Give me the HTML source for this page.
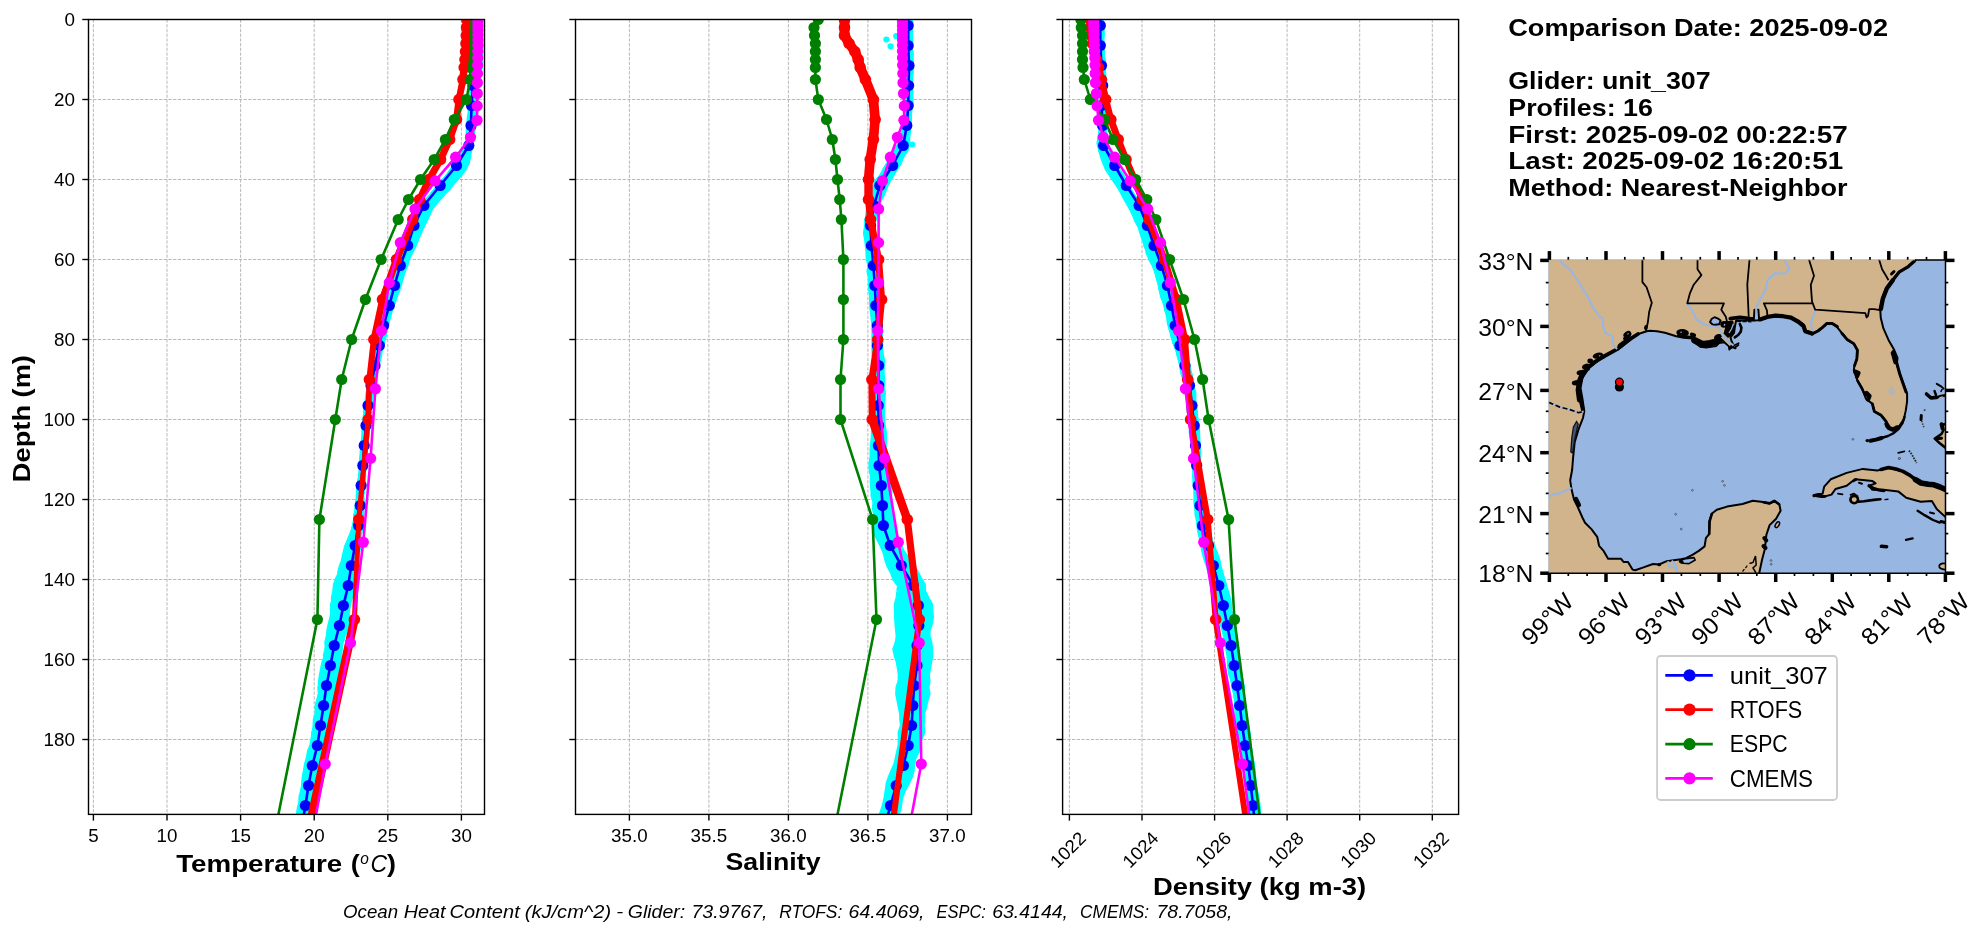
<!DOCTYPE html>
<html lang="en"><head><meta charset="utf-8"><title>Glider / model profile comparison</title>
<style>html,body{margin:0;padding:0;background:#fff;overflow:hidden}svg{display:block}text{font-family:"Liberation Sans",sans-serif}svg{will-change:transform}</style></head>
<body>
<svg width="1987" height="934" viewBox="0 0 1987 934" font-family="Liberation Sans, sans-serif">
<rect width="1987" height="934" fill="#fff"/>
<defs>
<clipPath id="clip0"><rect x="88.5" y="19.5" width="396.0" height="794.9"/></clipPath>
<clipPath id="clip1"><rect x="575.5" y="19.5" width="396.0" height="794.9"/></clipPath>
<clipPath id="clip2"><rect x="1062.6" y="19.5" width="396.0" height="794.9"/></clipPath>
<clipPath id="clipmap"><rect x="1548.6" y="259.7" width="396.9" height="313.5"/></clipPath>
</defs>
<g stroke="#b0b0b0" stroke-width="0.9" stroke-dasharray="3.3 1.4" fill="none">
<line x1="93.4" y1="19.5" x2="93.4" y2="814.4"/>
<line x1="167.0" y1="19.5" x2="167.0" y2="814.4"/>
<line x1="240.6" y1="19.5" x2="240.6" y2="814.4"/>
<line x1="314.2" y1="19.5" x2="314.2" y2="814.4"/>
<line x1="387.8" y1="19.5" x2="387.8" y2="814.4"/>
<line x1="461.4" y1="19.5" x2="461.4" y2="814.4"/>
<line x1="88.5" y1="19.5" x2="484.5" y2="19.5"/>
<line x1="88.5" y1="99.5" x2="484.5" y2="99.5"/>
<line x1="88.5" y1="179.5" x2="484.5" y2="179.5"/>
<line x1="88.5" y1="259.5" x2="484.5" y2="259.5"/>
<line x1="88.5" y1="339.5" x2="484.5" y2="339.5"/>
<line x1="88.5" y1="419.5" x2="484.5" y2="419.5"/>
<line x1="88.5" y1="499.5" x2="484.5" y2="499.5"/>
<line x1="88.5" y1="579.5" x2="484.5" y2="579.5"/>
<line x1="88.5" y1="659.5" x2="484.5" y2="659.5"/>
<line x1="88.5" y1="739.5" x2="484.5" y2="739.5"/>
</g>
<g clip-path="url(#clip0)">
<g fill="none" stroke="#00ffff" stroke-width="6" stroke-linecap="round" stroke-linejoin="round">
<polyline points="476.1,21.9 476.6,28.3 476.4,34.7 476.2,41.1 475.6,47.5 476.3,53.9 475.8,60.3 474.7,66.7 474.2,73.1 472.1,79.5 472.6,85.9 472.2,92.3 470.8,98.7 470.4,105.1 471.0,111.5 469.7,117.9 469.3,124.3 468.7,130.7 468.4,137.1 468.3,143.5 466.3,149.9 461.3,156.3 458.7,162.7 453.2,169.1 448.7,175.5 443.8,181.9 437.7,188.3 433.3,194.7 426.9,201.1 421.8,207.5 419.2,213.9 416.9,220.3 414.0,226.7 411.4,233.1 410.4,239.5 408.2,245.9 404.5,252.3 402.5,258.7 400.7,265.1 399.5,271.5 396.2,277.9 395.0,284.3 393.6,290.7 390.9,297.1 389.2,303.5 387.6,309.9 385.4,316.3 383.2,322.7 382.1,329.1 380.6,335.5 379.0,341.9 378.7,348.3 376.5,354.7 375.4,361.1 374.5,367.5 373.3,373.9 372.2,380.3 370.5,386.7 368.9,393.1 369.0,399.5 368.1,405.9 367.0,412.3 366.4,418.7 365.3,425.1 364.7,431.5 364.3,437.9 362.9,444.3 363.3,450.7 363.1,457.1 361.3,463.5 361.9,469.9 361.3,476.3 359.6,482.7 358.9,489.1 359.2,495.5 357.9,501.9 357.4,508.3 356.8,514.7 355.8,521.1 354.6,527.5 352.3,533.9 349.7,540.3 347.0,546.7 345.4,553.1 344.0,559.5 342.9,565.9 341.4,572.3 338.0,578.7 335.8,585.1 335.2,591.5 333.8,597.9 334.1,604.3 333.5,610.7 332.5,617.1 330.8,623.5 329.4,629.9 328.7,636.3 327.2,642.7 327.9,649.1 327.3,655.5 324.4,661.9 323.1,668.3 321.9,674.7 320.9,681.1 320.6,687.5 321.0,693.9 319.0,700.3 317.4,706.7 317.7,713.1 315.8,719.5 315.5,725.9 314.9,732.3 313.7,738.7 312.5,745.1 309.9,751.5 308.8,757.9 306.9,764.3 305.9,770.7 305.1,777.1 304.1,783.5 303.5,789.9 301.5,796.3 301.2,802.7 299.6,809.1 298.7,815.5"/>
<polyline points="475.6,21.9 477.1,28.3 476.2,34.7 476.1,41.1 476.0,47.5 475.7,53.9 476.5,60.3 476.3,66.7 474.6,73.1 473.0,79.5 471.6,85.9 471.1,92.3 470.8,98.7 470.9,105.1 470.8,111.5 471.2,117.9 471.1,124.3 469.5,130.7 469.2,137.1 468.0,143.5 465.8,149.9 461.6,156.3 459.9,162.7 454.0,169.1 449.5,175.5 443.4,181.9 438.7,188.3 432.5,194.7 428.9,201.1 422.9,207.5 421.0,213.9 417.5,220.3 413.9,226.7 411.2,233.1 409.8,239.5 408.0,245.9 405.3,252.3 402.7,258.7 401.3,265.1 398.8,271.5 396.5,277.9 395.4,284.3 393.6,290.7 390.7,297.1 389.3,303.5 387.3,309.9 384.7,316.3 383.3,322.7 382.9,329.1 381.1,335.5 379.1,341.9 378.0,348.3 376.7,354.7 375.8,361.1 374.8,367.5 372.2,373.9 370.9,380.3 370.3,386.7 368.5,393.1 367.7,399.5 366.7,405.9 366.1,412.3 366.4,418.7 364.8,425.1 364.9,431.5 365.0,437.9 362.9,444.3 363.6,450.7 362.9,457.1 361.7,463.5 362.5,469.9 361.4,476.3 360.1,482.7 360.4,489.1 358.6,495.5 359.5,501.9 358.8,508.3 356.2,514.7 356.2,521.1 354.6,527.5 353.3,533.9 350.7,540.3 349.9,546.7 347.8,553.1 344.7,559.5 341.8,565.9 340.2,572.3 339.9,578.7 338.6,585.1 336.3,591.5 335.5,597.9 333.0,604.3 333.0,610.7 332.9,617.1 332.2,623.5 331.0,629.9 330.9,636.3 329.0,642.7 327.3,649.1 325.8,655.5 326.4,661.9 326.5,668.3 324.9,674.7 323.2,681.1 320.5,687.5 320.7,693.9 319.7,700.3 320.6,706.7 318.0,713.1 317.1,719.5 316.8,725.9 314.1,732.3 313.6,738.7 313.1,745.1 313.0,751.5 310.9,757.9 309.3,764.3 306.2,770.7 304.7,777.1 304.3,783.5 304.5,789.9 303.4,796.3 302.8,802.7 300.8,809.1 298.3,815.5"/>
<polyline points="476.2,21.9 476.2,28.3 476.7,34.7 476.3,41.1 477.0,47.5 475.7,53.9 477.2,60.3 475.4,66.7 475.1,73.1 474.1,79.5 471.6,85.9 472.2,92.3 472.7,98.7 470.4,105.1 470.9,111.5 470.5,117.9 470.2,124.3 469.3,130.7 468.6,137.1 468.0,143.5 465.5,149.9 462.1,156.3 459.7,162.7 455.6,169.1 449.6,175.5 444.3,181.9 439.4,188.3 434.7,194.7 427.8,201.1 424.0,207.5 420.0,213.9 417.7,220.3 414.6,226.7 413.0,233.1 410.1,239.5 408.6,245.9 405.8,252.3 403.4,258.7 400.5,265.1 400.0,271.5 396.5,277.9 395.3,284.3 394.2,290.7 391.9,297.1 389.2,303.5 388.4,309.9 385.4,316.3 384.0,322.7 382.4,329.1 381.4,335.5 379.4,341.9 378.3,348.3 376.8,354.7 376.4,361.1 374.7,367.5 372.7,373.9 372.2,380.3 370.8,386.7 369.2,393.1 368.6,399.5 366.8,405.9 366.3,412.3 365.4,418.7 364.8,425.1 365.3,431.5 365.0,437.9 364.4,444.3 362.7,450.7 363.5,457.1 362.0,463.5 362.2,469.9 361.5,476.3 360.6,482.7 360.3,489.1 360.1,495.5 359.2,501.9 358.4,508.3 358.0,514.7 356.8,521.1 354.7,527.5 353.8,533.9 350.9,540.3 348.6,546.7 348.9,553.1 347.5,559.5 344.7,565.9 342.9,572.3 340.5,578.7 337.6,585.1 338.0,591.5 337.4,597.9 337.2,604.3 335.2,610.7 333.4,617.1 333.1,623.5 331.9,629.9 331.9,636.3 329.6,642.7 329.7,649.1 328.8,655.5 326.0,661.9 324.7,668.3 324.7,674.7 324.5,681.1 323.7,687.5 322.4,693.9 320.7,700.3 320.0,706.7 319.7,713.1 318.3,719.5 317.6,725.9 317.6,732.3 314.7,738.7 313.9,745.1 312.7,751.5 311.3,757.9 310.1,764.3 308.9,770.7 307.0,777.1 306.2,783.5 303.1,789.9 303.0,796.3 302.5,802.7 302.3,809.1 300.5,815.5"/>
<polyline points="477.0,21.9 477.3,28.3 476.9,34.7 477.4,41.1 476.7,47.5 476.2,53.9 477.0,60.3 476.2,66.7 474.3,73.1 473.6,79.5 472.0,85.9 472.6,92.3 472.8,98.7 472.1,105.1 472.2,111.5 470.4,117.9 471.3,124.3 470.5,130.7 468.9,137.1 468.6,143.5 465.8,149.9 462.9,156.3 459.9,162.7 455.2,169.1 450.2,175.5 446.0,181.9 440.9,188.3 434.3,194.7 429.3,201.1 424.7,207.5 420.3,213.9 418.8,220.3 414.9,226.7 413.4,233.1 410.8,239.5 407.7,245.9 405.3,252.3 404.1,258.7 401.2,265.1 399.8,271.5 397.2,277.9 396.0,284.3 394.4,290.7 392.0,297.1 389.4,303.5 388.7,309.9 385.8,316.3 383.8,322.7 382.4,329.1 382.0,335.5 379.7,341.9 378.2,348.3 377.3,354.7 376.1,361.1 374.9,367.5 373.5,373.9 372.1,380.3 370.5,386.7 369.6,393.1 369.6,399.5 367.7,405.9 367.5,412.3 366.0,418.7 364.8,425.1 364.9,431.5 364.6,437.9 363.8,444.3 362.9,450.7 362.3,457.1 361.6,463.5 362.3,469.9 361.5,476.3 361.4,482.7 360.9,489.1 360.1,495.5 359.6,501.9 359.2,508.3 358.3,514.7 357.3,521.1 356.2,527.5 353.4,533.9 352.7,540.3 350.7,546.7 349.1,553.1 347.9,559.5 346.2,565.9 344.0,572.3 341.7,578.7 340.2,585.1 337.8,591.5 338.1,597.9 338.3,604.3 336.3,610.7 334.9,617.1 333.7,623.5 332.6,629.9 331.8,636.3 330.7,642.7 330.1,649.1 328.9,655.5 327.9,661.9 325.8,668.3 325.1,674.7 324.2,681.1 324.5,687.5 323.7,693.9 321.8,700.3 321.7,706.7 319.2,713.1 319.6,719.5 318.0,725.9 317.8,732.3 316.7,738.7 315.2,745.1 312.7,751.5 311.9,757.9 310.3,764.3 309.4,770.7 308.1,777.1 306.2,783.5 304.9,789.9 304.2,796.3 303.4,802.7 303.4,809.1 302.2,815.5"/>
<polyline points="477.0,21.9 477.0,28.3 478.3,34.7 477.1,41.1 477.2,47.5 477.5,53.9 476.1,60.3 476.0,66.7 475.5,73.1 473.8,79.5 472.3,85.9 472.9,92.3 472.2,98.7 471.7,105.1 472.0,111.5 471.2,117.9 471.0,124.3 470.0,130.7 469.7,137.1 468.6,143.5 466.7,149.9 464.0,156.3 461.2,162.7 455.6,169.1 451.4,175.5 446.6,181.9 440.2,188.3 436.2,194.7 430.3,201.1 425.6,207.5 420.9,213.9 417.7,220.3 416.0,226.7 414.0,233.1 411.0,239.5 409.7,245.9 405.9,252.3 404.7,258.7 402.2,265.1 400.3,271.5 398.8,277.9 395.9,284.3 394.3,290.7 391.0,297.1 390.2,303.5 387.3,309.9 385.4,316.3 384.9,322.7 382.1,329.1 381.7,335.5 380.8,341.9 378.7,348.3 377.4,354.7 376.5,361.1 375.1,367.5 373.3,373.9 371.1,380.3 371.6,386.7 370.1,393.1 368.8,399.5 368.2,405.9 366.8,412.3 366.0,418.7 364.9,425.1 365.0,431.5 364.8,437.9 363.4,444.3 363.1,450.7 362.9,457.1 361.7,463.5 362.5,469.9 360.8,476.3 361.6,482.7 360.6,489.1 359.6,495.5 358.6,501.9 358.9,508.3 356.9,514.7 356.5,521.1 356.8,527.5 355.1,533.9 353.2,540.3 351.1,546.7 349.2,553.1 347.9,559.5 346.9,565.9 344.4,572.3 344.3,578.7 342.3,585.1 339.5,591.5 338.0,597.9 337.0,604.3 337.4,610.7 336.4,617.1 336.4,623.5 334.4,629.9 332.9,636.3 332.1,642.7 330.7,649.1 331.1,655.5 330.1,661.9 328.2,668.3 325.6,674.7 325.8,681.1 324.6,687.5 324.1,693.9 324.3,700.3 321.7,706.7 320.0,713.1 319.8,719.5 319.0,725.9 318.1,732.3 317.6,738.7 317.0,745.1 315.1,751.5 312.6,757.9 310.9,764.3 309.5,770.7 308.1,777.1 308.4,783.5 305.8,789.9 304.5,796.3 303.8,802.7 302.5,809.1 302.8,815.5"/>
<polyline points="477.7,21.9 477.0,28.3 478.0,34.7 477.1,41.1 477.8,47.5 477.9,53.9 477.3,60.3 476.2,66.7 476.4,73.1 473.6,79.5 474.0,85.9 472.5,92.3 472.6,98.7 472.1,105.1 471.8,111.5 471.7,117.9 471.6,124.3 470.9,130.7 469.0,137.1 468.7,143.5 466.3,149.9 464.8,156.3 461.1,162.7 457.9,169.1 451.8,175.5 447.8,181.9 442.1,188.3 435.8,194.7 429.6,201.1 425.5,207.5 423.2,213.9 419.8,220.3 417.1,226.7 415.2,233.1 411.3,239.5 409.0,245.9 407.5,252.3 403.9,258.7 401.5,265.1 400.7,271.5 398.3,277.9 397.0,284.3 394.3,290.7 391.7,297.1 390.5,303.5 388.2,309.9 386.7,316.3 384.0,322.7 382.1,329.1 382.3,335.5 380.9,341.9 378.4,348.3 376.9,354.7 376.7,361.1 375.0,367.5 373.2,373.9 372.7,380.3 371.5,386.7 370.6,393.1 369.7,399.5 368.5,405.9 366.3,412.3 366.8,418.7 365.2,425.1 366.2,431.5 365.5,437.9 364.4,444.3 363.5,450.7 363.5,457.1 362.3,463.5 362.6,469.9 362.6,476.3 360.3,482.7 360.3,489.1 360.5,495.5 358.9,501.9 358.8,508.3 358.9,514.7 357.6,521.1 355.9,527.5 354.4,533.9 352.7,540.3 351.5,546.7 351.3,553.1 348.7,559.5 347.2,565.9 346.2,572.3 343.5,578.7 342.1,585.1 341.7,591.5 340.0,597.9 339.4,604.3 338.2,610.7 336.8,617.1 335.3,623.5 334.6,629.9 335.2,636.3 334.3,642.7 332.9,649.1 331.2,655.5 330.1,661.9 329.2,668.3 327.2,674.7 327.5,681.1 325.6,687.5 325.0,693.9 323.8,700.3 322.7,706.7 321.0,713.1 320.8,719.5 319.8,725.9 319.2,732.3 318.5,738.7 316.0,745.1 314.4,751.5 313.5,757.9 311.6,764.3 311.8,770.7 309.4,777.1 307.6,783.5 306.2,789.9 305.5,796.3 305.0,802.7 304.3,809.1 303.3,815.5"/>
<polyline points="477.3,21.9 478.6,28.3 478.4,34.7 478.1,41.1 477.6,47.5 478.5,53.9 477.0,60.3 476.5,66.7 476.8,73.1 474.8,79.5 473.7,85.9 473.3,92.3 473.3,98.7 472.9,105.1 472.8,111.5 472.0,117.9 472.1,124.3 471.0,130.7 470.5,137.1 469.6,143.5 466.6,149.9 464.6,156.3 462.2,162.7 458.1,169.1 452.6,175.5 448.1,181.9 443.5,188.3 436.5,194.7 430.5,201.1 425.5,207.5 422.2,213.9 420.3,220.3 417.7,226.7 416.0,233.1 412.5,239.5 409.2,245.9 406.5,252.3 405.0,258.7 402.0,265.1 400.1,271.5 398.7,277.9 397.2,284.3 394.1,290.7 391.9,297.1 389.5,303.5 389.4,309.9 387.3,316.3 384.8,322.7 382.3,329.1 382.5,335.5 380.6,341.9 379.5,348.3 378.0,354.7 376.4,361.1 374.7,367.5 373.9,373.9 371.4,380.3 370.6,386.7 370.2,393.1 369.0,399.5 368.1,405.9 367.5,412.3 366.0,418.7 365.5,425.1 364.6,431.5 365.3,437.9 364.7,444.3 363.0,450.7 362.7,457.1 362.5,463.5 362.9,469.9 362.3,476.3 360.7,482.7 360.7,489.1 360.4,495.5 360.2,501.9 358.6,508.3 358.0,514.7 358.4,521.1 357.3,527.5 355.0,533.9 353.2,540.3 352.0,546.7 350.0,553.1 350.0,559.5 349.1,565.9 346.5,572.3 345.7,578.7 343.7,585.1 341.0,591.5 341.9,597.9 341.5,604.3 340.5,610.7 338.5,617.1 337.4,623.5 336.8,629.9 335.2,636.3 335.2,642.7 334.2,649.1 332.7,655.5 331.6,661.9 329.3,668.3 327.6,674.7 327.7,681.1 326.5,687.5 326.0,693.9 324.3,700.3 323.6,706.7 322.8,713.1 322.4,719.5 321.5,725.9 320.7,732.3 319.7,738.7 317.2,745.1 315.8,751.5 314.7,757.9 313.0,764.3 311.6,770.7 311.1,777.1 309.9,783.5 307.5,789.9 305.9,796.3 305.3,802.7 305.4,809.1 303.8,815.5"/>
<polyline points="479.2,21.9 477.4,28.3 477.3,34.7 478.5,41.1 478.3,47.5 478.7,53.9 478.7,60.3 477.0,66.7 476.8,73.1 474.6,79.5 474.2,85.9 472.8,92.3 473.8,98.7 472.4,105.1 472.9,111.5 472.2,117.9 472.1,124.3 470.8,130.7 469.3,137.1 468.9,143.5 467.1,149.9 466.0,156.3 461.7,162.7 458.9,169.1 452.9,175.5 448.5,181.9 443.9,188.3 437.7,194.7 430.7,201.1 426.0,207.5 423.1,213.9 421.0,220.3 418.2,226.7 415.5,233.1 412.0,239.5 410.0,245.9 407.5,252.3 404.6,258.7 403.1,265.1 400.5,271.5 398.9,277.9 396.3,284.3 394.5,290.7 391.9,297.1 390.7,303.5 388.9,309.9 387.7,316.3 384.6,322.7 382.6,329.1 381.7,335.5 381.0,341.9 378.8,348.3 378.7,354.7 376.0,361.1 375.2,367.5 372.9,373.9 372.4,380.3 371.6,386.7 370.2,393.1 368.8,399.5 368.4,405.9 368.4,412.3 366.4,418.7 366.6,425.1 365.7,431.5 366.0,437.9 364.1,444.3 364.6,450.7 362.6,457.1 363.8,463.5 361.7,469.9 361.7,476.3 361.0,482.7 360.5,489.1 361.1,495.5 359.4,501.9 359.6,508.3 359.0,514.7 357.5,521.1 357.9,527.5 356.7,533.9 354.2,540.3 352.2,546.7 351.3,553.1 350.8,559.5 350.3,565.9 348.4,572.3 345.6,578.7 343.6,585.1 343.5,591.5 342.7,597.9 342.0,604.3 342.0,610.7 339.7,617.1 339.0,623.5 337.6,629.9 336.7,636.3 335.0,642.7 334.7,649.1 334.2,655.5 331.5,661.9 329.6,668.3 328.5,674.7 328.9,681.1 328.0,687.5 327.6,693.9 326.7,700.3 324.6,706.7 323.1,713.1 323.2,719.5 322.3,725.9 320.5,732.3 319.6,738.7 318.7,745.1 316.0,751.5 315.7,757.9 312.8,764.3 313.5,770.7 312.3,777.1 309.8,783.5 308.2,789.9 307.3,796.3 306.0,802.7 306.8,809.1 305.4,815.5"/>
<polyline points="478.0,21.9 478.4,28.3 478.5,34.7 478.9,41.1 479.0,47.5 478.8,53.9 477.4,60.3 477.6,66.7 476.2,73.1 476.0,79.5 474.1,85.9 473.8,92.3 473.2,98.7 472.6,105.1 473.4,111.5 473.2,117.9 473.1,124.3 471.2,130.7 470.4,137.1 468.6,143.5 467.7,149.9 465.2,156.3 463.1,162.7 460.7,169.1 455.9,175.5 449.9,181.9 444.1,188.3 437.9,194.7 432.4,201.1 427.4,207.5 425.4,213.9 421.1,220.3 418.8,226.7 415.6,233.1 412.6,239.5 410.8,245.9 407.4,252.3 406.6,258.7 403.9,265.1 400.6,271.5 399.8,277.9 396.9,284.3 395.6,290.7 392.3,297.1 391.5,303.5 389.4,309.9 386.8,316.3 384.8,322.7 383.5,329.1 381.5,335.5 381.8,341.9 379.5,348.3 378.1,354.7 376.5,361.1 374.4,367.5 374.1,373.9 373.3,380.3 372.2,386.7 370.2,393.1 369.2,399.5 369.1,405.9 368.2,412.3 367.4,418.7 366.8,425.1 366.5,431.5 364.9,437.9 364.3,444.3 363.7,450.7 363.1,457.1 363.4,463.5 361.9,469.9 362.4,476.3 361.1,482.7 360.8,489.1 359.9,495.5 360.9,501.9 359.4,508.3 358.5,514.7 359.0,521.1 356.5,527.5 355.7,533.9 355.9,540.3 353.6,546.7 353.1,553.1 351.9,559.5 349.7,565.9 348.0,572.3 347.3,578.7 345.5,585.1 345.3,591.5 344.0,597.9 343.8,604.3 342.1,610.7 339.9,617.1 340.0,623.5 339.7,629.9 338.3,636.3 337.1,642.7 335.4,649.1 332.7,655.5 331.9,661.9 331.5,668.3 330.8,674.7 329.4,681.1 328.2,687.5 327.1,693.9 326.0,700.3 324.9,706.7 325.1,713.1 324.5,719.5 322.6,725.9 322.3,732.3 320.3,738.7 319.8,745.1 317.8,751.5 317.1,757.9 315.3,764.3 314.1,770.7 311.2,777.1 309.9,783.5 310.0,789.9 308.3,796.3 308.0,802.7 306.5,809.1 304.6,815.5"/>
<polyline points="477.9,21.9 479.0,28.3 479.0,34.7 479.5,41.1 479.5,47.5 478.8,53.9 478.3,60.3 478.9,66.7 476.6,73.1 476.2,79.5 474.4,85.9 474.8,92.3 472.8,98.7 473.5,105.1 472.9,111.5 474.0,117.9 472.0,124.3 471.9,130.7 469.5,137.1 469.0,143.5 467.8,149.9 466.6,156.3 465.1,162.7 460.3,169.1 454.2,175.5 449.3,181.9 443.8,188.3 439.6,194.7 433.0,201.1 427.9,207.5 425.1,213.9 421.8,220.3 418.8,226.7 416.3,233.1 414.1,239.5 410.4,245.9 408.9,252.3 405.4,258.7 403.0,265.1 400.7,271.5 400.6,277.9 397.7,284.3 394.7,290.7 394.1,297.1 391.4,303.5 389.6,309.9 386.6,316.3 385.0,322.7 384.3,329.1 382.5,335.5 381.3,341.9 379.8,348.3 378.4,354.7 377.4,361.1 376.0,367.5 374.2,373.9 371.9,380.3 371.3,386.7 370.3,393.1 369.3,399.5 369.3,405.9 367.9,412.3 367.8,418.7 367.1,425.1 366.3,431.5 364.5,437.9 365.0,444.3 364.1,450.7 364.3,457.1 362.6,463.5 361.8,469.9 362.5,476.3 362.0,482.7 361.6,489.1 360.3,495.5 360.8,501.9 360.6,508.3 359.9,514.7 358.8,521.1 357.9,527.5 358.0,533.9 356.8,540.3 355.0,546.7 352.8,553.1 350.9,559.5 350.6,565.9 350.6,572.3 348.7,578.7 347.4,585.1 345.3,591.5 344.8,597.9 343.3,604.3 343.6,610.7 342.6,617.1 342.7,623.5 339.4,629.9 338.6,636.3 336.5,642.7 336.4,649.1 336.4,655.5 334.0,661.9 332.6,668.3 330.8,674.7 329.4,681.1 329.5,687.5 328.4,693.9 328.3,700.3 326.4,706.7 325.6,713.1 323.7,719.5 323.4,725.9 322.1,732.3 321.1,738.7 320.9,745.1 318.5,751.5 315.9,757.9 314.7,764.3 313.8,770.7 313.3,777.1 312.4,783.5 310.0,789.9 309.3,796.3 307.7,802.7 307.5,809.1 306.4,815.5"/>
<polyline points="479.4,21.9 479.7,28.3 479.3,34.7 479.1,41.1 479.0,47.5 479.8,53.9 479.6,60.3 478.4,66.7 478.1,73.1 476.6,79.5 474.7,85.9 474.4,92.3 473.4,98.7 474.4,105.1 472.8,111.5 472.9,117.9 473.4,124.3 472.5,130.7 470.3,137.1 469.9,143.5 468.1,149.9 467.0,156.3 464.5,162.7 461.1,169.1 456.3,175.5 452.0,181.9 445.5,188.3 438.7,194.7 432.8,201.1 427.2,207.5 424.4,213.9 421.8,220.3 419.5,226.7 417.3,233.1 413.5,239.5 411.1,245.9 409.2,252.3 406.4,258.7 403.8,265.1 402.5,271.5 400.8,277.9 398.6,284.3 395.4,290.7 393.8,297.1 391.7,303.5 389.1,309.9 387.0,316.3 385.9,322.7 383.0,329.1 381.6,335.5 382.0,341.9 379.8,348.3 378.1,354.7 376.8,361.1 374.8,367.5 373.3,373.9 372.5,380.3 371.9,386.7 371.2,393.1 368.8,399.5 368.3,405.9 368.4,412.3 367.2,418.7 367.3,425.1 365.9,431.5 365.9,437.9 365.6,444.3 364.4,450.7 363.2,457.1 362.6,463.5 362.3,469.9 362.7,476.3 362.8,482.7 360.9,489.1 360.8,495.5 359.8,501.9 359.8,508.3 359.4,514.7 358.6,521.1 359.1,527.5 358.0,533.9 355.7,540.3 355.6,546.7 354.8,553.1 353.9,559.5 352.5,565.9 350.6,572.3 349.8,578.7 347.5,585.1 347.7,591.5 347.2,597.9 345.5,604.3 345.6,610.7 342.7,617.1 341.5,623.5 340.3,629.9 340.3,636.3 339.2,642.7 338.1,649.1 336.9,655.5 334.8,661.9 332.9,668.3 331.6,674.7 332.1,681.1 330.7,687.5 329.9,693.9 328.1,700.3 328.0,706.7 325.4,713.1 324.4,719.5 324.5,725.9 323.5,732.3 322.2,738.7 320.3,745.1 319.7,751.5 317.4,757.9 316.7,764.3 315.6,770.7 313.3,777.1 313.0,783.5 310.5,789.9 310.3,796.3 308.9,802.7 308.2,809.1 306.9,815.5"/>
<polyline points="478.9,21.9 479.6,28.3 480.1,34.7 478.5,41.1 479.8,47.5 478.8,53.9 479.8,60.3 478.5,66.7 477.1,73.1 475.9,79.5 475.9,85.9 475.3,92.3 473.6,98.7 474.0,105.1 474.2,111.5 473.7,117.9 473.1,124.3 472.1,130.7 470.2,137.1 469.2,143.5 467.8,149.9 466.5,156.3 465.3,162.7 461.5,169.1 455.8,175.5 451.8,181.9 446.5,188.3 440.5,194.7 434.6,201.1 429.6,207.5 425.0,213.9 423.7,220.3 420.0,226.7 418.0,233.1 414.6,239.5 412.6,245.9 409.9,252.3 405.9,258.7 403.4,265.1 402.4,271.5 400.3,277.9 398.7,284.3 396.3,290.7 394.2,297.1 391.8,303.5 389.9,309.9 387.0,316.3 385.9,322.7 384.6,329.1 382.9,335.5 381.7,341.9 380.0,348.3 379.3,354.7 377.3,361.1 376.4,367.5 374.8,373.9 372.0,380.3 372.3,386.7 370.0,393.1 370.0,399.5 369.5,405.9 367.7,412.3 367.6,418.7 366.8,425.1 366.7,431.5 366.2,437.9 364.6,444.3 364.0,450.7 364.6,457.1 362.9,463.5 363.7,469.9 361.7,476.3 362.1,482.7 362.2,489.1 360.6,495.5 360.8,501.9 360.4,508.3 359.6,514.7 359.9,521.1 358.7,527.5 357.5,533.9 356.4,540.3 356.0,546.7 355.1,553.1 353.3,559.5 352.3,565.9 352.1,572.3 351.2,578.7 350.2,585.1 347.5,591.5 346.9,597.9 347.1,604.3 345.5,610.7 345.9,617.1 344.3,623.5 342.3,629.9 340.0,636.3 339.7,642.7 339.0,649.1 338.3,655.5 336.0,661.9 335.2,668.3 333.5,674.7 332.0,681.1 332.0,687.5 330.7,693.9 330.7,700.3 329.1,706.7 327.2,713.1 326.0,719.5 325.1,725.9 324.9,732.3 323.8,738.7 322.2,745.1 319.8,751.5 318.3,757.9 316.8,764.3 315.7,770.7 314.0,777.1 312.8,783.5 312.9,789.9 311.5,796.3 309.3,802.7 309.5,809.1 308.7,815.5"/>
<polyline points="479.7,21.9 479.1,28.3 479.4,34.7 479.7,41.1 479.9,47.5 480.1,53.9 479.6,60.3 480.0,66.7 477.8,73.1 476.8,79.5 476.1,85.9 474.6,92.3 475.6,98.7 473.7,105.1 474.5,111.5 473.9,117.9 473.8,124.3 472.0,130.7 470.8,137.1 470.1,143.5 468.1,149.9 468.4,156.3 466.7,162.7 462.8,169.1 457.2,175.5 451.8,181.9 448.0,188.3 440.3,194.7 435.2,201.1 429.5,207.5 426.0,213.9 424.3,220.3 421.3,226.7 417.4,233.1 416.0,239.5 412.9,245.9 409.7,252.3 406.5,258.7 404.2,265.1 402.4,271.5 400.2,277.9 398.5,284.3 395.5,290.7 394.1,297.1 392.3,303.5 389.5,309.9 387.5,316.3 386.8,322.7 383.7,329.1 382.7,335.5 381.3,341.9 379.2,348.3 379.0,354.7 377.4,361.1 376.2,367.5 373.8,373.9 373.5,380.3 372.0,386.7 371.2,393.1 369.8,399.5 369.2,405.9 368.2,412.3 367.2,418.7 367.7,425.1 365.9,431.5 365.4,437.9 364.6,444.3 363.9,450.7 363.8,457.1 364.5,463.5 362.7,469.9 363.4,476.3 362.5,482.7 361.6,489.1 361.2,495.5 361.2,501.9 360.4,508.3 361.2,514.7 360.4,521.1 358.9,527.5 358.1,533.9 358.1,540.3 355.4,546.7 354.6,553.1 354.5,559.5 354.8,565.9 353.0,572.3 351.7,578.7 350.9,585.1 349.3,591.5 348.9,597.9 347.7,604.3 346.9,610.7 346.8,617.1 344.1,623.5 343.1,629.9 341.9,636.3 340.2,642.7 339.9,649.1 338.3,655.5 337.4,661.9 334.7,668.3 333.7,674.7 333.3,681.1 332.9,687.5 332.1,693.9 331.0,700.3 329.4,706.7 326.9,713.1 327.3,719.5 327.1,725.9 326.0,732.3 325.3,738.7 324.0,745.1 320.4,751.5 318.7,757.9 318.4,764.3 315.9,770.7 315.6,777.1 314.0,783.5 312.8,789.9 311.2,796.3 310.4,802.7 310.5,809.1 309.6,815.5"/>
<polyline points="480.5,21.9 480.1,28.3 479.4,34.7 480.3,41.1 480.4,47.5 478.9,53.9 479.0,60.3 479.8,66.7 478.3,73.1 476.7,79.5 475.8,85.9 475.6,92.3 475.6,98.7 473.5,105.1 474.3,111.5 473.7,117.9 473.2,124.3 471.8,130.7 471.4,137.1 469.9,143.5 469.5,149.9 467.3,156.3 466.7,162.7 463.6,169.1 458.5,175.5 452.7,181.9 447.1,188.3 441.6,194.7 435.9,201.1 430.6,207.5 427.8,213.9 424.8,220.3 421.3,226.7 418.9,233.1 415.7,239.5 413.5,245.9 410.2,252.3 407.1,258.7 405.5,265.1 402.5,271.5 400.5,277.9 399.0,284.3 397.1,290.7 394.4,297.1 392.4,303.5 389.8,309.9 388.5,316.3 385.6,322.7 384.1,329.1 384.0,335.5 381.4,341.9 379.7,348.3 378.5,354.7 376.3,361.1 375.2,367.5 374.1,373.9 373.9,380.3 371.8,386.7 370.8,393.1 369.0,399.5 368.9,405.9 368.5,412.3 367.9,418.7 366.4,425.1 367.1,431.5 366.1,437.9 365.8,444.3 364.4,450.7 365.0,457.1 363.3,463.5 362.8,469.9 362.8,476.3 361.3,482.7 362.4,489.1 361.2,495.5 361.9,501.9 361.4,508.3 361.4,514.7 359.7,521.1 360.6,527.5 359.2,533.9 357.7,540.3 358.6,546.7 356.7,553.1 355.8,559.5 354.0,565.9 353.8,572.3 353.2,578.7 353.7,585.1 352.1,591.5 349.8,597.9 348.2,604.3 346.7,610.7 346.4,617.1 347.3,623.5 344.9,629.9 342.7,636.3 340.7,642.7 339.3,649.1 339.3,655.5 338.5,661.9 337.7,668.3 336.8,674.7 334.4,681.1 332.9,687.5 331.7,693.9 331.2,700.3 331.4,706.7 329.8,713.1 328.9,719.5 327.6,725.9 325.8,732.3 324.8,738.7 324.2,745.1 322.1,751.5 320.6,757.9 319.6,764.3 317.6,770.7 315.9,777.1 314.5,783.5 314.5,789.9 312.7,796.3 312.3,802.7 311.3,809.1 310.0,815.5"/>
</g>
<polyline points="477.0,25.5 477.0,45.5 476.5,65.5 473.0,85.5 471.5,105.5 471.0,125.5 468.8,145.5 456.5,165.5 440.2,185.5 423.9,205.5 414.0,225.5 407.7,245.5 400.3,265.5 394.5,285.5 389.3,305.5 383.6,325.5 379.4,345.5 375.0,365.5 371.0,385.5 368.0,405.5 366.0,425.5 364.2,445.5 362.8,465.5 361.1,485.5 360.2,505.5 358.5,525.5 355.1,545.5 351.3,565.5 348.2,585.5 343.4,605.5 339.4,625.5 334.2,645.5 330.4,665.5 326.5,685.5 323.6,705.5 320.5,725.5 317.4,745.5 312.3,765.5 308.5,785.5 305.4,805.5 302.0,825.5" fill="none" stroke="#0000ff" stroke-width="2.6" stroke-linejoin="round"/>
<g fill="#0000ff"><circle cx="477.0" cy="25.5" r="5.6"/><circle cx="477.0" cy="45.5" r="5.6"/><circle cx="476.5" cy="65.5" r="5.6"/><circle cx="473.0" cy="85.5" r="5.6"/><circle cx="471.5" cy="105.5" r="5.6"/><circle cx="471.0" cy="125.5" r="5.6"/><circle cx="468.8" cy="145.5" r="5.6"/><circle cx="456.5" cy="165.5" r="5.6"/><circle cx="440.2" cy="185.5" r="5.6"/><circle cx="423.9" cy="205.5" r="5.6"/><circle cx="414.0" cy="225.5" r="5.6"/><circle cx="407.7" cy="245.5" r="5.6"/><circle cx="400.3" cy="265.5" r="5.6"/><circle cx="394.5" cy="285.5" r="5.6"/><circle cx="389.3" cy="305.5" r="5.6"/><circle cx="383.6" cy="325.5" r="5.6"/><circle cx="379.4" cy="345.5" r="5.6"/><circle cx="375.0" cy="365.5" r="5.6"/><circle cx="371.0" cy="385.5" r="5.6"/><circle cx="368.0" cy="405.5" r="5.6"/><circle cx="366.0" cy="425.5" r="5.6"/><circle cx="364.2" cy="445.5" r="5.6"/><circle cx="362.8" cy="465.5" r="5.6"/><circle cx="361.1" cy="485.5" r="5.6"/><circle cx="360.2" cy="505.5" r="5.6"/><circle cx="358.5" cy="525.5" r="5.6"/><circle cx="355.1" cy="545.5" r="5.6"/><circle cx="351.3" cy="565.5" r="5.6"/><circle cx="348.2" cy="585.5" r="5.6"/><circle cx="343.4" cy="605.5" r="5.6"/><circle cx="339.4" cy="625.5" r="5.6"/><circle cx="334.2" cy="645.5" r="5.6"/><circle cx="330.4" cy="665.5" r="5.6"/><circle cx="326.5" cy="685.5" r="5.6"/><circle cx="323.6" cy="705.5" r="5.6"/><circle cx="320.5" cy="725.5" r="5.6"/><circle cx="317.4" cy="745.5" r="5.6"/><circle cx="312.3" cy="765.5" r="5.6"/><circle cx="308.5" cy="785.5" r="5.6"/><circle cx="305.4" cy="805.5" r="5.6"/></g>
<g stroke="#ff0000" stroke-linecap="round" fill="none">
<line x1="466.8" y1="19.5" x2="466.6" y2="27.5" stroke-width="6.5"/>
<line x1="466.6" y1="27.5" x2="466.3" y2="35.5" stroke-width="6.5"/>
<line x1="466.3" y1="35.5" x2="466.0" y2="43.5" stroke-width="6.6"/>
<line x1="466.0" y1="43.5" x2="465.6" y2="51.5" stroke-width="6.6"/>
<line x1="465.6" y1="51.5" x2="465.0" y2="59.5" stroke-width="6.7"/>
<line x1="465.0" y1="59.5" x2="464.2" y2="67.5" stroke-width="6.7"/>
<line x1="464.2" y1="67.5" x2="463.0" y2="79.5" stroke-width="6.7"/>
<line x1="463.0" y1="79.5" x2="459.0" y2="99.5" stroke-width="6.8"/>
<line x1="459.0" y1="99.5" x2="456.5" y2="119.5" stroke-width="6.9"/>
<line x1="456.5" y1="119.5" x2="449.6" y2="139.5" stroke-width="7.0"/>
<line x1="449.6" y1="139.5" x2="440.5" y2="159.5" stroke-width="7.0"/>
<line x1="440.5" y1="159.5" x2="429.0" y2="179.5" stroke-width="7.1"/>
<line x1="429.0" y1="179.5" x2="419.7" y2="199.5" stroke-width="7.2"/>
<line x1="419.7" y1="199.5" x2="412.8" y2="219.5" stroke-width="7.3"/>
<line x1="412.8" y1="219.5" x2="396.5" y2="259.5" stroke-width="7.4"/>
<line x1="396.5" y1="259.5" x2="382.5" y2="299.5" stroke-width="7.2"/>
<line x1="382.5" y1="299.5" x2="373.9" y2="339.5" stroke-width="6.8"/>
<line x1="373.9" y1="339.5" x2="369.4" y2="379.5" stroke-width="6.2"/>
<line x1="369.4" y1="379.5" x2="368.2" y2="419.5" stroke-width="5.8"/>
<line x1="368.2" y1="419.5" x2="358.8" y2="519.5" stroke-width="5.2"/>
<line x1="358.8" y1="519.5" x2="354.4" y2="619.5" stroke-width="5.1"/>
<line x1="354.4" y1="619.5" x2="311.0" y2="819.5" stroke-width="8.6"/>
</g>
<g fill="#ff0000"><circle cx="466.8" cy="19.5" r="5.8"/><circle cx="466.6" cy="27.5" r="5.8"/><circle cx="466.3" cy="35.5" r="5.8"/><circle cx="466.0" cy="43.5" r="5.8"/><circle cx="465.6" cy="51.5" r="5.8"/><circle cx="465.0" cy="59.5" r="5.8"/><circle cx="464.2" cy="67.5" r="5.8"/><circle cx="463.0" cy="79.5" r="5.8"/><circle cx="459.0" cy="99.5" r="5.8"/><circle cx="456.5" cy="119.5" r="5.8"/><circle cx="449.6" cy="139.5" r="5.8"/><circle cx="440.5" cy="159.5" r="5.8"/><circle cx="429.0" cy="179.5" r="5.8"/><circle cx="419.7" cy="199.5" r="5.8"/><circle cx="412.8" cy="219.5" r="5.8"/><circle cx="396.5" cy="259.5" r="5.8"/><circle cx="382.5" cy="299.5" r="5.8"/><circle cx="373.9" cy="339.5" r="5.8"/><circle cx="369.4" cy="379.5" r="5.8"/><circle cx="368.2" cy="419.5" r="5.8"/><circle cx="358.8" cy="519.5" r="5.8"/><circle cx="354.4" cy="619.5" r="5.8"/><circle cx="311.0" cy="819.5" r="5.8"/></g>
<polyline points="470.2,19.5 470.2,27.5 470.2,35.5 470.3,43.5 470.4,51.5 470.4,59.5 470.4,67.5 470.2,79.5 466.4,99.5 454.3,119.5 445.4,139.5 434.2,159.5 420.5,179.5 408.5,199.5 398.2,219.5 381.1,259.5 365.4,299.5 351.6,339.5 341.7,379.5 335.3,419.5 319.4,519.5 317.4,619.5 277.4,819.5" fill="none" stroke="#008000" stroke-width="2.6" stroke-linejoin="round"/>
<g fill="#008000"><circle cx="470.2" cy="19.5" r="5.6"/><circle cx="470.2" cy="27.5" r="5.6"/><circle cx="470.2" cy="35.5" r="5.6"/><circle cx="470.3" cy="43.5" r="5.6"/><circle cx="470.4" cy="51.5" r="5.6"/><circle cx="470.4" cy="59.5" r="5.6"/><circle cx="470.4" cy="67.5" r="5.6"/><circle cx="470.2" cy="79.5" r="5.6"/><circle cx="466.4" cy="99.5" r="5.6"/><circle cx="454.3" cy="119.5" r="5.6"/><circle cx="445.4" cy="139.5" r="5.6"/><circle cx="434.2" cy="159.5" r="5.6"/><circle cx="420.5" cy="179.5" r="5.6"/><circle cx="408.5" cy="199.5" r="5.6"/><circle cx="398.2" cy="219.5" r="5.6"/><circle cx="381.1" cy="259.5" r="5.6"/><circle cx="365.4" cy="299.5" r="5.6"/><circle cx="351.6" cy="339.5" r="5.6"/><circle cx="341.7" cy="379.5" r="5.6"/><circle cx="335.3" cy="419.5" r="5.6"/><circle cx="319.4" cy="519.5" r="5.6"/><circle cx="317.4" cy="619.5" r="5.6"/><circle cx="277.4" cy="819.5" r="5.6"/></g>
<polyline points="466.6,15 466.4,30 465.6,50 464.3,67 463.2,76" fill="none" stroke="#ff0000" stroke-width="7.4"/>
<polyline points="477.9,21.5 477.9,25.7 477.9,30.1 477.9,34.8 477.9,39.8 477.9,45.3 477.8,51.2 477.7,57.8 477.6,65.1 477.5,73.4 477.4,82.7 477.3,93.5 477.2,105.9 477.0,120.3 470.5,137.3 455.6,157.2 435.2,180.9 415.0,209.0 400.3,242.6 389.3,282.7 381.4,330.9 375.4,388.8 370.6,458.4 363.3,542.2 350.5,642.9 325.3,764.0 298.8,909.4" fill="none" stroke="#ff00ff" stroke-width="2.6" stroke-linejoin="round"/>
<g fill="#ff00ff"><circle cx="477.9" cy="21.5" r="5.6"/><circle cx="477.9" cy="25.7" r="5.6"/><circle cx="477.9" cy="30.1" r="5.6"/><circle cx="477.9" cy="34.8" r="5.6"/><circle cx="477.9" cy="39.8" r="5.6"/><circle cx="477.9" cy="45.3" r="5.6"/><circle cx="477.8" cy="51.2" r="5.6"/><circle cx="477.7" cy="57.8" r="5.6"/><circle cx="477.6" cy="65.1" r="5.6"/><circle cx="477.5" cy="73.4" r="5.6"/><circle cx="477.4" cy="82.7" r="5.6"/><circle cx="477.3" cy="93.5" r="5.6"/><circle cx="477.2" cy="105.9" r="5.6"/><circle cx="477.0" cy="120.3" r="5.6"/><circle cx="470.5" cy="137.3" r="5.6"/><circle cx="455.6" cy="157.2" r="5.6"/><circle cx="435.2" cy="180.9" r="5.6"/><circle cx="415.0" cy="209.0" r="5.6"/><circle cx="400.3" cy="242.6" r="5.6"/><circle cx="389.3" cy="282.7" r="5.6"/><circle cx="381.4" cy="330.9" r="5.6"/><circle cx="375.4" cy="388.8" r="5.6"/><circle cx="370.6" cy="458.4" r="5.6"/><circle cx="363.3" cy="542.2" r="5.6"/><circle cx="350.5" cy="642.9" r="5.6"/><circle cx="325.3" cy="764.0" r="5.6"/></g>
</g>
<rect x="88.5" y="19.5" width="396.0" height="794.9" fill="none" stroke="#000" stroke-width="1.4"/>
<g stroke="#000" stroke-width="1.4">
<line x1="93.4" y1="814.4" x2="93.4" y2="820.6"/>
<line x1="167.0" y1="814.4" x2="167.0" y2="820.6"/>
<line x1="240.6" y1="814.4" x2="240.6" y2="820.6"/>
<line x1="314.2" y1="814.4" x2="314.2" y2="820.6"/>
<line x1="387.8" y1="814.4" x2="387.8" y2="820.6"/>
<line x1="461.4" y1="814.4" x2="461.4" y2="820.6"/>
<line x1="82.3" y1="19.5" x2="88.5" y2="19.5"/>
<line x1="82.3" y1="99.5" x2="88.5" y2="99.5"/>
<line x1="82.3" y1="179.5" x2="88.5" y2="179.5"/>
<line x1="82.3" y1="259.5" x2="88.5" y2="259.5"/>
<line x1="82.3" y1="339.5" x2="88.5" y2="339.5"/>
<line x1="82.3" y1="419.5" x2="88.5" y2="419.5"/>
<line x1="82.3" y1="499.5" x2="88.5" y2="499.5"/>
<line x1="82.3" y1="579.5" x2="88.5" y2="579.5"/>
<line x1="82.3" y1="659.5" x2="88.5" y2="659.5"/>
<line x1="82.3" y1="739.5" x2="88.5" y2="739.5"/>
</g>
<g stroke="#b0b0b0" stroke-width="0.9" stroke-dasharray="3.3 1.4" fill="none">
<line x1="629.4" y1="19.5" x2="629.4" y2="814.4"/>
<line x1="708.9" y1="19.5" x2="708.9" y2="814.4"/>
<line x1="788.4" y1="19.5" x2="788.4" y2="814.4"/>
<line x1="867.9" y1="19.5" x2="867.9" y2="814.4"/>
<line x1="947.4" y1="19.5" x2="947.4" y2="814.4"/>
<line x1="575.5" y1="19.5" x2="971.5" y2="19.5"/>
<line x1="575.5" y1="99.5" x2="971.5" y2="99.5"/>
<line x1="575.5" y1="179.5" x2="971.5" y2="179.5"/>
<line x1="575.5" y1="259.5" x2="971.5" y2="259.5"/>
<line x1="575.5" y1="339.5" x2="971.5" y2="339.5"/>
<line x1="575.5" y1="419.5" x2="971.5" y2="419.5"/>
<line x1="575.5" y1="499.5" x2="971.5" y2="499.5"/>
<line x1="575.5" y1="579.5" x2="971.5" y2="579.5"/>
<line x1="575.5" y1="659.5" x2="971.5" y2="659.5"/>
<line x1="575.5" y1="739.5" x2="971.5" y2="739.5"/>
</g>
<g clip-path="url(#clip1)">
<g fill="none" stroke="#00ffff" stroke-width="6" stroke-linecap="round" stroke-linejoin="round">
<polyline points="907.6,21.9 909.0,28.3 908.9,34.7 908.2,41.1 908.6,47.5 908.1,53.9 908.3,60.3 908.5,66.7 909.1,73.1 908.2,79.5 909.5,85.9 907.8,92.3 907.8,98.7 907.4,105.1 908.2,111.5 907.1,117.9 906.4,124.3 904.5,130.7 903.2,137.1 900.7,143.5 896.9,149.9 893.5,156.3 889.8,162.7 885.6,169.1 882.5,175.5 877.7,181.9 874.3,188.3 872.8,194.7 870.4,201.1 869.2,207.5 868.5,213.9 867.4,220.3 866.9,226.7 865.9,233.1 867.1,239.5 867.8,245.9 868.4,252.3 868.6,258.7 870.4,265.1 869.4,271.5 870.9,277.9 870.8,284.3 871.2,290.7 872.0,297.1 872.1,303.5 872.5,309.9 873.8,316.3 874.3,322.7 874.1,329.1 874.9,335.5 874.6,341.9 874.7,348.3 875.5,354.7 874.7,361.1 876.1,367.5 876.0,373.9 876.2,380.3 875.0,386.7 874.7,393.1 874.2,399.5 874.6,405.9 876.0,412.3 876.4,418.7 876.0,425.1 873.8,431.5 873.7,437.9 872.8,444.3 872.5,450.7 872.5,457.1 871.4,463.5 871.6,469.9 872.9,476.3 872.9,482.7 873.5,489.1 873.5,495.5 875.4,501.9 874.8,508.3 876.2,514.7 875.6,521.1 874.7,527.5 876.4,533.9 879.9,540.3 883.1,546.7 885.7,553.1 887.2,559.5 889.4,565.9 892.9,572.3 895.1,578.7 899.9,585.1 899.3,591.5 898.5,597.9 896.8,604.3 896.8,610.7 897.0,617.1 897.4,623.5 898.0,629.9 898.6,636.3 897.8,642.7 895.3,649.1 896.7,655.5 898.7,661.9 899.8,668.3 900.7,674.7 900.6,681.1 898.5,687.5 898.1,693.9 899.4,700.3 900.6,706.7 902.0,713.1 902.2,719.5 903.0,725.9 900.6,732.3 900.7,738.7 900.6,745.1 899.2,751.5 897.7,757.9 896.4,764.3 893.5,770.7 890.8,777.1 888.6,783.5 887.7,789.9 886.8,796.3 885.4,802.7 883.7,809.1 881.5,815.5"/>
<polyline points="908.0,21.9 908.6,28.3 908.4,34.7 907.7,41.1 908.5,47.5 908.3,53.9 909.2,60.3 909.4,66.7 908.5,73.1 908.8,79.5 908.7,85.9 908.2,92.3 907.6,98.7 907.4,105.1 908.7,111.5 907.9,117.9 906.6,124.3 905.4,130.7 902.8,137.1 901.6,143.5 898.7,149.9 894.9,156.3 891.0,162.7 888.0,169.1 883.3,175.5 877.0,181.9 874.4,188.3 872.8,194.7 871.0,201.1 870.3,207.5 868.5,213.9 868.3,220.3 867.5,226.7 866.4,233.1 868.1,239.5 867.9,245.9 869.4,252.3 870.1,258.7 871.1,265.1 871.2,271.5 870.9,277.9 872.4,284.3 871.9,290.7 873.4,297.1 873.0,303.5 873.0,309.9 873.3,316.3 874.0,322.7 875.5,329.1 874.4,335.5 874.5,341.9 874.4,348.3 874.5,354.7 876.0,361.1 876.2,367.5 876.6,373.9 877.1,380.3 876.1,386.7 874.9,393.1 874.9,399.5 875.6,405.9 876.4,412.3 877.1,418.7 875.9,425.1 874.4,431.5 874.0,437.9 874.0,444.3 872.9,450.7 874.1,457.1 873.9,463.5 873.1,469.9 873.0,476.3 872.7,482.7 873.5,489.1 874.5,495.5 876.4,501.9 876.8,508.3 877.0,514.7 875.9,521.1 877.2,527.5 878.8,533.9 881.0,540.3 883.5,546.7 886.6,553.1 888.9,559.5 891.9,565.9 894.0,572.3 897.9,578.7 901.9,585.1 901.4,591.5 900.5,597.9 898.4,604.3 899.0,610.7 900.3,617.1 901.7,623.5 902.2,629.9 899.8,636.3 897.6,642.7 897.7,649.1 900.0,655.5 901.3,661.9 902.3,668.3 902.0,674.7 900.8,681.1 900.2,687.5 901.2,693.9 902.3,700.3 903.5,706.7 904.3,713.1 903.2,719.5 903.6,725.9 901.6,732.3 902.0,738.7 901.0,745.1 901.8,751.5 899.1,757.9 897.9,764.3 895.3,770.7 892.9,777.1 891.2,783.5 889.5,789.9 888.9,796.3 887.2,802.7 884.3,809.1 882.8,815.5"/>
<polyline points="907.6,21.9 908.8,28.3 907.8,34.7 908.8,41.1 908.3,47.5 909.3,53.9 908.1,60.3 910.0,66.7 908.3,73.1 908.2,79.5 908.0,85.9 908.0,92.3 909.4,98.7 909.0,105.1 908.8,111.5 907.1,117.9 907.2,124.3 905.8,130.7 903.8,137.1 901.2,143.5 899.6,149.9 895.8,156.3 892.2,162.7 887.2,169.1 882.6,175.5 878.7,181.9 875.4,188.3 873.9,194.7 873.1,201.1 870.5,207.5 870.0,213.9 867.3,220.3 867.3,226.7 868.2,233.1 867.6,239.5 869.3,245.9 869.1,252.3 870.2,258.7 870.7,265.1 870.4,271.5 872.6,277.9 872.1,284.3 872.3,290.7 873.1,297.1 872.5,303.5 873.0,309.9 874.8,316.3 874.4,322.7 875.6,329.1 876.1,335.5 875.1,341.9 875.8,348.3 876.2,354.7 875.7,361.1 876.0,367.5 877.4,373.9 877.3,380.3 877.0,386.7 876.5,393.1 876.2,399.5 877.2,405.9 877.2,412.3 877.3,418.7 876.9,425.1 874.4,431.5 875.1,437.9 874.6,444.3 873.7,450.7 874.0,457.1 874.1,463.5 873.4,469.9 873.9,476.3 874.5,482.7 876.2,489.1 877.6,495.5 878.1,501.9 877.0,508.3 877.1,514.7 876.2,521.1 877.6,527.5 881.1,533.9 883.9,540.3 884.4,546.7 886.9,553.1 889.8,559.5 892.7,565.9 896.4,572.3 900.3,578.7 903.1,585.1 903.0,591.5 900.8,597.9 901.8,604.3 901.2,610.7 903.1,617.1 904.6,623.5 902.2,629.9 900.7,636.3 899.3,642.7 900.5,649.1 903.7,655.5 904.2,661.9 905.5,668.3 904.4,674.7 901.9,681.1 902.7,687.5 902.9,693.9 905.1,700.3 905.5,706.7 904.8,713.1 905.0,719.5 904.3,725.9 903.4,732.3 904.3,738.7 903.5,745.1 902.1,751.5 901.2,757.9 899.1,764.3 895.4,770.7 895.1,777.1 893.2,783.5 890.5,789.9 888.6,796.3 886.8,802.7 885.4,809.1 883.8,815.5"/>
<polyline points="908.5,21.9 909.3,28.3 908.0,34.7 907.8,41.1 908.4,47.5 909.2,53.9 909.9,60.3 910.1,66.7 908.3,73.1 908.4,79.5 908.2,85.9 909.0,92.3 908.6,98.7 909.4,105.1 908.4,111.5 907.8,117.9 907.1,124.3 904.9,130.7 904.8,137.1 903.4,143.5 900.2,149.9 896.2,156.3 891.1,162.7 886.8,169.1 883.4,175.5 880.2,181.9 876.3,188.3 875.3,194.7 873.0,201.1 870.9,207.5 869.6,213.9 868.2,220.3 868.8,226.7 868.0,233.1 868.7,239.5 869.3,245.9 869.8,252.3 869.9,258.7 872.0,265.1 871.6,271.5 872.2,277.9 872.5,284.3 873.2,290.7 872.5,297.1 874.2,303.5 874.6,309.9 875.7,316.3 875.2,322.7 875.6,329.1 876.3,335.5 874.8,341.9 876.6,348.3 876.6,354.7 876.5,361.1 876.5,367.5 876.2,373.9 877.4,380.3 876.6,386.7 878.1,393.1 877.2,399.5 876.4,405.9 877.2,412.3 876.9,418.7 877.3,425.1 875.9,431.5 876.6,437.9 874.8,444.3 874.3,450.7 874.0,457.1 873.7,463.5 874.5,469.9 876.3,476.3 877.5,482.7 877.0,489.1 876.9,495.5 877.6,501.9 877.4,508.3 879.8,514.7 878.8,521.1 880.0,527.5 882.1,533.9 882.5,540.3 885.0,546.7 888.8,553.1 893.9,559.5 896.9,565.9 898.0,572.3 901.0,578.7 902.3,585.1 903.0,591.5 904.8,597.9 906.9,604.3 906.1,610.7 904.4,617.1 903.9,623.5 902.6,629.9 903.7,636.3 904.4,642.7 906.5,649.1 905.5,655.5 905.4,661.9 904.3,668.3 904.8,674.7 906.2,681.1 906.4,687.5 906.8,693.9 906.3,700.3 904.2,706.7 904.6,713.1 905.2,719.5 907.1,725.9 906.2,732.3 905.9,738.7 903.5,745.1 902.3,751.5 900.6,757.9 900.8,764.3 899.4,770.7 897.4,777.1 893.6,783.5 891.8,789.9 889.9,796.3 887.7,802.7 887.8,809.1 886.4,815.5"/>
<polyline points="909.2,21.9 909.1,28.3 908.9,34.7 909.0,41.1 908.3,47.5 909.6,53.9 909.7,60.3 908.9,66.7 910.2,73.1 909.6,79.5 908.2,85.9 908.0,92.3 908.2,98.7 909.0,105.1 908.7,111.5 908.6,117.9 907.7,124.3 905.1,130.7 903.7,137.1 902.4,143.5 900.1,149.9 896.4,156.3 892.3,162.7 888.9,169.1 884.3,175.5 880.9,181.9 878.2,188.3 876.0,194.7 873.2,201.1 871.0,207.5 870.1,213.9 869.1,220.3 868.9,226.7 869.7,233.1 869.6,239.5 869.0,245.9 870.1,252.3 870.6,258.7 871.0,265.1 871.6,271.5 872.8,277.9 874.0,284.3 873.7,290.7 872.9,297.1 874.9,303.5 875.3,309.9 875.7,316.3 875.1,322.7 875.7,329.1 875.6,335.5 875.9,341.9 875.7,348.3 877.3,354.7 877.7,361.1 877.8,367.5 877.3,373.9 877.3,380.3 876.7,386.7 878.2,393.1 878.4,399.5 878.2,405.9 877.9,412.3 876.8,418.7 876.7,425.1 876.2,431.5 877.4,437.9 877.2,444.3 876.8,450.7 875.5,457.1 875.4,463.5 876.2,469.9 876.3,476.3 877.4,482.7 879.3,489.1 879.3,495.5 878.7,501.9 878.9,508.3 879.5,514.7 881.3,521.1 881.3,527.5 882.5,533.9 885.2,540.3 885.8,546.7 890.6,553.1 894.4,559.5 897.1,565.9 900.8,572.3 902.9,578.7 905.6,585.1 905.9,591.5 906.4,597.9 907.9,604.3 908.6,610.7 908.1,617.1 907.0,623.5 906.5,629.9 905.3,636.3 906.1,642.7 908.5,649.1 908.6,655.5 908.6,661.9 907.5,668.3 906.8,674.7 908.0,681.1 907.9,687.5 909.4,693.9 907.8,700.3 907.3,706.7 906.9,713.1 907.3,719.5 907.5,725.9 908.2,732.3 907.2,738.7 905.6,745.1 903.6,751.5 902.0,757.9 900.6,764.3 900.1,770.7 898.7,777.1 896.2,783.5 892.1,789.9 890.0,796.3 888.6,802.7 887.9,809.1 886.9,815.5"/>
<polyline points="908.7,21.9 909.6,28.3 909.6,34.7 909.4,41.1 908.5,47.5 909.6,53.9 908.5,60.3 910.3,66.7 909.7,73.1 910.1,79.5 909.1,85.9 909.5,92.3 908.5,98.7 909.5,105.1 907.7,111.5 907.0,117.9 907.0,124.3 906.6,130.7 904.9,137.1 903.8,143.5 900.5,149.9 897.1,156.3 894.2,162.7 889.0,169.1 884.9,175.5 880.7,181.9 876.8,188.3 875.5,194.7 874.0,201.1 871.6,207.5 871.2,213.9 869.4,220.3 868.0,226.7 868.6,233.1 868.9,239.5 870.3,245.9 871.7,252.3 870.8,258.7 872.1,265.1 872.3,271.5 873.0,277.9 872.8,284.3 874.8,290.7 874.1,297.1 875.0,303.5 874.9,309.9 875.6,316.3 876.7,322.7 876.7,329.1 876.5,335.5 877.7,341.9 876.3,348.3 877.9,354.7 877.7,361.1 877.3,367.5 879.0,373.9 879.0,380.3 878.3,386.7 878.5,393.1 876.9,399.5 877.1,405.9 877.9,412.3 879.2,418.7 878.2,425.1 878.7,431.5 877.2,437.9 876.8,444.3 876.9,450.7 876.2,457.1 878.0,463.5 877.8,469.9 877.1,476.3 877.4,482.7 879.1,489.1 879.6,495.5 881.4,501.9 882.0,508.3 881.5,514.7 880.9,521.1 881.8,527.5 884.5,533.9 886.2,540.3 889.6,546.7 892.3,553.1 894.6,559.5 896.8,565.9 900.5,572.3 904.9,578.7 909.3,585.1 910.5,591.5 911.0,597.9 908.9,604.3 908.8,610.7 908.3,617.1 909.9,623.5 911.1,629.9 911.5,636.3 909.1,642.7 907.4,649.1 908.1,655.5 909.9,661.9 911.7,668.3 911.2,674.7 910.6,681.1 908.8,687.5 908.5,693.9 908.4,700.3 909.2,706.7 910.5,713.1 911.0,719.5 910.1,725.9 908.7,732.3 907.1,738.7 907.5,745.1 905.4,751.5 904.3,757.9 902.6,764.3 900.5,770.7 897.3,777.1 894.9,783.5 893.2,789.9 893.4,796.3 890.5,802.7 889.3,809.1 887.5,815.5"/>
<polyline points="909.1,21.9 909.6,28.3 908.7,34.7 909.6,41.1 908.1,47.5 909.4,53.9 910.1,60.3 909.7,66.7 910.1,73.1 910.2,79.5 909.8,85.9 909.1,92.3 909.4,98.7 909.6,105.1 908.7,111.5 907.2,117.9 906.8,124.3 906.5,130.7 904.5,137.1 903.5,143.5 902.2,149.9 897.5,156.3 894.5,162.7 890.3,169.1 886.4,175.5 882.0,181.9 878.5,188.3 875.8,194.7 873.7,201.1 872.2,207.5 871.4,213.9 869.6,220.3 869.6,226.7 869.7,233.1 870.7,239.5 869.8,245.9 871.4,252.3 871.9,258.7 873.4,265.1 872.8,271.5 873.1,277.9 873.8,284.3 873.6,290.7 874.7,297.1 875.9,303.5 875.8,309.9 875.8,316.3 875.9,322.7 877.0,329.1 876.6,335.5 876.1,341.9 877.2,348.3 878.5,354.7 878.5,361.1 878.0,367.5 879.0,373.9 879.2,380.3 877.7,386.7 878.3,393.1 878.9,399.5 878.1,405.9 877.7,412.3 878.9,418.7 879.2,425.1 878.5,431.5 879.3,437.9 878.2,444.3 877.7,450.7 877.1,457.1 877.6,463.5 878.8,469.9 879.5,476.3 880.4,482.7 881.1,489.1 881.0,495.5 880.9,501.9 880.8,508.3 881.9,514.7 883.1,521.1 883.2,527.5 885.2,533.9 886.7,540.3 888.8,546.7 892.9,553.1 897.8,559.5 901.7,565.9 903.3,572.3 906.6,578.7 908.5,585.1 909.1,591.5 912.8,597.9 913.0,604.3 913.4,610.7 911.3,617.1 910.7,623.5 910.5,629.9 911.1,636.3 912.5,642.7 914.0,649.1 913.0,655.5 911.9,661.9 912.1,668.3 911.7,674.7 913.0,681.1 913.0,687.5 913.1,693.9 910.7,700.3 909.8,706.7 910.6,713.1 911.4,719.5 911.5,725.9 910.5,732.3 910.3,738.7 907.5,745.1 906.0,751.5 905.5,757.9 904.8,764.3 903.2,770.7 899.6,777.1 897.8,783.5 893.9,789.9 893.7,796.3 891.9,802.7 890.9,809.1 889.6,815.5"/>
<polyline points="909.4,21.9 909.8,28.3 908.3,34.7 908.3,41.1 909.5,47.5 908.6,53.9 910.1,60.3 909.6,66.7 910.2,73.1 908.9,79.5 909.5,85.9 909.6,92.3 909.5,98.7 908.4,105.1 908.1,111.5 908.8,117.9 908.3,124.3 906.7,130.7 904.5,137.1 904.4,143.5 901.9,149.9 898.6,156.3 895.9,162.7 891.3,169.1 887.1,175.5 881.6,181.9 878.4,188.3 878.0,194.7 876.2,201.1 872.8,207.5 872.2,213.9 870.8,220.3 869.7,226.7 869.8,233.1 870.3,239.5 871.9,245.9 871.0,252.3 871.4,258.7 873.1,265.1 872.2,271.5 873.6,277.9 874.6,284.3 875.3,290.7 874.7,297.1 875.5,303.5 876.0,309.9 876.9,316.3 877.1,322.7 878.4,329.1 877.5,335.5 878.2,341.9 877.3,348.3 878.3,354.7 878.2,361.1 879.4,367.5 879.7,373.9 878.4,380.3 879.4,386.7 877.9,393.1 879.2,399.5 878.3,405.9 878.9,412.3 879.2,418.7 878.8,425.1 878.8,431.5 878.1,437.9 879.0,444.3 878.7,450.7 879.7,457.1 878.7,463.5 878.9,469.9 879.5,476.3 880.1,482.7 882.2,489.1 882.9,495.5 883.3,501.9 883.4,508.3 882.3,514.7 882.7,521.1 885.1,527.5 887.8,533.9 889.9,540.3 892.9,546.7 895.5,553.1 897.7,559.5 900.1,565.9 905.0,572.3 909.5,578.7 913.0,585.1 912.7,591.5 912.6,597.9 913.8,604.3 913.3,610.7 914.9,617.1 916.6,623.5 914.8,629.9 913.4,636.3 911.8,642.7 913.3,649.1 914.0,655.5 916.4,661.9 917.3,668.3 915.6,674.7 913.3,681.1 912.0,687.5 913.8,693.9 914.4,700.3 914.6,706.7 913.3,713.1 912.2,719.5 912.4,725.9 911.6,732.3 911.6,738.7 910.3,745.1 909.7,751.5 907.7,757.9 905.5,764.3 902.7,770.7 899.6,777.1 898.0,783.5 896.9,789.9 895.8,796.3 892.5,802.7 889.6,809.1 888.6,815.5"/>
<polyline points="909.0,21.9 909.5,28.3 909.1,34.7 909.1,41.1 909.2,47.5 910.3,53.9 910.5,60.3 910.0,66.7 909.1,73.1 910.0,79.5 908.8,85.9 908.5,92.3 908.6,98.7 909.1,105.1 909.4,111.5 908.2,117.9 908.3,124.3 906.8,130.7 906.2,137.1 905.1,143.5 902.9,149.9 898.7,156.3 894.7,162.7 891.6,169.1 887.6,175.5 883.9,181.9 880.6,188.3 878.6,194.7 875.7,201.1 873.7,207.5 872.4,213.9 870.8,220.3 869.6,226.7 871.6,233.1 871.8,239.5 870.8,245.9 871.5,252.3 871.7,258.7 874.1,265.1 873.2,271.5 874.4,277.9 873.9,284.3 875.6,290.7 875.6,297.1 876.2,303.5 876.6,309.9 877.5,316.3 878.4,322.7 876.9,329.1 877.2,335.5 877.0,341.9 878.1,348.3 878.1,354.7 879.6,361.1 879.6,367.5 879.6,373.9 879.8,380.3 878.6,386.7 878.8,393.1 879.7,399.5 879.6,405.9 879.9,412.3 879.1,418.7 880.3,425.1 879.7,431.5 879.9,437.9 880.2,444.3 880.3,450.7 879.6,457.1 879.7,463.5 879.3,469.9 880.7,476.3 881.8,482.7 883.4,489.1 883.5,495.5 882.5,501.9 883.7,508.3 884.0,514.7 885.8,521.1 887.6,527.5 889.2,533.9 889.5,540.3 891.2,546.7 895.4,553.1 900.2,559.5 903.8,565.9 907.5,572.3 910.3,578.7 913.4,585.1 913.4,591.5 915.5,597.9 917.7,604.3 918.8,610.7 917.4,617.1 916.7,623.5 915.5,629.9 916.0,636.3 916.7,642.7 918.7,649.1 917.9,655.5 917.4,661.9 916.1,668.3 914.9,674.7 916.7,681.1 917.2,687.5 917.7,693.9 915.1,700.3 915.0,706.7 914.1,713.1 914.4,719.5 913.7,725.9 913.7,732.3 913.6,738.7 911.7,745.1 908.4,751.5 906.5,757.9 907.2,764.3 905.3,770.7 902.7,777.1 900.2,783.5 896.9,789.9 894.8,796.3 894.3,802.7 891.5,809.1 891.8,815.5"/>
<polyline points="908.9,21.9 909.7,28.3 909.4,34.7 909.6,41.1 909.5,47.5 909.4,53.9 910.6,60.3 910.4,66.7 909.7,73.1 909.9,79.5 909.3,85.9 908.8,92.3 908.9,98.7 909.8,105.1 908.3,111.5 908.0,117.9 907.3,124.3 908.2,130.7 905.7,137.1 904.4,143.5 902.9,149.9 898.7,156.3 896.9,162.7 893.0,169.1 887.3,175.5 884.1,181.9 879.7,188.3 877.6,194.7 876.9,201.1 875.4,207.5 872.8,213.9 871.0,220.3 870.4,226.7 871.4,233.1 872.3,239.5 872.3,245.9 872.4,252.3 873.0,258.7 874.1,265.1 873.5,271.5 874.3,277.9 874.7,284.3 876.6,290.7 876.5,297.1 875.7,303.5 877.0,309.9 877.9,316.3 877.6,322.7 878.1,329.1 878.1,335.5 879.0,341.9 878.3,348.3 879.4,354.7 879.2,361.1 880.4,367.5 881.0,373.9 880.2,380.3 879.4,386.7 880.4,393.1 880.5,399.5 879.7,405.9 881.1,412.3 881.5,418.7 881.4,425.1 880.8,431.5 879.7,437.9 879.6,444.3 880.1,450.7 880.7,457.1 880.8,463.5 880.6,469.9 880.7,476.3 882.1,482.7 883.0,489.1 885.4,495.5 885.5,501.9 886.5,508.3 885.7,514.7 885.0,521.1 887.1,527.5 890.0,533.9 893.4,540.3 895.3,546.7 897.4,553.1 899.9,559.5 903.7,565.9 907.9,572.3 912.5,578.7 917.4,585.1 917.2,591.5 917.5,597.9 917.6,604.3 918.8,610.7 919.6,617.1 921.2,623.5 920.5,629.9 919.1,636.3 917.5,642.7 918.0,649.1 919.2,655.5 919.9,661.9 921.8,668.3 920.8,674.7 919.0,681.1 916.3,687.5 916.8,693.9 916.8,700.3 917.9,706.7 917.7,713.1 916.8,719.5 915.0,725.9 914.0,732.3 913.1,738.7 912.5,745.1 911.8,751.5 909.4,757.9 908.0,764.3 904.4,770.7 902.5,777.1 900.2,783.5 899.3,789.9 898.4,796.3 894.6,802.7 892.8,809.1 891.3,815.5"/>
<polyline points="909.6,21.9 908.6,28.3 909.9,34.7 910.0,41.1 910.0,47.5 910.1,53.9 910.3,60.3 910.6,66.7 910.0,73.1 909.1,79.5 909.2,85.9 909.5,92.3 909.4,98.7 910.2,105.1 908.7,111.5 908.4,117.9 908.8,124.3 907.0,130.7 906.2,137.1 905.0,143.5 903.4,149.9 899.7,156.3 897.1,162.7 892.8,169.1 887.9,175.5 883.9,181.9 881.4,188.3 879.0,194.7 878.0,201.1 875.8,207.5 873.0,213.9 872.0,220.3 870.5,226.7 871.0,233.1 872.6,239.5 873.1,245.9 872.3,252.3 872.9,258.7 874.1,265.1 873.9,271.5 874.7,277.9 875.8,284.3 875.9,290.7 875.7,297.1 876.3,303.5 876.6,309.9 877.6,316.3 879.1,322.7 879.0,329.1 878.6,335.5 878.5,341.9 879.6,348.3 880.2,354.7 880.8,361.1 881.1,367.5 880.5,373.9 880.4,380.3 879.6,386.7 881.1,393.1 879.9,399.5 879.9,405.9 881.2,412.3 880.2,418.7 881.2,425.1 880.2,431.5 881.2,437.9 881.4,444.3 881.1,450.7 881.9,457.1 881.9,463.5 880.9,469.9 882.1,476.3 884.0,482.7 885.7,489.1 886.0,495.5 886.1,501.9 886.4,508.3 885.8,514.7 886.8,521.1 888.8,527.5 892.4,533.9 893.5,540.3 894.7,546.7 897.9,553.1 902.0,559.5 907.1,565.9 911.2,572.3 915.1,578.7 917.5,585.1 918.0,591.5 919.6,597.9 921.7,604.3 922.4,610.7 924.0,617.1 923.9,623.5 922.3,629.9 919.7,636.3 919.2,642.7 920.8,649.1 922.8,655.5 923.1,661.9 921.9,668.3 921.7,674.7 919.4,681.1 919.3,687.5 919.6,693.9 921.0,700.3 919.7,706.7 918.7,713.1 916.4,719.5 916.8,725.9 915.9,732.3 915.3,738.7 915.2,745.1 912.2,751.5 911.3,757.9 907.7,764.3 906.9,770.7 904.6,777.1 902.3,783.5 901.3,789.9 897.5,796.3 896.3,802.7 893.3,809.1 892.0,815.5"/>
<polyline points="908.8,21.9 910.2,28.3 910.0,34.7 909.3,41.1 910.1,47.5 909.3,53.9 909.9,60.3 910.1,66.7 909.9,73.1 910.0,79.5 909.8,85.9 910.1,92.3 910.0,98.7 909.3,105.1 909.0,111.5 908.8,117.9 907.8,124.3 906.8,130.7 906.0,137.1 906.7,143.5 903.5,149.9 900.2,156.3 897.8,162.7 893.6,169.1 889.1,175.5 884.6,181.9 882.9,188.3 879.6,194.7 877.0,201.1 875.7,207.5 873.1,213.9 873.0,220.3 872.3,226.7 872.1,233.1 873.0,239.5 872.1,245.9 873.4,252.3 873.3,258.7 873.8,265.1 875.5,271.5 876.5,277.9 876.2,284.3 876.8,290.7 876.2,297.1 876.5,303.5 877.8,309.9 878.6,316.3 878.1,322.7 878.7,329.1 879.3,335.5 879.0,341.9 878.7,348.3 879.8,354.7 881.5,361.1 880.4,367.5 880.0,373.9 879.9,380.3 880.8,386.7 881.7,393.1 882.0,399.5 881.4,405.9 880.7,412.3 880.5,418.7 881.9,425.1 881.9,431.5 882.0,437.9 883.1,444.3 882.7,450.7 882.9,457.1 882.1,463.5 881.9,469.9 884.9,476.3 885.7,482.7 886.0,489.1 887.7,495.5 886.3,501.9 886.6,508.3 888.3,514.7 889.1,521.1 891.3,527.5 893.5,533.9 894.3,540.3 896.2,546.7 899.1,553.1 904.4,559.5 909.0,565.9 912.7,572.3 917.0,578.7 920.1,585.1 920.1,591.5 921.4,597.9 924.4,604.3 925.9,610.7 925.9,617.1 925.3,623.5 924.1,629.9 921.9,636.3 921.9,642.7 925.1,649.1 925.0,655.5 925.0,661.9 923.9,668.3 923.5,674.7 922.1,681.1 922.7,687.5 923.0,693.9 922.7,700.3 919.8,706.7 918.4,713.1 918.5,719.5 918.7,725.9 918.5,732.3 917.2,738.7 915.9,745.1 914.5,751.5 911.9,757.9 909.4,764.3 908.4,770.7 905.6,777.1 904.7,783.5 901.3,789.9 898.4,796.3 896.9,802.7 895.2,809.1 894.1,815.5"/>
<polyline points="910.3,21.9 909.9,28.3 908.7,34.7 910.4,41.1 909.2,47.5 909.2,53.9 910.5,60.3 910.6,66.7 909.5,73.1 909.5,79.5 909.7,85.9 910.5,92.3 909.2,98.7 909.1,105.1 908.3,111.5 908.4,117.9 907.7,124.3 907.9,130.7 907.4,137.1 906.5,143.5 904.4,149.9 901.3,156.3 897.9,162.7 894.6,169.1 889.6,175.5 887.3,181.9 883.0,188.3 880.0,194.7 877.5,201.1 875.1,207.5 874.8,213.9 872.1,220.3 871.8,226.7 872.7,233.1 872.2,239.5 873.4,245.9 872.6,252.3 875.0,258.7 875.4,265.1 876.3,271.5 876.0,277.9 875.4,284.3 877.0,290.7 876.6,297.1 877.5,303.5 878.6,309.9 878.1,316.3 878.7,322.7 879.0,329.1 878.7,335.5 880.2,341.9 880.3,348.3 880.4,354.7 881.5,361.1 881.7,367.5 880.7,373.9 881.7,380.3 882.0,386.7 882.3,393.1 882.4,399.5 880.7,405.9 881.3,412.3 881.4,418.7 881.9,425.1 883.4,431.5 883.1,437.9 883.7,444.3 882.7,450.7 882.7,457.1 882.8,463.5 884.8,469.9 886.6,476.3 887.6,482.7 886.6,489.1 887.1,495.5 886.8,501.9 888.1,508.3 889.2,514.7 890.3,521.1 891.1,527.5 892.8,533.9 895.8,540.3 896.7,546.7 902.4,553.1 907.0,559.5 911.0,565.9 913.3,572.3 917.6,578.7 921.0,585.1 922.8,591.5 925.9,597.9 927.6,604.3 928.8,610.7 927.1,617.1 925.2,623.5 925.5,629.9 925.2,636.3 927.6,642.7 928.0,649.1 927.3,655.5 926.9,661.9 926.1,668.3 924.7,674.7 925.8,681.1 926.1,687.5 923.9,693.9 922.5,700.3 922.0,706.7 920.3,713.1 921.3,719.5 921.0,725.9 920.9,732.3 919.3,738.7 916.9,745.1 914.9,751.5 913.4,757.9 911.9,764.3 909.9,770.7 908.3,777.1 905.5,783.5 902.6,789.9 900.0,796.3 898.0,802.7 897.5,809.1 894.9,815.5"/>
<polyline points="910.2,21.9 909.3,28.3 910.2,34.7 910.1,41.1 909.4,47.5 910.9,53.9 909.8,60.3 910.4,66.7 910.7,73.1 909.4,79.5 910.0,85.9 910.0,92.3 910.6,98.7 910.5,105.1 908.8,111.5 908.4,117.9 908.4,124.3 907.7,130.7 906.9,137.1 907.6,143.5 905.7,149.9 901.1,156.3 899.1,162.7 894.8,169.1 891.1,175.5 886.9,181.9 884.5,188.3 881.9,194.7 878.5,201.1 876.3,207.5 875.3,213.9 873.5,220.3 871.9,226.7 872.3,233.1 873.9,239.5 873.7,245.9 873.8,252.3 874.6,258.7 875.3,265.1 875.3,271.5 876.8,277.9 876.0,284.3 876.4,290.7 877.1,297.1 877.5,303.5 878.7,309.9 879.8,316.3 879.6,322.7 879.9,329.1 879.9,335.5 880.2,341.9 879.9,348.3 880.8,354.7 882.3,361.1 881.6,367.5 881.7,373.9 882.3,380.3 882.0,386.7 882.9,393.1 882.3,399.5 881.9,405.9 882.1,412.3 882.0,418.7 882.6,425.1 883.8,431.5 884.2,437.9 883.8,444.3 883.8,450.7 883.3,457.1 883.4,463.5 885.8,469.9 886.8,476.3 888.6,482.7 889.8,489.1 889.1,495.5 889.6,501.9 889.4,508.3 890.0,514.7 892.2,521.1 893.0,527.5 894.5,533.9 897.3,540.3 899.6,546.7 902.4,553.1 907.8,559.5 912.4,565.9 915.8,572.3 919.1,578.7 923.0,585.1 923.1,591.5 926.2,597.9 929.9,604.3 930.5,610.7 931.0,617.1 930.0,623.5 927.7,629.9 927.6,636.3 929.5,642.7 930.1,649.1 930.4,655.5 929.2,661.9 928.2,668.3 926.9,674.7 927.6,681.1 926.5,687.5 927.6,693.9 925.6,700.3 924.2,706.7 922.1,713.1 922.2,719.5 921.8,725.9 922.3,732.3 919.6,738.7 917.9,745.1 916.7,751.5 913.3,757.9 912.1,764.3 911.7,770.7 909.7,777.1 906.7,783.5 903.1,789.9 900.6,796.3 899.5,802.7 898.6,809.1 895.9,815.5"/>
</g>
<g fill="#00ffff"><circle cx="886.4" cy="39.5" r="3.1"/><circle cx="890.6" cy="46.3" r="3.1"/><circle cx="896.2" cy="36.0" r="3.1"/><circle cx="912.3" cy="144.5" r="3.1"/></g>
<polyline points="908.2,25.5 908.2,45.5 909.0,65.5 908.6,85.5 908.2,105.5 906.8,125.5 903.2,145.5 892.6,165.5 879.9,185.5 873.9,205.5 870.5,225.5 871.4,245.5 873.4,265.5 874.8,285.5 875.8,305.5 877.4,325.5 877.4,345.5 878.6,365.5 878.6,385.5 878.2,405.5 878.6,425.5 878.4,445.5 879.1,465.5 881.3,485.5 882.5,505.5 883.4,525.5 890.2,545.5 901.3,565.5 913.3,585.5 918.3,605.5 918.8,625.5 917.0,645.5 917.0,665.5 914.2,685.5 912.8,705.5 911.6,725.5 908.2,745.5 903.4,765.5 896.2,785.5 890.5,805.5 885.0,825.5" fill="none" stroke="#0000ff" stroke-width="2.6" stroke-linejoin="round"/>
<g fill="#0000ff"><circle cx="908.2" cy="25.5" r="5.6"/><circle cx="908.2" cy="45.5" r="5.6"/><circle cx="909.0" cy="65.5" r="5.6"/><circle cx="908.6" cy="85.5" r="5.6"/><circle cx="908.2" cy="105.5" r="5.6"/><circle cx="906.8" cy="125.5" r="5.6"/><circle cx="903.2" cy="145.5" r="5.6"/><circle cx="892.6" cy="165.5" r="5.6"/><circle cx="879.9" cy="185.5" r="5.6"/><circle cx="873.9" cy="205.5" r="5.6"/><circle cx="870.5" cy="225.5" r="5.6"/><circle cx="871.4" cy="245.5" r="5.6"/><circle cx="873.4" cy="265.5" r="5.6"/><circle cx="874.8" cy="285.5" r="5.6"/><circle cx="875.8" cy="305.5" r="5.6"/><circle cx="877.4" cy="325.5" r="5.6"/><circle cx="877.4" cy="345.5" r="5.6"/><circle cx="878.6" cy="365.5" r="5.6"/><circle cx="878.6" cy="385.5" r="5.6"/><circle cx="878.2" cy="405.5" r="5.6"/><circle cx="878.6" cy="425.5" r="5.6"/><circle cx="878.4" cy="445.5" r="5.6"/><circle cx="879.1" cy="465.5" r="5.6"/><circle cx="881.3" cy="485.5" r="5.6"/><circle cx="882.5" cy="505.5" r="5.6"/><circle cx="883.4" cy="525.5" r="5.6"/><circle cx="890.2" cy="545.5" r="5.6"/><circle cx="901.3" cy="565.5" r="5.6"/><circle cx="913.3" cy="585.5" r="5.6"/><circle cx="918.3" cy="605.5" r="5.6"/><circle cx="918.8" cy="625.5" r="5.6"/><circle cx="917.0" cy="645.5" r="5.6"/><circle cx="917.0" cy="665.5" r="5.6"/><circle cx="914.2" cy="685.5" r="5.6"/><circle cx="912.8" cy="705.5" r="5.6"/><circle cx="911.6" cy="725.5" r="5.6"/><circle cx="908.2" cy="745.5" r="5.6"/><circle cx="903.4" cy="765.5" r="5.6"/><circle cx="896.2" cy="785.5" r="5.6"/><circle cx="890.5" cy="805.5" r="5.6"/></g>
<g stroke="#ff0000" stroke-linecap="round" fill="none">
<line x1="844.5" y1="19.5" x2="844.5" y2="27.5" stroke-width="10.0"/>
<line x1="844.5" y1="27.5" x2="844.5" y2="35.5" stroke-width="10.0"/>
<line x1="844.5" y1="35.5" x2="849.1" y2="43.5" stroke-width="9.9"/>
<line x1="849.1" y1="43.5" x2="854.8" y2="51.5" stroke-width="9.9"/>
<line x1="854.8" y1="51.5" x2="858.2" y2="59.5" stroke-width="9.9"/>
<line x1="858.2" y1="59.5" x2="860.2" y2="67.5" stroke-width="9.9"/>
<line x1="860.2" y1="67.5" x2="865.4" y2="79.5" stroke-width="9.8"/>
<line x1="865.4" y1="79.5" x2="873.4" y2="99.5" stroke-width="9.8"/>
<line x1="873.4" y1="99.5" x2="875.1" y2="119.5" stroke-width="9.7"/>
<line x1="875.1" y1="119.5" x2="873.4" y2="139.5" stroke-width="9.6"/>
<line x1="873.4" y1="139.5" x2="870.2" y2="159.5" stroke-width="9.6"/>
<line x1="870.2" y1="159.5" x2="868.5" y2="179.5" stroke-width="9.5"/>
<line x1="868.5" y1="179.5" x2="868.5" y2="199.5" stroke-width="8.4"/>
<line x1="868.5" y1="199.5" x2="870.5" y2="219.5" stroke-width="7.1"/>
<line x1="870.5" y1="219.5" x2="878.6" y2="259.5" stroke-width="7.0"/>
<line x1="878.6" y1="259.5" x2="881.6" y2="299.5" stroke-width="7.0"/>
<line x1="881.6" y1="299.5" x2="877.7" y2="339.5" stroke-width="7.0"/>
<line x1="877.7" y1="339.5" x2="871.9" y2="379.5" stroke-width="7.0"/>
<line x1="871.9" y1="379.5" x2="872.2" y2="419.5" stroke-width="7.0"/>
<line x1="872.2" y1="419.5" x2="907.3" y2="519.5" stroke-width="8.5"/>
<line x1="907.3" y1="519.5" x2="919.3" y2="619.5" stroke-width="7.1"/>
<line x1="919.3" y1="619.5" x2="893.3" y2="819.5" stroke-width="6.1"/>
</g>
<g fill="#ff0000"><circle cx="844.5" cy="19.5" r="5.8"/><circle cx="844.5" cy="27.5" r="5.8"/><circle cx="844.5" cy="35.5" r="5.8"/><circle cx="849.1" cy="43.5" r="5.8"/><circle cx="854.8" cy="51.5" r="5.8"/><circle cx="858.2" cy="59.5" r="5.8"/><circle cx="860.2" cy="67.5" r="5.8"/><circle cx="865.4" cy="79.5" r="5.8"/><circle cx="873.4" cy="99.5" r="5.8"/><circle cx="875.1" cy="119.5" r="5.8"/><circle cx="873.4" cy="139.5" r="5.8"/><circle cx="870.2" cy="159.5" r="5.8"/><circle cx="868.5" cy="179.5" r="5.8"/><circle cx="868.5" cy="199.5" r="5.8"/><circle cx="870.5" cy="219.5" r="5.8"/><circle cx="878.6" cy="259.5" r="5.8"/><circle cx="881.6" cy="299.5" r="5.8"/><circle cx="877.7" cy="339.5" r="5.8"/><circle cx="871.9" cy="379.5" r="5.8"/><circle cx="872.2" cy="419.5" r="5.8"/><circle cx="907.3" cy="519.5" r="5.8"/><circle cx="919.3" cy="619.5" r="5.8"/><circle cx="893.3" cy="819.5" r="5.8"/></g>
<polyline points="818.3,19.5 814.0,27.5 814.5,35.5 815.4,43.5 815.4,51.5 815.4,59.5 815.4,67.5 815.4,79.5 818.3,99.5 826.5,119.5 832.3,139.5 835.4,159.5 837.5,179.5 839.7,199.5 841.4,219.5 843.4,259.5 843.4,299.5 843.4,339.5 840.5,379.5 840.5,419.5 872.6,519.5 876.5,619.5 836.5,819.5" fill="none" stroke="#008000" stroke-width="2.6" stroke-linejoin="round"/>
<g fill="#008000"><circle cx="818.3" cy="19.5" r="5.6"/><circle cx="814.0" cy="27.5" r="5.6"/><circle cx="814.5" cy="35.5" r="5.6"/><circle cx="815.4" cy="43.5" r="5.6"/><circle cx="815.4" cy="51.5" r="5.6"/><circle cx="815.4" cy="59.5" r="5.6"/><circle cx="815.4" cy="67.5" r="5.6"/><circle cx="815.4" cy="79.5" r="5.6"/><circle cx="818.3" cy="99.5" r="5.6"/><circle cx="826.5" cy="119.5" r="5.6"/><circle cx="832.3" cy="139.5" r="5.6"/><circle cx="835.4" cy="159.5" r="5.6"/><circle cx="837.5" cy="179.5" r="5.6"/><circle cx="839.7" cy="199.5" r="5.6"/><circle cx="841.4" cy="219.5" r="5.6"/><circle cx="843.4" cy="259.5" r="5.6"/><circle cx="843.4" cy="299.5" r="5.6"/><circle cx="843.4" cy="339.5" r="5.6"/><circle cx="840.5" cy="379.5" r="5.6"/><circle cx="840.5" cy="419.5" r="5.6"/><circle cx="872.6" cy="519.5" r="5.6"/><circle cx="876.5" cy="619.5" r="5.6"/><circle cx="836.5" cy="819.5" r="5.6"/></g>
<polyline points="902.5,21.5 902.5,25.7 902.5,30.1 902.5,34.8 902.5,39.8 902.5,45.3 902.5,51.2 902.5,57.8 902.6,65.1 902.8,73.4 903.0,82.7 903.5,93.5 904.3,105.9 903.9,120.3 897.4,137.3 890.4,157.2 882.5,180.9 878.6,209.0 878.6,242.6 878.6,282.7 877.7,330.9 878.6,388.8 884.6,458.4 898.3,542.2 919.3,642.9 921.3,764.0 893.9,909.4" fill="none" stroke="#ff00ff" stroke-width="2.6" stroke-linejoin="round"/>
<g fill="#ff00ff"><circle cx="902.5" cy="21.5" r="5.6"/><circle cx="902.5" cy="25.7" r="5.6"/><circle cx="902.5" cy="30.1" r="5.6"/><circle cx="902.5" cy="34.8" r="5.6"/><circle cx="902.5" cy="39.8" r="5.6"/><circle cx="902.5" cy="45.3" r="5.6"/><circle cx="902.5" cy="51.2" r="5.6"/><circle cx="902.5" cy="57.8" r="5.6"/><circle cx="902.6" cy="65.1" r="5.6"/><circle cx="902.8" cy="73.4" r="5.6"/><circle cx="903.0" cy="82.7" r="5.6"/><circle cx="903.5" cy="93.5" r="5.6"/><circle cx="904.3" cy="105.9" r="5.6"/><circle cx="903.9" cy="120.3" r="5.6"/><circle cx="897.4" cy="137.3" r="5.6"/><circle cx="890.4" cy="157.2" r="5.6"/><circle cx="882.5" cy="180.9" r="5.6"/><circle cx="878.6" cy="209.0" r="5.6"/><circle cx="878.6" cy="242.6" r="5.6"/><circle cx="878.6" cy="282.7" r="5.6"/><circle cx="877.7" cy="330.9" r="5.6"/><circle cx="878.6" cy="388.8" r="5.6"/><circle cx="884.6" cy="458.4" r="5.6"/><circle cx="898.3" cy="542.2" r="5.6"/><circle cx="919.3" cy="642.9" r="5.6"/><circle cx="921.3" cy="764.0" r="5.6"/></g>
</g>
<rect x="575.5" y="19.5" width="396.0" height="794.9" fill="none" stroke="#000" stroke-width="1.4"/>
<g stroke="#000" stroke-width="1.4">
<line x1="629.4" y1="814.4" x2="629.4" y2="820.6"/>
<line x1="708.9" y1="814.4" x2="708.9" y2="820.6"/>
<line x1="788.4" y1="814.4" x2="788.4" y2="820.6"/>
<line x1="867.9" y1="814.4" x2="867.9" y2="820.6"/>
<line x1="947.4" y1="814.4" x2="947.4" y2="820.6"/>
<line x1="569.3" y1="19.5" x2="575.5" y2="19.5"/>
<line x1="569.3" y1="99.5" x2="575.5" y2="99.5"/>
<line x1="569.3" y1="179.5" x2="575.5" y2="179.5"/>
<line x1="569.3" y1="259.5" x2="575.5" y2="259.5"/>
<line x1="569.3" y1="339.5" x2="575.5" y2="339.5"/>
<line x1="569.3" y1="419.5" x2="575.5" y2="419.5"/>
<line x1="569.3" y1="499.5" x2="575.5" y2="499.5"/>
<line x1="569.3" y1="579.5" x2="575.5" y2="579.5"/>
<line x1="569.3" y1="659.5" x2="575.5" y2="659.5"/>
<line x1="569.3" y1="739.5" x2="575.5" y2="739.5"/>
</g>
<g stroke="#b0b0b0" stroke-width="0.9" stroke-dasharray="3.3 1.4" fill="none">
<line x1="1069.4" y1="19.5" x2="1069.4" y2="814.4"/>
<line x1="1142.0" y1="19.5" x2="1142.0" y2="814.4"/>
<line x1="1214.6" y1="19.5" x2="1214.6" y2="814.4"/>
<line x1="1287.1" y1="19.5" x2="1287.1" y2="814.4"/>
<line x1="1359.7" y1="19.5" x2="1359.7" y2="814.4"/>
<line x1="1432.3" y1="19.5" x2="1432.3" y2="814.4"/>
<line x1="1062.6" y1="19.5" x2="1458.6" y2="19.5"/>
<line x1="1062.6" y1="99.5" x2="1458.6" y2="99.5"/>
<line x1="1062.6" y1="179.5" x2="1458.6" y2="179.5"/>
<line x1="1062.6" y1="259.5" x2="1458.6" y2="259.5"/>
<line x1="1062.6" y1="339.5" x2="1458.6" y2="339.5"/>
<line x1="1062.6" y1="419.5" x2="1458.6" y2="419.5"/>
<line x1="1062.6" y1="499.5" x2="1458.6" y2="499.5"/>
<line x1="1062.6" y1="579.5" x2="1458.6" y2="579.5"/>
<line x1="1062.6" y1="659.5" x2="1458.6" y2="659.5"/>
<line x1="1062.6" y1="739.5" x2="1458.6" y2="739.5"/>
</g>
<g clip-path="url(#clip2)">
<g fill="none" stroke="#00ffff" stroke-width="6" stroke-linecap="round" stroke-linejoin="round">
<polyline points="1100.5,21.9 1099.7,28.3 1100.7,34.7 1100.5,41.1 1100.2,47.5 1101.0,53.9 1101.3,60.3 1100.8,66.7 1102.0,73.1 1102.5,79.5 1102.7,85.9 1102.9,92.3 1102.3,98.7 1101.3,105.1 1101.4,111.5 1101.5,117.9 1102.3,124.3 1101.4,130.7 1100.7,137.1 1099.7,143.5 1101.1,149.9 1102.8,156.3 1105.2,162.7 1107.8,169.1 1112.4,175.5 1116.5,181.9 1120.8,188.3 1124.1,194.7 1127.6,201.1 1131.3,207.5 1134.5,213.9 1137.1,220.3 1140.5,226.7 1142.4,233.1 1144.5,239.5 1147.4,245.9 1148.4,252.3 1151.1,258.7 1154.6,265.1 1157.0,271.5 1158.8,277.9 1160.8,284.3 1161.9,290.7 1163.7,297.1 1165.9,303.5 1167.6,309.9 1168.9,316.3 1170.0,322.7 1172.3,329.1 1173.1,335.5 1175.3,341.9 1177.8,348.3 1179.6,354.7 1181.0,361.1 1183.0,367.5 1184.1,373.9 1186.0,380.3 1187.0,386.7 1187.9,393.1 1189.7,399.5 1189.7,405.9 1190.1,412.3 1191.6,418.7 1192.4,425.1 1191.7,431.5 1192.2,437.9 1194.1,444.3 1194.5,450.7 1193.9,457.1 1193.9,463.5 1195.1,469.9 1196.1,476.3 1195.3,482.7 1196.1,489.1 1196.8,495.5 1196.3,501.9 1197.2,508.3 1197.5,514.7 1199.0,521.1 1199.5,527.5 1200.7,533.9 1202.5,540.3 1203.4,546.7 1204.7,553.1 1206.4,559.5 1208.8,565.9 1210.5,572.3 1212.7,578.7 1213.6,585.1 1214.8,591.5 1216.6,597.9 1218.8,604.3 1221.2,610.7 1221.3,617.1 1222.7,623.5 1224.4,629.9 1225.8,636.3 1226.9,642.7 1229.0,649.1 1229.7,655.5 1229.7,661.9 1230.2,668.3 1231.3,674.7 1233.6,681.1 1234.2,687.5 1236.1,693.9 1237.1,700.3 1237.5,706.7 1237.3,713.1 1237.3,719.5 1238.9,725.9 1240.0,732.3 1241.7,738.7 1242.5,745.1 1243.5,751.5 1244.0,757.9 1245.7,764.3 1246.3,770.7 1247.0,777.1 1248.4,783.5 1247.8,789.9 1249.2,796.3 1249.8,802.7 1251.1,809.1 1250.6,815.5"/>
<polyline points="1101.2,21.9 1099.7,28.3 1100.3,34.7 1100.5,41.1 1100.4,47.5 1101.6,53.9 1102.1,60.3 1101.4,66.7 1101.4,73.1 1103.1,79.5 1102.6,85.9 1101.9,92.3 1101.3,98.7 1100.7,105.1 1102.1,111.5 1101.8,117.9 1102.0,124.3 1102.0,130.7 1100.8,137.1 1101.0,143.5 1100.8,149.9 1104.2,156.3 1106.1,162.7 1109.8,169.1 1112.1,175.5 1117.0,181.9 1121.2,188.3 1125.3,194.7 1128.8,201.1 1131.8,207.5 1135.5,213.9 1138.4,220.3 1141.1,226.7 1144.0,233.1 1145.3,239.5 1146.4,245.9 1149.9,252.3 1151.5,258.7 1155.5,265.1 1157.6,271.5 1158.8,277.9 1160.5,284.3 1161.7,290.7 1163.3,297.1 1166.5,303.5 1167.0,309.9 1169.8,316.3 1169.7,322.7 1171.5,329.1 1173.5,335.5 1175.2,341.9 1178.4,348.3 1179.2,354.7 1181.5,361.1 1182.4,367.5 1183.5,373.9 1186.0,380.3 1186.9,386.7 1188.3,393.1 1189.6,399.5 1189.2,405.9 1189.7,412.3 1191.5,418.7 1192.9,425.1 1191.8,431.5 1193.2,437.9 1194.7,444.3 1194.7,450.7 1195.2,457.1 1194.7,463.5 1196.0,469.9 1194.9,476.3 1196.1,482.7 1197.1,489.1 1196.6,495.5 1197.0,501.9 1197.6,508.3 1198.4,514.7 1200.1,521.1 1201.3,527.5 1201.4,533.9 1202.9,540.3 1205.2,546.7 1206.6,553.1 1208.4,559.5 1210.1,565.9 1212.2,572.3 1213.5,578.7 1214.6,585.1 1215.7,591.5 1217.3,597.9 1220.6,604.3 1222.0,610.7 1223.1,617.1 1222.9,623.5 1224.9,629.9 1226.8,636.3 1227.1,642.7 1228.2,649.1 1229.4,655.5 1230.2,661.9 1231.8,668.3 1233.1,674.7 1234.3,681.1 1235.4,687.5 1236.9,693.9 1237.5,700.3 1237.1,706.7 1238.6,713.1 1239.2,719.5 1239.5,725.9 1241.2,732.3 1241.3,738.7 1242.4,745.1 1243.8,751.5 1243.4,757.9 1245.6,764.3 1246.5,770.7 1247.2,777.1 1247.4,783.5 1248.7,789.9 1248.9,796.3 1249.3,802.7 1250.8,809.1 1252.3,815.5"/>
<polyline points="1101.0,21.9 1099.7,28.3 1100.4,34.7 1100.2,41.1 1101.1,47.5 1101.6,53.9 1101.8,60.3 1101.4,66.7 1101.8,73.1 1103.0,79.5 1102.8,85.9 1102.6,92.3 1102.4,98.7 1101.1,105.1 1101.8,111.5 1103.1,117.9 1101.7,124.3 1102.0,130.7 1100.3,137.1 1099.5,143.5 1102.0,149.9 1104.0,156.3 1106.7,162.7 1110.2,169.1 1112.5,175.5 1117.3,181.9 1121.3,188.3 1126.5,194.7 1130.3,201.1 1133.7,207.5 1135.8,213.9 1137.9,220.3 1141.4,226.7 1143.8,233.1 1145.7,239.5 1147.6,245.9 1150.4,252.3 1153.3,258.7 1154.9,265.1 1157.5,271.5 1159.3,277.9 1161.6,284.3 1162.9,290.7 1163.6,297.1 1166.2,303.5 1167.5,309.9 1170.0,316.3 1170.5,322.7 1172.9,329.1 1174.9,335.5 1175.2,341.9 1177.6,348.3 1180.8,354.7 1181.8,361.1 1183.1,367.5 1184.1,373.9 1186.6,380.3 1187.1,386.7 1189.2,393.1 1189.6,399.5 1189.8,405.9 1191.9,412.3 1192.3,418.7 1192.7,425.1 1193.0,431.5 1194.0,437.9 1194.9,444.3 1194.0,450.7 1194.3,457.1 1195.4,463.5 1195.2,469.9 1196.7,476.3 1197.0,482.7 1197.0,489.1 1196.7,495.5 1197.8,501.9 1198.2,508.3 1199.0,514.7 1200.3,521.1 1200.9,527.5 1203.3,533.9 1204.2,540.3 1204.7,546.7 1207.2,553.1 1207.7,559.5 1211.1,565.9 1213.1,572.3 1213.4,578.7 1214.8,585.1 1217.1,591.5 1218.4,597.9 1220.2,604.3 1222.6,610.7 1223.1,617.1 1223.7,623.5 1225.3,629.9 1227.2,636.3 1228.9,642.7 1228.9,649.1 1231.2,655.5 1231.3,661.9 1233.1,668.3 1232.8,674.7 1233.4,681.1 1235.1,687.5 1236.6,693.9 1236.8,700.3 1238.4,706.7 1238.2,713.1 1239.6,719.5 1239.7,725.9 1241.4,732.3 1242.8,738.7 1242.8,745.1 1243.6,751.5 1245.4,757.9 1245.6,764.3 1246.7,770.7 1248.3,777.1 1249.3,783.5 1250.1,789.9 1249.9,796.3 1251.1,802.7 1252.0,809.1 1253.1,815.5"/>
<polyline points="1100.8,21.9 1100.9,28.3 1100.3,34.7 1099.8,41.1 1101.3,47.5 1100.8,53.9 1101.1,60.3 1101.9,66.7 1102.6,73.1 1103.2,79.5 1102.2,85.9 1103.0,92.3 1102.8,98.7 1102.6,105.1 1102.8,111.5 1102.5,117.9 1102.9,124.3 1101.8,130.7 1101.7,137.1 1101.4,143.5 1102.0,149.9 1104.3,156.3 1107.9,162.7 1111.4,169.1 1114.8,175.5 1117.6,181.9 1121.7,188.3 1125.6,194.7 1131.2,201.1 1133.6,207.5 1135.6,213.9 1137.9,220.3 1142.2,226.7 1143.8,233.1 1147.1,239.5 1148.1,245.9 1151.0,252.3 1153.7,258.7 1156.1,265.1 1157.4,271.5 1160.2,277.9 1163.0,284.3 1164.6,290.7 1164.3,297.1 1166.5,303.5 1168.6,309.9 1169.9,316.3 1171.9,322.7 1172.7,329.1 1174.7,335.5 1175.4,341.9 1178.6,348.3 1180.2,354.7 1181.6,361.1 1184.7,367.5 1184.8,373.9 1185.8,380.3 1188.2,386.7 1187.9,393.1 1190.0,399.5 1190.1,405.9 1190.7,412.3 1192.6,418.7 1192.9,425.1 1193.4,431.5 1194.0,437.9 1194.7,444.3 1194.3,450.7 1195.1,457.1 1195.6,463.5 1196.3,469.9 1196.3,476.3 1196.6,482.7 1197.8,489.1 1198.4,495.5 1197.7,501.9 1198.0,508.3 1198.2,514.7 1200.6,521.1 1200.7,527.5 1203.3,533.9 1205.0,540.3 1206.6,546.7 1208.2,553.1 1209.0,559.5 1210.1,565.9 1212.8,572.3 1214.4,578.7 1216.3,585.1 1218.1,591.5 1219.3,597.9 1220.9,604.3 1223.1,610.7 1225.0,617.1 1224.9,623.5 1226.7,629.9 1227.5,636.3 1227.5,642.7 1230.7,649.1 1231.0,655.5 1232.7,661.9 1232.7,668.3 1233.7,674.7 1233.9,681.1 1236.5,687.5 1236.0,693.9 1237.2,700.3 1239.2,706.7 1239.5,713.1 1239.5,719.5 1241.3,725.9 1242.0,732.3 1242.8,738.7 1244.4,745.1 1245.6,751.5 1246.2,757.9 1246.1,764.3 1247.7,770.7 1247.8,777.1 1249.2,783.5 1251.1,789.9 1251.1,796.3 1250.9,802.7 1251.7,809.1 1252.4,815.5"/>
<polyline points="1100.5,21.9 1100.4,28.3 1100.4,34.7 1101.3,41.1 1101.3,47.5 1100.6,53.9 1101.2,60.3 1102.5,66.7 1102.6,73.1 1102.8,79.5 1103.2,85.9 1102.0,92.3 1102.3,98.7 1102.2,105.1 1101.9,111.5 1102.3,117.9 1102.2,124.3 1102.2,130.7 1101.0,137.1 1101.4,143.5 1101.5,149.9 1105.6,156.3 1108.1,162.7 1111.2,169.1 1114.7,175.5 1118.1,181.9 1121.5,188.3 1127.3,194.7 1130.5,201.1 1134.0,207.5 1137.6,213.9 1140.5,220.3 1141.6,226.7 1143.7,233.1 1146.9,239.5 1149.0,245.9 1151.8,252.3 1154.3,258.7 1157.3,265.1 1158.0,271.5 1160.1,277.9 1163.1,284.3 1164.6,290.7 1166.5,297.1 1167.0,303.5 1168.6,309.9 1169.8,316.3 1171.7,322.7 1173.4,329.1 1174.7,335.5 1176.4,341.9 1178.5,348.3 1181.3,354.7 1182.3,361.1 1184.1,367.5 1185.6,373.9 1187.7,380.3 1188.2,386.7 1188.9,393.1 1189.5,399.5 1190.9,405.9 1191.7,412.3 1192.8,418.7 1194.1,425.1 1193.3,431.5 1194.1,437.9 1195.3,444.3 1195.4,450.7 1196.2,457.1 1196.5,463.5 1195.6,469.9 1196.6,476.3 1196.5,482.7 1197.0,489.1 1197.3,495.5 1199.2,501.9 1199.9,508.3 1200.4,514.7 1200.1,521.1 1202.0,527.5 1203.9,533.9 1205.7,540.3 1208.0,546.7 1209.1,553.1 1208.8,559.5 1211.3,565.9 1213.4,572.3 1215.1,578.7 1218.1,585.1 1219.4,591.5 1219.4,597.9 1221.1,604.3 1221.8,610.7 1224.1,617.1 1225.3,623.5 1226.5,629.9 1228.0,636.3 1229.6,642.7 1229.6,649.1 1232.2,655.5 1232.2,661.9 1234.6,668.3 1234.5,674.7 1236.2,681.1 1236.2,687.5 1237.6,693.9 1238.0,700.3 1238.8,706.7 1240.8,713.1 1239.9,719.5 1240.6,725.9 1241.3,732.3 1243.1,738.7 1244.7,745.1 1245.0,751.5 1246.6,757.9 1247.8,764.3 1246.9,770.7 1249.0,777.1 1248.9,783.5 1249.8,789.9 1251.5,796.3 1251.8,802.7 1252.2,809.1 1253.2,815.5"/>
<polyline points="1100.8,21.9 1100.0,28.3 1101.4,34.7 1100.6,41.1 1100.2,47.5 1101.1,53.9 1101.3,60.3 1101.1,66.7 1102.8,73.1 1102.5,79.5 1103.6,85.9 1103.0,92.3 1102.8,98.7 1102.7,105.1 1101.8,111.5 1102.6,117.9 1102.5,124.3 1102.2,130.7 1102.1,137.1 1101.7,143.5 1103.4,149.9 1106.2,156.3 1108.6,162.7 1111.0,169.1 1114.8,175.5 1118.4,181.9 1123.5,188.3 1127.8,194.7 1131.2,201.1 1134.8,207.5 1137.9,213.9 1139.3,220.3 1142.9,226.7 1145.4,233.1 1147.7,239.5 1149.4,245.9 1152.8,252.3 1154.3,258.7 1156.8,265.1 1158.4,271.5 1160.6,277.9 1163.3,284.3 1164.2,290.7 1166.1,297.1 1167.7,303.5 1168.2,309.9 1170.5,316.3 1171.9,322.7 1174.1,329.1 1175.5,335.5 1177.7,341.9 1178.1,348.3 1181.0,354.7 1183.5,361.1 1184.0,367.5 1185.1,373.9 1187.1,380.3 1188.0,386.7 1188.7,393.1 1191.2,399.5 1191.9,405.9 1192.4,412.3 1193.3,418.7 1193.7,425.1 1193.7,431.5 1194.9,437.9 1195.8,444.3 1196.3,450.7 1196.4,457.1 1196.5,463.5 1197.1,469.9 1197.6,476.3 1197.6,482.7 1197.8,489.1 1198.8,495.5 1199.6,501.9 1198.4,508.3 1199.8,514.7 1200.2,521.1 1201.5,527.5 1204.4,533.9 1205.4,540.3 1206.7,546.7 1208.9,553.1 1210.5,559.5 1212.5,565.9 1213.8,572.3 1215.7,578.7 1217.8,585.1 1218.2,591.5 1219.8,597.9 1222.1,604.3 1224.9,610.7 1226.0,617.1 1227.3,623.5 1227.9,629.9 1227.7,636.3 1230.2,642.7 1231.6,649.1 1233.4,655.5 1232.8,661.9 1233.6,668.3 1234.2,674.7 1235.6,681.1 1236.6,687.5 1237.7,693.9 1239.6,700.3 1240.5,706.7 1241.0,713.1 1240.0,719.5 1241.1,725.9 1242.9,732.3 1244.6,738.7 1245.5,745.1 1246.4,751.5 1245.8,757.9 1247.5,764.3 1247.7,770.7 1249.9,777.1 1251.2,783.5 1250.8,789.9 1251.3,796.3 1251.3,802.7 1253.5,809.1 1253.5,815.5"/>
<polyline points="1100.5,21.9 1100.1,28.3 1101.5,34.7 1101.4,41.1 1100.9,47.5 1101.0,53.9 1101.6,60.3 1102.7,66.7 1101.5,73.1 1102.2,79.5 1103.3,85.9 1102.3,92.3 1102.3,98.7 1101.2,105.1 1102.1,111.5 1103.3,117.9 1102.8,124.3 1102.4,130.7 1102.7,137.1 1101.3,143.5 1103.9,149.9 1106.9,156.3 1108.3,162.7 1111.3,169.1 1116.4,175.5 1121.0,181.9 1123.5,188.3 1127.6,194.7 1132.1,201.1 1135.3,207.5 1138.9,213.9 1141.1,220.3 1143.6,226.7 1145.7,233.1 1147.9,239.5 1150.4,245.9 1152.8,252.3 1155.0,258.7 1157.6,265.1 1160.1,271.5 1161.1,277.9 1163.4,284.3 1164.5,290.7 1165.5,297.1 1168.5,303.5 1169.1,309.9 1170.8,316.3 1172.6,322.7 1174.5,329.1 1175.9,335.5 1178.5,341.9 1178.9,348.3 1182.2,354.7 1183.7,361.1 1185.0,367.5 1186.9,373.9 1186.8,380.3 1188.4,386.7 1191.0,393.1 1191.7,399.5 1190.9,405.9 1192.1,412.3 1193.5,418.7 1193.9,425.1 1193.6,431.5 1194.4,437.9 1195.9,444.3 1194.9,450.7 1195.4,457.1 1196.8,463.5 1196.3,469.9 1197.6,476.3 1197.2,482.7 1197.5,489.1 1198.5,495.5 1199.4,501.9 1199.5,508.3 1200.2,514.7 1201.9,521.1 1203.0,527.5 1203.4,533.9 1206.3,540.3 1208.0,546.7 1210.8,553.1 1212.1,559.5 1213.7,565.9 1214.2,572.3 1216.3,578.7 1217.3,585.1 1219.3,591.5 1221.9,597.9 1224.2,604.3 1225.6,610.7 1226.3,617.1 1226.6,623.5 1227.9,629.9 1229.9,636.3 1230.8,642.7 1231.4,649.1 1233.4,655.5 1234.4,661.9 1235.1,668.3 1235.8,674.7 1237.4,681.1 1237.4,687.5 1238.2,693.9 1239.8,700.3 1239.8,706.7 1240.1,713.1 1241.9,719.5 1243.2,725.9 1244.4,732.3 1243.8,738.7 1244.7,745.1 1245.9,751.5 1247.7,757.9 1249.3,764.3 1248.7,770.7 1249.9,777.1 1250.6,783.5 1252.0,789.9 1252.2,796.3 1252.5,802.7 1254.0,809.1 1254.1,815.5"/>
<polyline points="1100.6,21.9 1100.9,28.3 1101.3,34.7 1100.8,41.1 1100.1,47.5 1100.9,53.9 1100.7,60.3 1101.9,66.7 1103.3,73.1 1103.3,79.5 1104.0,85.9 1102.1,92.3 1102.6,98.7 1102.4,105.1 1102.2,111.5 1103.2,117.9 1101.9,124.3 1103.1,130.7 1102.9,137.1 1101.2,143.5 1103.0,149.9 1107.6,156.3 1110.1,162.7 1114.1,169.1 1116.7,175.5 1119.6,181.9 1123.7,188.3 1128.9,194.7 1132.7,201.1 1137.4,207.5 1139.3,213.9 1141.3,220.3 1144.4,226.7 1146.8,233.1 1148.6,239.5 1151.3,245.9 1153.2,252.3 1154.7,258.7 1157.1,265.1 1159.5,271.5 1161.3,277.9 1165.1,284.3 1165.9,290.7 1166.5,297.1 1167.5,303.5 1170.0,309.9 1171.2,316.3 1173.7,322.7 1175.0,329.1 1175.7,335.5 1178.9,341.9 1180.4,348.3 1181.4,354.7 1184.2,361.1 1185.6,367.5 1186.2,373.9 1187.7,380.3 1189.0,386.7 1190.2,393.1 1191.0,399.5 1192.2,405.9 1192.1,412.3 1193.3,418.7 1193.4,425.1 1194.2,431.5 1195.8,437.9 1194.8,444.3 1195.2,450.7 1196.4,457.1 1196.5,463.5 1196.2,469.9 1198.0,476.3 1198.4,482.7 1199.1,489.1 1199.5,495.5 1199.7,501.9 1200.2,508.3 1200.1,514.7 1200.6,521.1 1203.7,527.5 1205.9,533.9 1207.0,540.3 1209.1,546.7 1209.6,553.1 1212.3,559.5 1214.3,565.9 1216.7,572.3 1217.2,578.7 1220.5,585.1 1220.0,591.5 1222.4,597.9 1224.3,604.3 1224.5,610.7 1227.0,617.1 1228.7,623.5 1229.7,629.9 1230.5,636.3 1231.3,642.7 1232.2,649.1 1233.6,655.5 1235.3,661.9 1236.2,668.3 1236.6,674.7 1237.6,681.1 1237.4,687.5 1238.6,693.9 1239.8,700.3 1240.5,706.7 1242.0,713.1 1241.2,719.5 1243.5,725.9 1243.1,732.3 1245.2,738.7 1246.6,745.1 1246.7,751.5 1247.0,757.9 1249.4,764.3 1250.1,770.7 1250.4,777.1 1251.0,783.5 1252.4,789.9 1253.2,796.3 1252.7,802.7 1254.0,809.1 1255.0,815.5"/>
<polyline points="1100.6,21.9 1100.6,28.3 1100.4,34.7 1100.6,41.1 1100.2,47.5 1101.0,53.9 1102.4,60.3 1102.4,66.7 1102.4,73.1 1102.1,79.5 1102.8,85.9 1103.2,92.3 1102.4,98.7 1102.5,105.1 1102.7,111.5 1102.7,117.9 1103.0,124.3 1102.5,130.7 1102.2,137.1 1103.4,143.5 1104.9,149.9 1107.0,156.3 1109.0,162.7 1113.3,169.1 1117.0,175.5 1122.0,181.9 1126.2,188.3 1129.7,194.7 1132.2,201.1 1136.8,207.5 1138.6,213.9 1142.2,220.3 1145.6,226.7 1146.5,233.1 1150.0,239.5 1151.7,245.9 1153.3,252.3 1156.1,258.7 1158.5,265.1 1161.6,271.5 1163.7,277.9 1164.4,284.3 1166.3,290.7 1166.5,297.1 1168.3,303.5 1171.4,309.9 1171.5,316.3 1173.8,322.7 1175.2,329.1 1175.7,335.5 1179.0,341.9 1180.5,348.3 1182.4,354.7 1184.5,361.1 1185.4,367.5 1187.5,373.9 1188.4,380.3 1190.3,386.7 1190.7,393.1 1191.6,399.5 1192.1,405.9 1192.3,412.3 1194.2,418.7 1194.5,425.1 1195.8,431.5 1195.8,437.9 1196.5,444.3 1196.4,450.7 1196.5,457.1 1197.5,463.5 1196.7,469.9 1198.2,476.3 1197.6,482.7 1198.2,489.1 1200.1,495.5 1198.8,501.9 1200.9,508.3 1202.2,514.7 1202.7,521.1 1204.5,527.5 1204.9,533.9 1207.7,540.3 1209.4,546.7 1211.2,553.1 1212.6,559.5 1214.3,565.9 1217.2,572.3 1217.4,578.7 1219.9,585.1 1220.6,591.5 1223.4,597.9 1224.2,604.3 1227.1,610.7 1227.6,617.1 1227.6,623.5 1230.1,629.9 1230.1,636.3 1232.2,642.7 1233.7,649.1 1233.7,655.5 1235.3,661.9 1235.2,668.3 1237.2,674.7 1238.7,681.1 1239.8,687.5 1239.1,693.9 1240.4,700.3 1241.3,706.7 1240.8,713.1 1241.7,719.5 1244.2,725.9 1245.2,732.3 1245.1,738.7 1246.7,745.1 1247.6,751.5 1247.7,757.9 1249.4,764.3 1250.9,770.7 1250.6,777.1 1252.3,783.5 1253.2,789.9 1253.8,796.3 1254.7,802.7 1255.4,809.1 1256.5,815.5"/>
<polyline points="1100.5,21.9 1101.3,28.3 1100.3,34.7 1100.4,41.1 1101.2,47.5 1101.2,53.9 1102.5,60.3 1101.5,66.7 1102.2,73.1 1103.6,79.5 1102.9,85.9 1103.3,92.3 1102.5,98.7 1102.9,105.1 1101.7,111.5 1102.7,117.9 1102.4,124.3 1103.2,130.7 1103.7,137.1 1103.1,143.5 1105.5,149.9 1108.0,156.3 1110.3,162.7 1113.8,169.1 1117.5,175.5 1121.9,181.9 1125.5,188.3 1129.7,194.7 1134.3,201.1 1137.2,207.5 1139.6,213.9 1143.7,220.3 1145.4,226.7 1147.8,233.1 1149.7,239.5 1151.8,245.9 1153.5,252.3 1156.2,258.7 1159.9,265.1 1161.3,271.5 1163.3,277.9 1165.5,284.3 1166.0,290.7 1167.7,297.1 1170.1,303.5 1170.6,309.9 1172.4,316.3 1172.8,322.7 1175.5,329.1 1176.6,335.5 1178.5,341.9 1181.0,348.3 1183.2,354.7 1184.5,361.1 1185.5,367.5 1186.5,373.9 1188.7,380.3 1189.5,386.7 1191.2,393.1 1191.2,399.5 1192.8,405.9 1193.8,412.3 1193.7,418.7 1195.8,425.1 1195.7,431.5 1195.8,437.9 1196.2,444.3 1196.9,450.7 1197.2,457.1 1198.0,463.5 1198.7,469.9 1197.9,476.3 1199.4,482.7 1199.7,489.1 1199.2,495.5 1200.4,501.9 1200.9,508.3 1201.6,514.7 1202.6,521.1 1204.7,527.5 1205.4,533.9 1207.0,540.3 1210.7,546.7 1211.8,553.1 1213.4,559.5 1215.1,565.9 1216.4,572.3 1218.6,578.7 1219.7,585.1 1223.1,591.5 1224.6,597.9 1226.5,604.3 1227.3,610.7 1228.2,617.1 1229.5,623.5 1229.9,629.9 1232.4,636.3 1232.9,642.7 1234.7,649.1 1233.7,655.5 1235.5,661.9 1236.3,668.3 1238.2,674.7 1238.2,681.1 1240.0,687.5 1239.8,693.9 1241.5,700.3 1241.4,706.7 1242.2,713.1 1244.1,719.5 1244.7,725.9 1245.5,732.3 1246.1,738.7 1246.7,745.1 1248.0,751.5 1249.3,757.9 1250.5,764.3 1250.2,770.7 1251.9,777.1 1253.0,783.5 1253.2,789.9 1253.8,796.3 1254.0,802.7 1255.6,809.1 1256.1,815.5"/>
<polyline points="1100.6,21.9 1100.6,28.3 1100.1,34.7 1100.8,41.1 1101.5,47.5 1101.6,53.9 1102.6,60.3 1103.0,66.7 1102.8,73.1 1102.4,79.5 1102.4,85.9 1103.0,92.3 1101.8,98.7 1102.5,105.1 1103.1,111.5 1102.5,117.9 1102.4,124.3 1102.3,130.7 1103.8,137.1 1103.0,143.5 1105.1,149.9 1108.5,156.3 1111.5,162.7 1114.4,169.1 1118.6,175.5 1121.8,181.9 1126.0,188.3 1130.4,194.7 1134.6,201.1 1137.7,207.5 1140.0,213.9 1143.0,220.3 1145.3,226.7 1148.8,233.1 1151.1,239.5 1152.7,245.9 1155.0,252.3 1156.6,258.7 1159.4,265.1 1161.9,271.5 1163.3,277.9 1164.8,284.3 1167.4,290.7 1168.1,297.1 1170.4,303.5 1171.9,309.9 1172.8,316.3 1173.7,322.7 1175.2,329.1 1177.3,335.5 1179.4,341.9 1180.8,348.3 1182.9,354.7 1184.5,361.1 1186.1,367.5 1187.3,373.9 1189.0,380.3 1189.6,386.7 1192.0,393.1 1192.9,399.5 1193.3,405.9 1194.1,412.3 1194.4,418.7 1195.0,425.1 1196.3,431.5 1197.0,437.9 1197.4,444.3 1197.8,450.7 1196.8,457.1 1197.2,463.5 1198.5,469.9 1198.4,476.3 1199.1,482.7 1199.4,489.1 1200.5,495.5 1199.9,501.9 1200.2,508.3 1202.7,514.7 1203.2,521.1 1205.4,527.5 1206.2,533.9 1207.6,540.3 1209.7,546.7 1212.4,553.1 1214.4,559.5 1216.0,565.9 1219.0,572.3 1220.5,578.7 1220.6,585.1 1223.2,591.5 1225.3,597.9 1226.6,604.3 1227.3,610.7 1228.0,617.1 1229.3,623.5 1229.7,629.9 1232.6,636.3 1233.7,642.7 1235.0,649.1 1236.4,655.5 1236.0,661.9 1236.3,668.3 1238.2,674.7 1238.4,681.1 1239.9,687.5 1241.7,693.9 1242.4,700.3 1241.8,706.7 1242.4,713.1 1243.6,719.5 1244.4,725.9 1245.0,732.3 1246.1,738.7 1247.3,745.1 1248.1,751.5 1249.9,757.9 1249.6,764.3 1250.9,770.7 1251.6,777.1 1252.7,783.5 1252.8,789.9 1254.2,796.3 1254.5,802.7 1256.6,809.1 1256.4,815.5"/>
<polyline points="1100.9,21.9 1101.4,28.3 1100.5,34.7 1100.1,41.1 1101.6,47.5 1101.0,53.9 1102.2,60.3 1102.6,66.7 1102.7,73.1 1103.3,79.5 1103.0,85.9 1103.7,92.3 1102.2,98.7 1103.0,105.1 1102.2,111.5 1103.1,117.9 1103.0,124.3 1102.8,130.7 1102.8,137.1 1103.4,143.5 1106.2,149.9 1108.3,156.3 1112.2,162.7 1116.4,169.1 1119.2,175.5 1123.4,181.9 1126.2,188.3 1131.4,194.7 1135.1,201.1 1138.0,207.5 1142.3,213.9 1144.8,220.3 1146.9,226.7 1148.7,233.1 1150.5,239.5 1153.3,245.9 1155.3,252.3 1157.9,258.7 1160.2,265.1 1161.5,271.5 1164.6,277.9 1165.3,284.3 1166.7,290.7 1168.8,297.1 1170.2,303.5 1172.6,309.9 1172.5,316.3 1174.8,322.7 1176.2,329.1 1177.2,335.5 1179.6,341.9 1182.3,348.3 1183.6,354.7 1184.9,361.1 1186.8,367.5 1188.9,373.9 1190.5,380.3 1190.9,386.7 1191.4,393.1 1192.9,399.5 1193.2,405.9 1194.6,412.3 1195.5,418.7 1196.3,425.1 1195.3,431.5 1196.1,437.9 1197.3,444.3 1197.7,450.7 1196.8,457.1 1197.1,463.5 1199.4,469.9 1198.3,476.3 1199.7,482.7 1200.3,489.1 1200.5,495.5 1200.7,501.9 1201.7,508.3 1202.1,514.7 1202.6,521.1 1203.8,527.5 1206.0,533.9 1209.9,540.3 1210.9,546.7 1214.6,553.1 1215.3,559.5 1217.2,565.9 1218.6,572.3 1219.4,578.7 1221.3,585.1 1223.5,591.5 1226.1,597.9 1226.8,604.3 1227.3,610.7 1228.6,617.1 1230.1,623.5 1232.6,629.9 1233.2,636.3 1234.8,642.7 1234.2,649.1 1236.3,655.5 1236.5,661.9 1237.4,668.3 1239.6,674.7 1239.3,681.1 1239.8,687.5 1241.7,693.9 1242.3,700.3 1242.1,706.7 1243.3,713.1 1245.0,719.5 1245.1,725.9 1246.2,732.3 1246.2,738.7 1248.3,745.1 1248.3,751.5 1250.1,757.9 1251.9,764.3 1252.7,770.7 1252.8,777.1 1252.7,783.5 1253.2,789.9 1255.0,796.3 1256.0,802.7 1257.1,809.1 1257.1,815.5"/>
<polyline points="1101.2,21.9 1101.7,28.3 1101.7,34.7 1100.3,41.1 1101.9,47.5 1101.3,53.9 1101.3,60.3 1101.5,66.7 1102.2,73.1 1103.0,79.5 1103.3,85.9 1103.2,92.3 1103.3,98.7 1102.9,105.1 1101.9,111.5 1102.1,117.9 1103.6,124.3 1103.8,130.7 1104.0,137.1 1103.1,143.5 1105.5,149.9 1109.7,156.3 1112.4,162.7 1116.3,169.1 1120.4,175.5 1124.2,181.9 1126.8,188.3 1131.1,194.7 1136.1,201.1 1139.8,207.5 1141.6,213.9 1145.0,220.3 1147.0,226.7 1148.8,233.1 1151.2,239.5 1152.8,245.9 1156.6,252.3 1157.8,258.7 1160.4,265.1 1162.5,271.5 1163.6,277.9 1166.3,284.3 1167.3,290.7 1169.7,297.1 1171.9,303.5 1171.4,309.9 1174.2,316.3 1175.1,322.7 1177.0,329.1 1177.9,335.5 1179.9,341.9 1182.1,348.3 1184.1,354.7 1184.5,361.1 1186.1,367.5 1189.4,373.9 1190.7,380.3 1192.0,386.7 1191.2,393.1 1192.0,399.5 1193.7,405.9 1195.0,412.3 1194.8,418.7 1196.5,425.1 1196.8,431.5 1196.8,437.9 1197.1,444.3 1197.3,450.7 1198.0,457.1 1198.6,463.5 1198.6,469.9 1199.4,476.3 1200.2,482.7 1199.4,489.1 1200.1,495.5 1202.1,501.9 1202.7,508.3 1202.4,514.7 1203.1,521.1 1205.7,527.5 1206.8,533.9 1209.1,540.3 1211.9,546.7 1214.0,553.1 1217.1,559.5 1218.1,565.9 1218.8,572.3 1221.1,578.7 1224.1,585.1 1224.2,591.5 1225.9,597.9 1227.0,604.3 1228.9,610.7 1230.2,617.1 1231.9,623.5 1233.3,629.9 1233.1,636.3 1234.6,642.7 1235.1,649.1 1235.3,655.5 1238.2,661.9 1238.2,668.3 1239.0,674.7 1240.4,681.1 1240.0,687.5 1241.5,693.9 1242.2,700.3 1244.0,706.7 1244.1,713.1 1244.4,719.5 1245.8,725.9 1247.1,732.3 1247.5,738.7 1248.7,745.1 1249.5,751.5 1250.5,757.9 1251.6,764.3 1252.5,770.7 1253.0,777.1 1253.3,783.5 1255.1,789.9 1255.7,796.3 1257.2,802.7 1257.7,809.1 1257.3,815.5"/>
<polyline points="1101.2,21.9 1100.9,28.3 1101.3,34.7 1100.8,41.1 1100.7,47.5 1100.9,53.9 1101.5,60.3 1101.6,66.7 1102.5,73.1 1103.5,79.5 1102.8,85.9 1103.9,92.3 1102.7,98.7 1102.9,105.1 1103.5,111.5 1103.5,117.9 1103.4,124.3 1102.9,130.7 1103.9,137.1 1104.2,143.5 1106.9,149.9 1110.4,156.3 1112.4,162.7 1116.4,169.1 1121.4,175.5 1125.0,181.9 1127.7,188.3 1131.8,194.7 1136.1,201.1 1140.4,207.5 1142.7,213.9 1145.5,220.3 1148.8,226.7 1150.7,233.1 1152.6,239.5 1153.9,245.9 1156.5,252.3 1159.0,258.7 1161.3,265.1 1163.4,271.5 1164.4,277.9 1167.3,284.3 1168.6,290.7 1169.3,297.1 1170.5,303.5 1173.2,309.9 1173.8,316.3 1174.7,322.7 1176.0,329.1 1178.3,335.5 1179.8,341.9 1182.3,348.3 1185.0,354.7 1186.5,361.1 1187.9,367.5 1189.2,373.9 1190.1,380.3 1191.6,386.7 1193.4,393.1 1193.3,399.5 1194.2,405.9 1193.7,412.3 1195.4,418.7 1195.3,425.1 1197.1,431.5 1197.3,437.9 1197.5,444.3 1197.8,450.7 1197.8,457.1 1198.3,463.5 1198.4,469.9 1199.9,476.3 1200.9,482.7 1200.4,489.1 1201.3,495.5 1201.5,501.9 1202.3,508.3 1203.9,514.7 1204.2,521.1 1205.5,527.5 1208.7,533.9 1209.8,540.3 1212.4,546.7 1214.8,553.1 1217.2,559.5 1218.4,565.9 1220.4,572.3 1222.2,578.7 1223.9,585.1 1226.0,591.5 1227.8,597.9 1229.0,604.3 1229.2,610.7 1230.8,617.1 1231.5,623.5 1232.8,629.9 1233.6,636.3 1235.6,642.7 1236.4,649.1 1237.1,655.5 1238.1,661.9 1238.4,668.3 1239.4,674.7 1240.7,681.1 1242.2,687.5 1241.6,693.9 1242.3,700.3 1244.0,706.7 1243.8,713.1 1245.3,719.5 1246.6,725.9 1247.5,732.3 1248.5,738.7 1248.7,745.1 1249.6,751.5 1250.6,757.9 1251.8,764.3 1252.3,770.7 1253.2,777.1 1253.8,783.5 1254.1,789.9 1256.4,796.3 1257.1,802.7 1257.9,809.1 1258.4,815.5"/>
</g>
<polyline points="1100.3,25.5 1100.3,45.5 1101.5,65.5 1102.7,85.5 1101.5,105.5 1102.6,125.5 1103.6,145.5 1114.7,165.5 1126.3,185.5 1139.1,205.5 1147.3,225.5 1154.0,245.5 1161.4,265.5 1167.4,285.5 1171.5,305.5 1175.2,325.5 1180.0,345.5 1185.0,365.5 1189.5,385.5 1192.0,405.5 1194.2,425.5 1195.5,445.5 1196.7,465.5 1198.2,485.5 1200.0,505.5 1202.5,525.5 1208.5,545.5 1213.3,565.5 1218.8,585.5 1223.4,605.5 1227.3,625.5 1231.1,645.5 1234.2,665.5 1237.1,685.5 1239.7,705.5 1242.2,725.5 1245.1,745.5 1248.2,765.5 1250.8,785.5 1253.0,805.5 1255.2,825.5" fill="none" stroke="#0000ff" stroke-width="2.6" stroke-linejoin="round"/>
<g fill="#0000ff"><circle cx="1100.3" cy="25.5" r="5.6"/><circle cx="1100.3" cy="45.5" r="5.6"/><circle cx="1101.5" cy="65.5" r="5.6"/><circle cx="1102.7" cy="85.5" r="5.6"/><circle cx="1101.5" cy="105.5" r="5.6"/><circle cx="1102.6" cy="125.5" r="5.6"/><circle cx="1103.6" cy="145.5" r="5.6"/><circle cx="1114.7" cy="165.5" r="5.6"/><circle cx="1126.3" cy="185.5" r="5.6"/><circle cx="1139.1" cy="205.5" r="5.6"/><circle cx="1147.3" cy="225.5" r="5.6"/><circle cx="1154.0" cy="245.5" r="5.6"/><circle cx="1161.4" cy="265.5" r="5.6"/><circle cx="1167.4" cy="285.5" r="5.6"/><circle cx="1171.5" cy="305.5" r="5.6"/><circle cx="1175.2" cy="325.5" r="5.6"/><circle cx="1180.0" cy="345.5" r="5.6"/><circle cx="1185.0" cy="365.5" r="5.6"/><circle cx="1189.5" cy="385.5" r="5.6"/><circle cx="1192.0" cy="405.5" r="5.6"/><circle cx="1194.2" cy="425.5" r="5.6"/><circle cx="1195.5" cy="445.5" r="5.6"/><circle cx="1196.7" cy="465.5" r="5.6"/><circle cx="1198.2" cy="485.5" r="5.6"/><circle cx="1200.0" cy="505.5" r="5.6"/><circle cx="1202.5" cy="525.5" r="5.6"/><circle cx="1208.5" cy="545.5" r="5.6"/><circle cx="1213.3" cy="565.5" r="5.6"/><circle cx="1218.8" cy="585.5" r="5.6"/><circle cx="1223.4" cy="605.5" r="5.6"/><circle cx="1227.3" cy="625.5" r="5.6"/><circle cx="1231.1" cy="645.5" r="5.6"/><circle cx="1234.2" cy="665.5" r="5.6"/><circle cx="1237.1" cy="685.5" r="5.6"/><circle cx="1239.7" cy="705.5" r="5.6"/><circle cx="1242.2" cy="725.5" r="5.6"/><circle cx="1245.1" cy="745.5" r="5.6"/><circle cx="1248.2" cy="765.5" r="5.6"/><circle cx="1250.8" cy="785.5" r="5.6"/><circle cx="1253.0" cy="805.5" r="5.6"/></g>
<g stroke="#ff0000" stroke-linecap="round" fill="none">
<line x1="1090.0" y1="19.5" x2="1090.5" y2="27.5" stroke-width="7.0"/>
<line x1="1090.5" y1="27.5" x2="1091.0" y2="35.5" stroke-width="7.0"/>
<line x1="1091.0" y1="35.5" x2="1092.5" y2="43.5" stroke-width="7.0"/>
<line x1="1092.5" y1="43.5" x2="1094.5" y2="51.5" stroke-width="7.0"/>
<line x1="1094.5" y1="51.5" x2="1096.5" y2="59.5" stroke-width="7.0"/>
<line x1="1096.5" y1="59.5" x2="1098.5" y2="67.5" stroke-width="6.9"/>
<line x1="1098.5" y1="67.5" x2="1101.4" y2="79.5" stroke-width="6.9"/>
<line x1="1101.4" y1="79.5" x2="1105.7" y2="99.5" stroke-width="6.9"/>
<line x1="1105.7" y1="99.5" x2="1110.8" y2="119.5" stroke-width="6.9"/>
<line x1="1110.8" y1="119.5" x2="1118.2" y2="139.5" stroke-width="6.9"/>
<line x1="1118.2" y1="139.5" x2="1126.0" y2="159.5" stroke-width="6.8"/>
<line x1="1126.0" y1="159.5" x2="1134.5" y2="179.5" stroke-width="6.8"/>
<line x1="1134.5" y1="179.5" x2="1142.0" y2="199.5" stroke-width="6.8"/>
<line x1="1142.0" y1="199.5" x2="1149.0" y2="219.5" stroke-width="6.8"/>
<line x1="1149.0" y1="219.5" x2="1164.5" y2="259.5" stroke-width="6.7"/>
<line x1="1164.5" y1="259.5" x2="1176.5" y2="299.5" stroke-width="6.7"/>
<line x1="1176.5" y1="299.5" x2="1184.8" y2="339.5" stroke-width="6.6"/>
<line x1="1184.8" y1="339.5" x2="1187.7" y2="379.5" stroke-width="6.6"/>
<line x1="1187.7" y1="379.5" x2="1190.6" y2="419.5" stroke-width="6.5"/>
<line x1="1190.6" y1="419.5" x2="1207.7" y2="519.5" stroke-width="6.4"/>
<line x1="1207.7" y1="519.5" x2="1215.7" y2="619.5" stroke-width="6.1"/>
<line x1="1215.7" y1="619.5" x2="1245.9" y2="819.5" stroke-width="6.0"/>
</g>
<g fill="#ff0000"><circle cx="1090.0" cy="19.5" r="5.8"/><circle cx="1090.5" cy="27.5" r="5.8"/><circle cx="1091.0" cy="35.5" r="5.8"/><circle cx="1092.5" cy="43.5" r="5.8"/><circle cx="1094.5" cy="51.5" r="5.8"/><circle cx="1096.5" cy="59.5" r="5.8"/><circle cx="1098.5" cy="67.5" r="5.8"/><circle cx="1101.4" cy="79.5" r="5.8"/><circle cx="1105.7" cy="99.5" r="5.8"/><circle cx="1110.8" cy="119.5" r="5.8"/><circle cx="1118.2" cy="139.5" r="5.8"/><circle cx="1126.0" cy="159.5" r="5.8"/><circle cx="1134.5" cy="179.5" r="5.8"/><circle cx="1142.0" cy="199.5" r="5.8"/><circle cx="1149.0" cy="219.5" r="5.8"/><circle cx="1164.5" cy="259.5" r="5.8"/><circle cx="1176.5" cy="299.5" r="5.8"/><circle cx="1184.8" cy="339.5" r="5.8"/><circle cx="1187.7" cy="379.5" r="5.8"/><circle cx="1190.6" cy="419.5" r="5.8"/><circle cx="1207.7" cy="519.5" r="5.8"/><circle cx="1215.7" cy="619.5" r="5.8"/><circle cx="1245.9" cy="819.5" r="5.8"/></g>
<polyline points="1080.8,19.5 1081.3,27.5 1082.5,35.5 1082.5,43.5 1082.5,51.5 1082.5,59.5 1083.0,67.5 1084.3,79.5 1090.3,99.5 1104.5,119.5 1113.0,139.5 1124.5,159.5 1135.7,179.5 1146.8,199.5 1155.9,219.5 1169.6,259.5 1183.5,299.5 1194.5,339.5 1202.6,379.5 1208.6,419.5 1228.6,519.5 1234.5,619.5 1260.1,819.5" fill="none" stroke="#008000" stroke-width="2.6" stroke-linejoin="round"/>
<g fill="#008000"><circle cx="1080.8" cy="19.5" r="5.6"/><circle cx="1081.3" cy="27.5" r="5.6"/><circle cx="1082.5" cy="35.5" r="5.6"/><circle cx="1082.5" cy="43.5" r="5.6"/><circle cx="1082.5" cy="51.5" r="5.6"/><circle cx="1082.5" cy="59.5" r="5.6"/><circle cx="1083.0" cy="67.5" r="5.6"/><circle cx="1084.3" cy="79.5" r="5.6"/><circle cx="1090.3" cy="99.5" r="5.6"/><circle cx="1104.5" cy="119.5" r="5.6"/><circle cx="1113.0" cy="139.5" r="5.6"/><circle cx="1124.5" cy="159.5" r="5.6"/><circle cx="1135.7" cy="179.5" r="5.6"/><circle cx="1146.8" cy="199.5" r="5.6"/><circle cx="1155.9" cy="219.5" r="5.6"/><circle cx="1169.6" cy="259.5" r="5.6"/><circle cx="1183.5" cy="299.5" r="5.6"/><circle cx="1194.5" cy="339.5" r="5.6"/><circle cx="1202.6" cy="379.5" r="5.6"/><circle cx="1208.6" cy="419.5" r="5.6"/><circle cx="1228.6" cy="519.5" r="5.6"/><circle cx="1234.5" cy="619.5" r="5.6"/><circle cx="1260.1" cy="819.5" r="5.6"/></g>
<polyline points="1093.7,21.5 1093.8,25.7 1093.9,30.1 1094.0,34.8 1094.2,39.8 1094.4,45.3 1094.6,51.2 1094.8,57.8 1095.0,65.1 1095.2,73.4 1095.4,82.7 1096.3,93.5 1097.1,105.9 1098.5,120.3 1103.4,137.3 1114.7,157.2 1130.2,180.9 1147.7,209.0 1160.5,242.6 1170.3,282.7 1178.6,330.9 1185.4,388.8 1193.5,458.4 1203.7,542.2 1220.3,642.9 1242.6,764.0 1261.5,909.4" fill="none" stroke="#ff00ff" stroke-width="2.6" stroke-linejoin="round"/>
<g fill="#ff00ff"><circle cx="1093.7" cy="21.5" r="5.6"/><circle cx="1093.8" cy="25.7" r="5.6"/><circle cx="1093.9" cy="30.1" r="5.6"/><circle cx="1094.0" cy="34.8" r="5.6"/><circle cx="1094.2" cy="39.8" r="5.6"/><circle cx="1094.4" cy="45.3" r="5.6"/><circle cx="1094.6" cy="51.2" r="5.6"/><circle cx="1094.8" cy="57.8" r="5.6"/><circle cx="1095.0" cy="65.1" r="5.6"/><circle cx="1095.2" cy="73.4" r="5.6"/><circle cx="1095.4" cy="82.7" r="5.6"/><circle cx="1096.3" cy="93.5" r="5.6"/><circle cx="1097.1" cy="105.9" r="5.6"/><circle cx="1098.5" cy="120.3" r="5.6"/><circle cx="1103.4" cy="137.3" r="5.6"/><circle cx="1114.7" cy="157.2" r="5.6"/><circle cx="1130.2" cy="180.9" r="5.6"/><circle cx="1147.7" cy="209.0" r="5.6"/><circle cx="1160.5" cy="242.6" r="5.6"/><circle cx="1170.3" cy="282.7" r="5.6"/><circle cx="1178.6" cy="330.9" r="5.6"/><circle cx="1185.4" cy="388.8" r="5.6"/><circle cx="1193.5" cy="458.4" r="5.6"/><circle cx="1203.7" cy="542.2" r="5.6"/><circle cx="1220.3" cy="642.9" r="5.6"/><circle cx="1242.6" cy="764.0" r="5.6"/></g>
</g>
<rect x="1062.6" y="19.5" width="396.0" height="794.9" fill="none" stroke="#000" stroke-width="1.4"/>
<g stroke="#000" stroke-width="1.4">
<line x1="1069.4" y1="814.4" x2="1069.4" y2="820.6"/>
<line x1="1142.0" y1="814.4" x2="1142.0" y2="820.6"/>
<line x1="1214.6" y1="814.4" x2="1214.6" y2="820.6"/>
<line x1="1287.1" y1="814.4" x2="1287.1" y2="820.6"/>
<line x1="1359.7" y1="814.4" x2="1359.7" y2="820.6"/>
<line x1="1432.3" y1="814.4" x2="1432.3" y2="820.6"/>
<line x1="1056.4" y1="19.5" x2="1062.6" y2="19.5"/>
<line x1="1056.4" y1="99.5" x2="1062.6" y2="99.5"/>
<line x1="1056.4" y1="179.5" x2="1062.6" y2="179.5"/>
<line x1="1056.4" y1="259.5" x2="1062.6" y2="259.5"/>
<line x1="1056.4" y1="339.5" x2="1062.6" y2="339.5"/>
<line x1="1056.4" y1="419.5" x2="1062.6" y2="419.5"/>
<line x1="1056.4" y1="499.5" x2="1062.6" y2="499.5"/>
<line x1="1056.4" y1="579.5" x2="1062.6" y2="579.5"/>
<line x1="1056.4" y1="659.5" x2="1062.6" y2="659.5"/>
<line x1="1056.4" y1="739.5" x2="1062.6" y2="739.5"/>
</g>
<text x="74.90" y="26.40" font-size="18.15" text-anchor="end" textLength="10.49" lengthAdjust="spacingAndGlyphs">0</text>
<text x="74.90" y="106.40" font-size="18.15" text-anchor="end" textLength="20.98" lengthAdjust="spacingAndGlyphs">20</text>
<text x="74.90" y="186.40" font-size="18.15" text-anchor="end" textLength="20.98" lengthAdjust="spacingAndGlyphs">40</text>
<text x="74.90" y="266.40" font-size="18.15" text-anchor="end" textLength="20.98" lengthAdjust="spacingAndGlyphs">60</text>
<text x="74.90" y="346.40" font-size="18.15" text-anchor="end" textLength="20.98" lengthAdjust="spacingAndGlyphs">80</text>
<text x="74.90" y="426.40" font-size="18.15" text-anchor="end" textLength="31.48" lengthAdjust="spacingAndGlyphs">100</text>
<text x="74.90" y="506.40" font-size="18.15" text-anchor="end" textLength="31.48" lengthAdjust="spacingAndGlyphs">120</text>
<text x="74.90" y="586.40" font-size="18.15" text-anchor="end" textLength="31.48" lengthAdjust="spacingAndGlyphs">140</text>
<text x="74.90" y="666.40" font-size="18.15" text-anchor="end" textLength="31.48" lengthAdjust="spacingAndGlyphs">160</text>
<text x="74.90" y="746.40" font-size="18.15" text-anchor="end" textLength="31.48" lengthAdjust="spacingAndGlyphs">180</text>
<text x="93.40" y="842.00" font-size="18.15" text-anchor="middle" textLength="10.44" lengthAdjust="spacingAndGlyphs">5</text>
<text x="167.00" y="842.00" font-size="18.15" text-anchor="middle" textLength="20.88" lengthAdjust="spacingAndGlyphs">10</text>
<text x="240.60" y="842.00" font-size="18.15" text-anchor="middle" textLength="20.88" lengthAdjust="spacingAndGlyphs">15</text>
<text x="314.20" y="842.00" font-size="18.15" text-anchor="middle" textLength="20.88" lengthAdjust="spacingAndGlyphs">20</text>
<text x="387.80" y="842.00" font-size="18.15" text-anchor="middle" textLength="20.88" lengthAdjust="spacingAndGlyphs">25</text>
<text x="461.40" y="842.00" font-size="18.15" text-anchor="middle" textLength="20.88" lengthAdjust="spacingAndGlyphs">30</text>
<text x="629.40" y="842.00" font-size="18.15" text-anchor="middle" textLength="36.53" lengthAdjust="spacingAndGlyphs">35.0</text>
<text x="708.90" y="842.00" font-size="18.15" text-anchor="middle" textLength="36.53" lengthAdjust="spacingAndGlyphs">35.5</text>
<text x="788.40" y="842.00" font-size="18.15" text-anchor="middle" textLength="36.53" lengthAdjust="spacingAndGlyphs">36.0</text>
<text x="867.90" y="842.00" font-size="18.15" text-anchor="middle" textLength="36.53" lengthAdjust="spacingAndGlyphs">36.5</text>
<text x="947.40" y="842.00" font-size="18.15" text-anchor="middle" textLength="36.53" lengthAdjust="spacingAndGlyphs">37.0</text>
<text transform="translate(1067.80 849.60) rotate(-45)" font-size="18.15" text-anchor="middle" textLength="41.97" lengthAdjust="spacingAndGlyphs" y="6.4">1022</text>
<text transform="translate(1140.38 849.60) rotate(-45)" font-size="18.15" text-anchor="middle" textLength="41.97" lengthAdjust="spacingAndGlyphs" y="6.4">1024</text>
<text transform="translate(1212.96 849.60) rotate(-45)" font-size="18.15" text-anchor="middle" textLength="41.97" lengthAdjust="spacingAndGlyphs" y="6.4">1026</text>
<text transform="translate(1285.54 849.60) rotate(-45)" font-size="18.15" text-anchor="middle" textLength="41.97" lengthAdjust="spacingAndGlyphs" y="6.4">1028</text>
<text transform="translate(1358.12 849.60) rotate(-45)" font-size="18.15" text-anchor="middle" textLength="41.97" lengthAdjust="spacingAndGlyphs" y="6.4">1030</text>
<text transform="translate(1430.70 849.60) rotate(-45)" font-size="18.15" text-anchor="middle" textLength="41.97" lengthAdjust="spacingAndGlyphs" y="6.4">1032</text>
<text transform="translate(30.20 418.60) rotate(-90)" font-size="23.80" font-weight="bold" text-anchor="middle" textLength="127.10" lengthAdjust="spacingAndGlyphs">Depth (m)</text>
<text x="176.20" y="871.70" font-size="23.80" font-weight="bold" textLength="166.00" lengthAdjust="spacingAndGlyphs">Temperature</text>
<text x="350.80" y="871.70" font-size="23.80" font-weight="bold" textLength="9.00" lengthAdjust="spacingAndGlyphs">(</text>
<text x="360.3" y="863.6" font-size="16.0" font-style="italic" textLength="8.6" lengthAdjust="spacingAndGlyphs">o</text>
<text x="370.6" y="871.7" font-size="23.80" font-style="italic" textLength="16.6" lengthAdjust="spacingAndGlyphs">C</text>
<text x="386.90" y="871.70" font-size="23.80" font-weight="bold" textLength="9.00" lengthAdjust="spacingAndGlyphs">)</text>
<text x="773.00" y="869.70" font-size="23.80" font-weight="bold" text-anchor="middle" textLength="95.00" lengthAdjust="spacingAndGlyphs">Salinity</text>
<text x="1259.60" y="895.30" font-size="23.80" font-weight="bold" text-anchor="middle" textLength="213.00" lengthAdjust="spacingAndGlyphs">Density (kg m-3)</text>
<text x="1508.30" y="36.10" font-size="23.80" font-weight="bold" textLength="379.69" lengthAdjust="spacingAndGlyphs">Comparison Date: 2025-09-02</text>
<text x="1508.30" y="89.30" font-size="23.80" font-weight="bold" textLength="202.36" lengthAdjust="spacingAndGlyphs">Glider: unit_307</text>
<text x="1508.30" y="115.90" font-size="23.80" font-weight="bold" textLength="144.55" lengthAdjust="spacingAndGlyphs">Profiles: 16</text>
<text x="1508.30" y="142.60" font-size="23.80" font-weight="bold" textLength="339.59" lengthAdjust="spacingAndGlyphs">First: 2025-09-02 00:22:57</text>
<text x="1508.30" y="169.20" font-size="23.80" font-weight="bold" textLength="334.92" lengthAdjust="spacingAndGlyphs">Last: 2025-09-02 16:20:51</text>
<text x="1508.30" y="195.80" font-size="23.80" font-weight="bold" textLength="339.29" lengthAdjust="spacingAndGlyphs">Method: Nearest-Neighbor</text>
<text x="343.10" y="917.70" font-size="18.10" font-style="italic" textLength="55.00" lengthAdjust="spacingAndGlyphs">Ocean</text>
<text x="403.70" y="917.70" font-size="18.10" font-style="italic" textLength="41.90" lengthAdjust="spacingAndGlyphs">Heat</text>
<text x="449.60" y="917.70" font-size="18.10" font-style="italic" textLength="70.10" lengthAdjust="spacingAndGlyphs">Content</text>
<text x="524.80" y="917.70" font-size="18.10" font-style="italic" textLength="86.30" lengthAdjust="spacingAndGlyphs">(kJ/cm^2)</text>
<text x="616.20" y="917.70" font-size="18.10" font-style="italic" textLength="7.00" lengthAdjust="spacingAndGlyphs">-</text>
<text x="627.80" y="917.70" font-size="18.10" font-style="italic" textLength="57.40" lengthAdjust="spacingAndGlyphs">Glider:</text>
<text x="691.50" y="917.70" font-size="18.10" font-style="italic" textLength="75.90" lengthAdjust="spacingAndGlyphs">73.9767,</text>
<text x="779.20" y="917.70" font-size="18.10" font-style="italic" textLength="63.10" lengthAdjust="spacingAndGlyphs">RTOFS:</text>
<text x="848.60" y="917.70" font-size="18.10" font-style="italic" textLength="75.90" lengthAdjust="spacingAndGlyphs">64.4069,</text>
<text x="936.60" y="917.70" font-size="18.10" font-style="italic" textLength="49.30" lengthAdjust="spacingAndGlyphs">ESPC:</text>
<text x="992.20" y="917.70" font-size="18.10" font-style="italic" textLength="75.80" lengthAdjust="spacingAndGlyphs">63.4144,</text>
<text x="1080.10" y="917.70" font-size="18.10" font-style="italic" textLength="69.00" lengthAdjust="spacingAndGlyphs">CMEMS:</text>
<text x="1156.50" y="917.70" font-size="18.10" font-style="italic" textLength="75.90" lengthAdjust="spacingAndGlyphs">78.7058,</text>
<rect x="1657.1" y="656.0" width="179.9" height="144.0" rx="3.5" fill="#fff" fill-opacity="0.8" stroke="#ccc" stroke-width="1.8"/>
<line x1="1665.3" y1="675.4" x2="1712.8" y2="675.4" stroke="#0000ff" stroke-width="2.7"/>
<circle cx="1689.5" cy="675.4" r="6.1" fill="#0000ff"/>
<text x="1729.80" y="683.50" font-size="23.80" textLength="98.01" lengthAdjust="spacingAndGlyphs">unit_307</text>
<line x1="1665.3" y1="709.6" x2="1712.8" y2="709.6" stroke="#ff0000" stroke-width="2.7"/>
<circle cx="1689.5" cy="709.6" r="6.1" fill="#ff0000"/>
<text x="1729.80" y="717.70" font-size="23.80" textLength="72.44" lengthAdjust="spacingAndGlyphs">RTOFS</text>
<line x1="1665.3" y1="744.2" x2="1712.8" y2="744.2" stroke="#008000" stroke-width="2.7"/>
<circle cx="1689.5" cy="744.2" r="6.1" fill="#008000"/>
<text x="1729.80" y="752.30" font-size="23.80" textLength="57.91" lengthAdjust="spacingAndGlyphs">ESPC</text>
<line x1="1665.3" y1="778.4" x2="1712.8" y2="778.4" stroke="#ff00ff" stroke-width="2.7"/>
<circle cx="1689.5" cy="778.4" r="6.1" fill="#ff00ff"/>
<text x="1729.80" y="786.70" font-size="23.80" textLength="83.22" lengthAdjust="spacingAndGlyphs">CMEMS</text>
<rect x="1548.6" y="259.7" width="396.9" height="313.5" fill="#97b6e1"/>
<g clip-path="url(#clipmap)">
<polygon points="1540.0,250.0 1915.5,250.0 1915.5,259.7 1907.8,266.7 1898.8,271.8 1892.4,279.6 1886.0,288.5 1882.1,298.8 1880.2,309.1 1880.8,318.1 1883.4,328.4 1888.5,339.9 1893.7,348.9 1897.5,357.9 1896.8,364.1 1900.0,374.4 1903.8,384.7 1907.1,393.7 1907.1,401.4 1905.8,410.4 1903.8,419.4 1899.4,425.8 1892.9,429.6 1886.5,427.1 1886.5,421.9 1881.4,415.5 1874.3,411.6 1872.4,403.9 1866.0,398.8 1862.1,388.5 1857.6,380.8 1853.8,370.6 1854.4,365.6 1857.0,359.2 1857.6,350.2 1853.8,343.8 1847.4,339.9 1842.2,333.5 1837.1,327.1 1832.0,323.2 1826.8,323.2 1823.0,327.1 1817.8,330.9 1812.0,334.2 1805.6,330.9 1803.7,324.5 1798.5,320.7 1790.8,317.6 1783.1,316.4 1775.4,316.0 1767.7,317.4 1760.0,319.8 1753.0,320.4 1747.4,320.4 1736.2,320.2 1735.0,326.0 1734.0,333.0 1730.5,337.5 1731.5,341.0 1733.5,345.5 1731.5,347.5 1729.4,349.0 1728.7,346.0 1724.2,342.2 1719.0,343.0 1716.0,346.0 1706.2,347.5 1700.2,346.7 1693.5,341.5 1692.7,338.5 1683.7,337.7 1676.2,336.2 1665.0,332.8 1657.0,331.2 1650.0,330.7 1646.6,331.2 1637.6,334.2 1629.9,339.3 1617.1,349.6 1601.7,357.9 1588.8,368.2 1582.4,378.0 1580.5,388.3 1582.4,398.5 1584.3,411.4 1583.0,417.8 1578.5,429.4 1574.7,442.2 1573.1,457.6 1572.1,470.0 1570.2,480.3 1571.5,489.3 1574.0,499.6 1577.9,507.3 1582.4,517.5 1585.0,522.7 1591.4,529.1 1597.2,536.8 1599.1,545.8 1603.6,550.9 1608.1,558.7 1620.9,558.7 1623.5,561.9 1628.0,561.9 1632.5,569.6 1635.1,570.2 1642.8,567.6 1653.0,564.0 1659.0,564.5 1666.7,561.2 1680.8,559.3 1686.0,558.2 1692.4,554.8 1698.8,550.9 1704.6,546.4 1705.9,538.1 1709.1,534.2 1709.4,521.4 1711.7,513.7 1716.8,509.8 1727.1,506.6 1742.5,504.0 1752.8,500.8 1763.1,502.1 1769.6,503.4 1774.5,500.7 1779.3,504.2 1780.6,510.7 1776.1,518.7 1769.6,525.1 1766.4,534.7 1764.8,549.2 1762.0,560.0 1759.2,573.2 1758.0,585.0 1540.0,585.0" fill="#d2b48c" stroke="#000" stroke-width="2.0" stroke-linejoin="round"/>
<polygon points="1813.8,495.6 1818.0,494.4 1822.6,493.8 1824.2,486.6 1830.7,479.3 1846.7,472.9 1862.8,468.9 1877.3,470.5 1888.5,468.1 1903.0,471.3 1914.2,477.7 1920.7,481.8 1933.5,483.4 1945.5,488.2 1955.0,492.0 1955.0,525.0 1945.5,517.1 1936.7,509.1 1931.9,501.0 1920.7,501.8 1906.2,497.8 1898.2,491.4 1883.7,489.8 1872.4,489.8 1869.2,485.8 1875.6,483.4 1872.4,481.0 1862.8,480.1 1854.8,479.3 1846.7,485.8 1835.5,489.0 1831.5,494.6 1822.6,497.0 1818.0,496.6" fill="#d2b48c" stroke="#000" stroke-width="2.0" stroke-linejoin="round"/>
<polyline points="1638.0,334.0 1629.2,339.6 1617.2,349.2 1604.6,356.0 1594.8,361.8 1587.0,368.4 1581.4,377.2 1579.0,386.2 1579.4,395.0 1581.4,403.5 1583.2,411.0" fill="none" stroke="#000" stroke-width="3.8" stroke-linejoin="round" stroke-linecap="round"/>
<polyline points="1629.5,338.8 1620.0,346.0" fill="none" stroke="#000" stroke-width="5.0" stroke-linejoin="round" stroke-linecap="round"/>
<polyline points="1583.0,372.5 1579.5,381.0 1578.2,390.0 1579.5,400.0" fill="none" stroke="#000" stroke-width="5.2" stroke-linejoin="round" stroke-linecap="round"/>
<ellipse cx="1627.4" cy="334.6" rx="4.3" ry="3.2" fill="#000" transform="rotate(-35 1627.4 334.6)"/>
<polyline points="1624.5,338.5 1628.5,336.0" fill="none" stroke="#000" stroke-width="3.0" stroke-linejoin="round" stroke-linecap="round"/>
<ellipse cx="1628.0" cy="333.9" rx="0.9" ry="0.5" fill="#97b6e1" transform="rotate(-50 1628.0 333.9)"/>
<ellipse cx="1598.0" cy="355.6" rx="5.4" ry="2.9" fill="#000" transform="rotate(-12 1598.0 355.6)"/>
<polyline points="1598.0,356.5 1603.0,357.5" fill="none" stroke="#000" stroke-width="3.0" stroke-linejoin="round" stroke-linecap="round"/>
<ellipse cx="1599.6" cy="355.8" rx="0.9" ry="0.5" fill="#97b6e1" transform="rotate(-20 1599.6 355.8)"/>
<ellipse cx="1590.2" cy="360.9" rx="2.8" ry="2.4" fill="#000" transform="rotate(0 1590.2 360.9)"/>
<polyline points="1590.0,361.0 1593.0,364.0" fill="none" stroke="#000" stroke-width="3.0" stroke-linejoin="round" stroke-linecap="round"/>
<ellipse cx="1585.8" cy="366.6" rx="3.9" ry="2.6" fill="#000" transform="rotate(-25 1585.8 366.6)"/>
<polyline points="1586.0,367.0 1588.5,369.0" fill="none" stroke="#000" stroke-width="3.0" stroke-linejoin="round" stroke-linecap="round"/>
<ellipse cx="1580.4" cy="372.6" rx="3.9" ry="2.4" fill="#000" transform="rotate(-15 1580.4 372.6)"/>
<polyline points="1581.0,373.0 1584.0,374.0" fill="none" stroke="#000" stroke-width="3.0" stroke-linejoin="round" stroke-linecap="round"/>
<ellipse cx="1576.2" cy="382.8" rx="4.4" ry="2.6" fill="#000" transform="rotate(-8 1576.2 382.8)"/>
<ellipse cx="1645.8" cy="327.6" rx="1.7" ry="2.7" fill="#000" transform="rotate(10 1645.8 327.6)"/>
<polygon points="1576.6,421.5 1578.2,424 1574.6,440 1572.6,453 1570.8,452 1571.8,438 1573.4,427" fill="#3f567a" stroke="#111" stroke-width="1.3"/>
<polyline points="1576.0,499.0 1579.0,505.0" fill="none" stroke="#000" stroke-width="4.2" stroke-linejoin="round" stroke-linecap="round"/>
<ellipse cx="1682.6" cy="332.8" rx="6.3" ry="3.7" fill="#000" transform="rotate(5 1682.6 332.8)"/>
<ellipse cx="1681.1" cy="332.2" rx="0.9" ry="0.6" fill="#97b6e1" transform="rotate(0 1681.1 332.2)"/>
<polyline points="1678.0,335.5 1688.0,336.8 1693.0,337.5" fill="none" stroke="#000" stroke-width="2.6" stroke-linejoin="round" stroke-linecap="round"/>
<ellipse cx="1693.0" cy="334.9" rx="3.2" ry="2.1" fill="#000" transform="rotate(20 1693.0 334.9)"/>
<polyline points="1694.5,340.2 1702.5,344.2 1710.0,343.2 1716.5,341.6" fill="none" stroke="#000" stroke-width="6.6" stroke-linejoin="round" stroke-linecap="round"/>
<ellipse cx="1719.2" cy="338.2" rx="5.2" ry="4.2" fill="#000" transform="rotate(10 1719.2 338.2)"/>
<polygon points="1724,321.5 1733,320.5 1735,327 1733.2,334.5 1728,338 1723.5,333.5 1725.2,327.5" fill="#000"/>
<polyline points="1733.6,323.5 1731.5,329 1729.0,333.0" fill="none" stroke="#97b6e1" stroke-width="1.3"/>
<ellipse cx="1723.8" cy="324.3" rx="3.5" ry="3.4" fill="#000" transform="rotate(0 1723.8 324.3)"/>
<ellipse cx="1724.5" cy="324.8" rx="0.7" ry="1.2" fill="#97b6e1" transform="rotate(30 1724.5 324.8)"/>
<polyline points="1739.8,324.0 1741.4,327.6 1740.8,331.6 1738.2,335.0 1734.8,337.4" fill="none" stroke="#000" stroke-width="2.6" stroke-linejoin="round" stroke-linecap="round"/>
<polyline points="1721.4,336.4 1726.0,341.0 1731.4,346.4" fill="none" stroke="#000" stroke-width="4.6" stroke-linejoin="round" stroke-linecap="round"/>
<polyline points="1721.6,336.6 1726,341 1731.2,346.2" fill="none" stroke="#d2b48c" stroke-width="1.9"/>
<polyline points="1731.2,346.2 1729.4,349.6" fill="none" stroke="#000" stroke-width="1.8" stroke-linejoin="round" stroke-linecap="round"/>
<polyline points="1731.2,346.2 1735.4,348.2" fill="none" stroke="#000" stroke-width="2.2" stroke-linejoin="round" stroke-linecap="round"/>
<polyline points="1733.0,346.0 1738.6,343.2" fill="none" stroke="#000" stroke-width="1.8" stroke-linejoin="round" stroke-linecap="round"/>
<polyline points="1735.6,347.0 1738.4,345.0" fill="none" stroke="#000" stroke-width="1.8" stroke-linejoin="round" stroke-linecap="round"/>
<polygon points="1710,322 1711.8,318.8 1714.5,317.2 1718,318.6 1720.6,320.6 1719.2,324.2 1713,325" fill="#97b6e1" stroke="#000" stroke-width="1.9" stroke-linejoin="round"/>
<polyline points="1730.2,318.6 1740.0,317.2 1750.0,318.6 1756.0,319.0" fill="none" stroke="#000" stroke-width="3.6" stroke-linejoin="round" stroke-linecap="round"/>
<polyline points="1737,321.4 1751.5,321.8" fill="none" stroke="#000" stroke-width="1.3" stroke-dasharray="4 1.5"/>
<polygon points="1754.4,309.6 1758.4,309.6 1759.2,320.4 1753.8,320.4" fill="#97b6e1" stroke="#000" stroke-width="1.9" stroke-linejoin="round"/>
<polyline points="1760.0,319.4 1768.0,316.8 1775.5,315.6 1783.0,316.2 1791.0,317.6 1798.5,321.8 1803.6,326.2 1805.2,331.2 1812.0,333.6" fill="none" stroke="#000" stroke-width="4.2" stroke-linejoin="round" stroke-linecap="round"/>
<polyline points="1812.0,333.8 1818.0,331.0 1822.5,327.4 1827.0,323.4 1832.2,323.4 1837.3,326.6" fill="none" stroke="#000" stroke-width="3.0" stroke-linejoin="round" stroke-linecap="round"/>
<polyline points="1842.0,333.5 1847.5,339.8 1853.8,343.6 1857.4,350.2 1856.8,359.0 1854.6,365.5" fill="none" stroke="#000" stroke-width="2.8" stroke-linejoin="round" stroke-linecap="round"/>
<polyline points="1855.0,371.5 1858.5,373.0 1857.0,376.5" fill="none" stroke="#000" stroke-width="4.2" stroke-linejoin="round" stroke-linecap="round"/>
<polyline points="1857.6,380.8 1862.0,388.5 1865.5,396.0" fill="none" stroke="#000" stroke-width="2.6" stroke-linejoin="round" stroke-linecap="round"/>
<polyline points="1866.5,393.0 1869.5,396.0 1868.0,399.5" fill="none" stroke="#000" stroke-width="4.4" stroke-linejoin="round" stroke-linecap="round"/>
<polyline points="1872.4,403.9 1874.3,411.4 1881.2,415.3 1886.2,421.7" fill="none" stroke="#000" stroke-width="2.8" stroke-linejoin="round" stroke-linecap="round"/>
<polyline points="1886.5,424.0 1889.0,428.0 1893.0,429.6 1897.0,427.5" fill="none" stroke="#000" stroke-width="4.4" stroke-linejoin="round" stroke-linecap="round"/>
<polyline points="1867.2,440.6 1867.4,440.6" fill="none" stroke="#000" stroke-width="3.4" stroke-linejoin="round" stroke-linecap="round"/>
<polyline points="1870.5,440.8 1876.0,439.6 1881.5,438.0" fill="none" stroke="#000" stroke-width="4.0" stroke-linejoin="round" stroke-linecap="round"/>
<polyline points="1881.5,438.0 1888.0,436.0 1893.0,433.5 1898.5,429.0 1902.5,423.0 1904.5,417.0" fill="none" stroke="#000" stroke-width="2.4" stroke-linejoin="round" stroke-linecap="round"/>
<polyline points="1893.2,351.5 1896.5,362.0 1899.6,373.5 1903.2,384.0 1906.0,392.0" fill="none" stroke="#000" stroke-width="3.0" stroke-linejoin="round" stroke-linecap="round"/>
<polyline points="1892.5,353.0 1895.2,362.5" fill="none" stroke="#000" stroke-width="3.6" stroke-linejoin="round" stroke-linecap="round"/>
<polyline points="1880.8,309.0 1882.8,298.8 1886.8,288.5 1892.8,280.2" fill="none" stroke="#000" stroke-width="4.4" stroke-linejoin="round" stroke-linecap="round"/>
<polyline points="1892.8,280.2 1899.0,272.2 1907.5,267.2 1914.5,261.0" fill="none" stroke="#000" stroke-width="3.2" stroke-linejoin="round" stroke-linecap="round"/>
<polyline points="1891.5,274.0 1894.0,271.5" fill="none" stroke="#000" stroke-width="3.0" stroke-linejoin="round" stroke-linecap="round"/>
<polyline points="1709.2,534.0 1709.6,521.4 1711.8,514.0" fill="none" stroke="#000" stroke-width="2.6" stroke-linejoin="round" stroke-linecap="round"/>
<polyline points="1763.5,502.3 1769.6,503.4 1774.5,501.0 1779.0,504.2" fill="none" stroke="#000" stroke-width="2.6" stroke-linejoin="round" stroke-linecap="round"/>
<polyline points="1764.3,538.0 1766.3,540.5" fill="none" stroke="#000" stroke-width="4.0" stroke-linejoin="round" stroke-linecap="round"/>
<polyline points="1763.5,546.0 1765.5,548.0" fill="none" stroke="#000" stroke-width="4.0" stroke-linejoin="round" stroke-linecap="round"/>
<polygon points="1681,560.3 1686,558.6 1694,557.6 1695.2,560 1689,563.6 1683,563.2" fill="#97b6e1" stroke="#000" stroke-width="1.6" stroke-linejoin="round"/>
<polyline points="1680.5,561.5 1682.0,562.2" fill="none" stroke="#000" stroke-width="3.4" stroke-linejoin="round" stroke-linecap="round"/>
<polyline points="1658.8,564.6 1659.6,564.6" fill="none" stroke="#000" stroke-width="3.2" stroke-linejoin="round" stroke-linecap="round"/>
<polyline points="1749.5,563.5 1753,562.5 1755.5,556 1756.2,565 1753,568 1756,573" fill="none" stroke="#000" stroke-width="1.5"/>
<line x1="1742.5" y1="571.5" x2="1747.5" y2="565.5" stroke="#000" stroke-width="1.2" stroke-dasharray="3 1.5"/>
<ellipse cx="1777.3" cy="524.7" rx="1.7" ry="3.2" fill="#d2b48c" stroke="#000" stroke-width="1.5" transform="rotate(32 1777.3 524.7)"/>
<polyline points="1881.0,469.5 1888.5,467.6 1896.0,469.0 1903.0,471.4 1910.0,475.4 1915.5,479.6" fill="none" stroke="#000" stroke-width="3.6" stroke-linejoin="round" stroke-linecap="round"/>
<polyline points="1915.5,479.6 1921.0,483.0 1928.0,484.2 1934.0,484.8 1940.0,487.0 1945.5,489.5" fill="none" stroke="#000" stroke-width="5.6" stroke-linejoin="round" stroke-linecap="round"/>
<polyline points="1814.0,495.6 1819.0,494.6" fill="none" stroke="#000" stroke-width="3.2" stroke-linejoin="round" stroke-linecap="round"/>
<polyline points="1821.0,496.4 1825.0,496.4" fill="none" stroke="#000" stroke-width="2.6" stroke-linejoin="round" stroke-linecap="round"/>
<polyline points="1869.0,485.8 1874.0,488.6 1880.0,490.2 1884.0,490.6" fill="none" stroke="#000" stroke-width="3.2" stroke-linejoin="round" stroke-linecap="round"/>
<polyline points="1853.5,481.0 1856.0,479.4" fill="none" stroke="#000" stroke-width="2.6" stroke-linejoin="round" stroke-linecap="round"/>
<polyline points="1859.0,482.8 1862.0,483.8" fill="none" stroke="#000" stroke-width="2.0" stroke-linejoin="round" stroke-linecap="round"/>
<ellipse cx="1854.2" cy="499.6" rx="3.8" ry="3.6" fill="#d2b48c" stroke="#000" stroke-width="2.6"/>
<polyline points="1850.5,494.8 1854.0,493.6 1857.5,496.2" fill="none" stroke="#000" stroke-width="1.8" stroke-linejoin="round" stroke-linecap="round"/>
<polyline points="1858.5,501.6 1864.0,501.2 1870.0,500.4 1876.0,499.6 1880.5,499.2" fill="none" stroke="#000" stroke-width="2.6" stroke-linejoin="round" stroke-linecap="round"/>
<polyline points="1838.0,493.6 1842.5,494.4" fill="none" stroke="#000" stroke-width="1.8" stroke-linejoin="round" stroke-linecap="round"/>
<polyline points="1885.0,499.6 1888.0,499.2" fill="none" stroke="#000" stroke-width="1.4" stroke-linejoin="round" stroke-linecap="round"/>
<polyline points="1917.6,510.8 1925.0,515.4 1933.0,520.0 1939.8,522.6" fill="none" stroke="#000" stroke-width="2.4" stroke-linejoin="round" stroke-linecap="round"/>
<polyline points="1930.0,512.5 1934.0,513.5" fill="none" stroke="#000" stroke-width="2.0" stroke-linejoin="round" stroke-linecap="round"/>
<polyline points="1941.0,521.5 1945.0,522.5" fill="none" stroke="#000" stroke-width="3.0" stroke-linejoin="round" stroke-linecap="round"/>
<polyline points="1881.4,546.3 1886.6,546.7" fill="none" stroke="#000" stroke-width="3.6" stroke-linejoin="round" stroke-linecap="round"/>
<polyline points="1906.0,539.8 1912.6,538.4" fill="none" stroke="#000" stroke-width="2.4" stroke-linejoin="round" stroke-linecap="round"/>
<path d="M1950,563.6 L1943,563.4 Q1938.6,564 1939.4,567.2 Q1940.6,570 1950,569.8 Z" fill="#d2b48c" stroke="#000" stroke-width="1.7"/>
<polyline points="1926.5,394.0 1931.0,398.0 1936.5,397.4" fill="none" stroke="#000" stroke-width="3.6" stroke-linejoin="round" stroke-linecap="round"/>
<polyline points="1936.5,397.4 1941.0,396.0 1945.5,395.4" fill="none" stroke="#000" stroke-width="2.6" stroke-linejoin="round" stroke-linecap="round"/>
<polyline points="1934.5,391.0 1936.0,395.0" fill="none" stroke="#000" stroke-width="2.4" stroke-linejoin="round" stroke-linecap="round"/>
<polyline points="1936.8,383.8 1941.5,386.6 1943.6,388.6" fill="none" stroke="#000" stroke-width="2.0" stroke-linejoin="round" stroke-linecap="round"/>
<polyline points="1942.0,389.5 1941.0,391.4" fill="none" stroke="#000" stroke-width="1.6" stroke-linejoin="round" stroke-linecap="round"/>
<polygon points="1938.8,397.2 1943.5,396 1941,398.4" fill="#d2b48c"/>
<polyline points="1921.3,415.6 1921.0,419.6" fill="none" stroke="#000" stroke-width="3.0" stroke-linejoin="round" stroke-linecap="round"/>
<polyline points="1921.6,421 1923.8,427.2" fill="none" stroke="#333" stroke-width="1.6" stroke-dasharray="1.4 1.2"/>
<circle cx="1924.6" cy="410.2" r="1.1" fill="#556"/>
<polygon points="1941.2,424.5 1943.6,430 1941.5,434 1934.8,438.6 1939.5,443 1945.5,447.8 1950,449 1950,424" fill="#d2b48c" stroke="#000" stroke-width="2.6" stroke-linejoin="round"/>
<polyline points="1941.6,424.2 1942.6,428.5" fill="none" stroke="#000" stroke-width="4.0" stroke-linejoin="round" stroke-linecap="round"/>
<polyline points="1936.0,438.8 1941.5,438.2" fill="none" stroke="#000" stroke-width="3.0" stroke-linejoin="round" stroke-linecap="round"/>
<polyline points="1898.2,452.8 1904.4,451.4" fill="none" stroke="#000" stroke-width="1.7" stroke-linejoin="round" stroke-linecap="round"/>
<circle cx="1899.4" cy="458.5" r="1.0" fill="none" stroke="#222" stroke-width="0.8"/>
<polyline points="1909,450.6 1911.5,454 1916.7,463" fill="none" stroke="#222" stroke-width="1.8" stroke-dasharray="1.6 1.2"/>
<circle cx="1722.6" cy="481.3" r="0.9" fill="none" stroke="#445" stroke-width="0.7"/>
<circle cx="1724.5" cy="485.4" r="0.9" fill="none" stroke="#445" stroke-width="0.7"/>
<circle cx="1692.4" cy="490.3" r="0.9" fill="none" stroke="#445" stroke-width="0.7"/>
<circle cx="1675.7" cy="514.3" r="0.9" fill="none" stroke="#445" stroke-width="0.7"/>
<circle cx="1681.2" cy="529.1" r="0.9" fill="none" stroke="#445" stroke-width="0.7"/>
<circle cx="1852.9" cy="439.3" r="0.9" fill="none" stroke="#445" stroke-width="0.7"/>
<circle cx="1771.0" cy="560.5" r="0.9" fill="none" stroke="#445" stroke-width="0.7"/>
<circle cx="1771.2" cy="564.3" r="0.9" fill="none" stroke="#445" stroke-width="0.7"/>
<polygon points="1891.8,385.8 1895.6,390.8 1892.6,396.4 1887.2,391" fill="#b4b4b4"/>
<polyline points="1559.3,260.3 1563.8,264.8 1570.2,269.3 1574.0,275.7 1577.9,280.2 1581.8,287.9 1586.9,295.0 1594.0,309.1 1599.7,316.8 1603.0,318.7 1603.0,324.5 1604.9,332.9 1612.6,336.1 1613.2,345.1 1617.1,348.9" fill="none" stroke="#97b6e1" stroke-width="2.1" stroke-linejoin="round"/>
<polyline points="1687.3,304.0 1692.4,310.4 1696.3,319.4 1704.0,324.5 1719.4,327.7 1722.0,334.8 1729.7,342.5 1733.5,345.5" fill="none" stroke="#97b6e1" stroke-width="2.1" stroke-linejoin="round"/>
<polyline points="1784.4,259.7 1789.6,269.3 1784.4,273.8 1775.4,273.1 1767.7,280.2 1765.1,291.1 1760.5,298.8 1756.6,306.5 1756.0,311.0" fill="none" stroke="#97b6e1" stroke-width="2.1" stroke-linejoin="round"/>
<polyline points="1815.2,310.4 1810.8,323.2 1812.7,330.9" fill="none" stroke="#97b6e1" stroke-width="2.1" stroke-linejoin="round"/>
<polyline points="1548.6,496.6 1554.1,493.8 1559.3,493.8 1564.4,491.2 1571.5,488.0" fill="none" stroke="#97b6e1" stroke-width="2.1" stroke-linejoin="round"/>
<polyline points="1668.0,561.2 1669.3,566.4 1674.4,567.6 1678.3,573.0" fill="none" stroke="#97b6e1" stroke-width="2.1" stroke-linejoin="round"/>
<polyline points="1671.8,560.6 1675.7,565.1 1677.5,569.0" fill="none" stroke="#97b6e1" stroke-width="2.1" stroke-linejoin="round"/>
<polyline points="1548.6,402.4 1559.3,406.9 1569.6,409.5 1578.5,412.7 1583.7,411.4" fill="none" stroke="#97b6e1" stroke-width="2.1" stroke-linejoin="round"/>
<polyline points="1642.4,259.0 1642.4,282.1 1646.6,287.3 1649.2,295.0 1651.8,302.7 1649.2,311.7 1647.9,322.0 1646.0,331.0" fill="none" stroke="#000" stroke-width="1.8" stroke-linejoin="round"/>
<polyline points="1697.5,259.0 1697.5,269.3 1701.4,275.1 1693.7,284.7 1689.8,293.7 1687.3,303.3 1723.9,303.3 1721.3,309.7 1725.8,316.8 1727.1,322.0" fill="none" stroke="#000" stroke-width="1.8" stroke-linejoin="round"/>
<polyline points="1749.6,259.0 1747.3,284.7 1748.7,316.8" fill="none" stroke="#000" stroke-width="1.8" stroke-linejoin="round"/>
<polyline points="1767.6,316.8 1766.9,310.4 1763.9,303.3 1812.0,303.3" fill="none" stroke="#000" stroke-width="1.8" stroke-linejoin="round"/>
<polyline points="1808.8,259.0 1814.0,275.7 1810.8,284.7 1812.0,301.4 1815.2,309.7 1865.4,313.2 1866.6,317.5 1868.0,316.0 1869.2,309.1 1874.0,309.2 1880.0,310.1" fill="none" stroke="#000" stroke-width="1.8" stroke-linejoin="round"/>
<polyline points="1878.9,259.0 1882.1,269.3 1886.0,275.7 1888.5,280.2" fill="none" stroke="#000" stroke-width="1.8" stroke-linejoin="round"/>
<polyline points="1548.6,402.4 1559.3,406.9 1569.6,409.5 1578.5,412.7 1583.7,411.4" fill="none" stroke="#000" stroke-width="1.7" stroke-dasharray="5 2.5"/>
</g>
<circle cx="1619.4" cy="387.0" r="4.6" fill="#000"/>
<circle cx="1619.4" cy="382.1" r="3.9" fill="#f00" stroke="#000" stroke-width="1.3"/>
<path d="M1915,259.9 H1945.5 V573.2 H1548.6" fill="none" stroke="#000" stroke-width="1.5"/>
<path d="M1548.6,259.9 H1915" fill="none" stroke="#b9b0a0" stroke-width="0.8"/>
<path d="M1548.9,259.7 V573.2" fill="none" stroke="#a9b4c4" stroke-width="0.7"/>
<g stroke="#000">
<line x1="1549.4" y1="251.1" x2="1549.4" y2="259.9" stroke-width="3.5"/>
<line x1="1549.4" y1="573.0" x2="1549.4" y2="582.0" stroke-width="3.5"/>
<line x1="1568.3" y1="256.9" x2="1568.3" y2="259.7" stroke-width="1.7"/>
<line x1="1568.3" y1="573.2" x2="1568.3" y2="576.0" stroke-width="1.7"/>
<line x1="1587.1" y1="256.9" x2="1587.1" y2="259.7" stroke-width="1.7"/>
<line x1="1587.1" y1="573.2" x2="1587.1" y2="576.0" stroke-width="1.7"/>
<line x1="1606.0" y1="251.1" x2="1606.0" y2="259.9" stroke-width="3.5"/>
<line x1="1606.0" y1="573.0" x2="1606.0" y2="582.0" stroke-width="3.5"/>
<line x1="1624.8" y1="256.9" x2="1624.8" y2="259.7" stroke-width="1.7"/>
<line x1="1624.8" y1="573.2" x2="1624.8" y2="576.0" stroke-width="1.7"/>
<line x1="1643.7" y1="256.9" x2="1643.7" y2="259.7" stroke-width="1.7"/>
<line x1="1643.7" y1="573.2" x2="1643.7" y2="576.0" stroke-width="1.7"/>
<line x1="1662.5" y1="251.1" x2="1662.5" y2="259.9" stroke-width="3.5"/>
<line x1="1662.5" y1="573.0" x2="1662.5" y2="582.0" stroke-width="3.5"/>
<line x1="1681.4" y1="256.9" x2="1681.4" y2="259.7" stroke-width="1.7"/>
<line x1="1681.4" y1="573.2" x2="1681.4" y2="576.0" stroke-width="1.7"/>
<line x1="1700.3" y1="256.9" x2="1700.3" y2="259.7" stroke-width="1.7"/>
<line x1="1700.3" y1="573.2" x2="1700.3" y2="576.0" stroke-width="1.7"/>
<line x1="1719.1" y1="251.1" x2="1719.1" y2="259.9" stroke-width="3.5"/>
<line x1="1719.1" y1="573.0" x2="1719.1" y2="582.0" stroke-width="3.5"/>
<line x1="1738.0" y1="256.9" x2="1738.0" y2="259.7" stroke-width="1.7"/>
<line x1="1738.0" y1="573.2" x2="1738.0" y2="576.0" stroke-width="1.7"/>
<line x1="1756.8" y1="256.9" x2="1756.8" y2="259.7" stroke-width="1.7"/>
<line x1="1756.8" y1="573.2" x2="1756.8" y2="576.0" stroke-width="1.7"/>
<line x1="1775.7" y1="251.1" x2="1775.7" y2="259.9" stroke-width="3.5"/>
<line x1="1775.7" y1="573.0" x2="1775.7" y2="582.0" stroke-width="3.5"/>
<line x1="1794.5" y1="256.9" x2="1794.5" y2="259.7" stroke-width="1.7"/>
<line x1="1794.5" y1="573.2" x2="1794.5" y2="576.0" stroke-width="1.7"/>
<line x1="1813.4" y1="256.9" x2="1813.4" y2="259.7" stroke-width="1.7"/>
<line x1="1813.4" y1="573.2" x2="1813.4" y2="576.0" stroke-width="1.7"/>
<line x1="1832.3" y1="251.1" x2="1832.3" y2="259.9" stroke-width="3.5"/>
<line x1="1832.3" y1="573.0" x2="1832.3" y2="582.0" stroke-width="3.5"/>
<line x1="1851.1" y1="256.9" x2="1851.1" y2="259.7" stroke-width="1.7"/>
<line x1="1851.1" y1="573.2" x2="1851.1" y2="576.0" stroke-width="1.7"/>
<line x1="1870.0" y1="256.9" x2="1870.0" y2="259.7" stroke-width="1.7"/>
<line x1="1870.0" y1="573.2" x2="1870.0" y2="576.0" stroke-width="1.7"/>
<line x1="1888.8" y1="251.1" x2="1888.8" y2="259.9" stroke-width="3.5"/>
<line x1="1888.8" y1="573.0" x2="1888.8" y2="582.0" stroke-width="3.5"/>
<line x1="1907.7" y1="256.9" x2="1907.7" y2="259.7" stroke-width="1.7"/>
<line x1="1907.7" y1="573.2" x2="1907.7" y2="576.0" stroke-width="1.7"/>
<line x1="1926.5" y1="256.9" x2="1926.5" y2="259.7" stroke-width="1.7"/>
<line x1="1926.5" y1="573.2" x2="1926.5" y2="576.0" stroke-width="1.7"/>
<line x1="1945.4" y1="251.1" x2="1945.4" y2="259.9" stroke-width="3.5"/>
<line x1="1945.4" y1="573.0" x2="1945.4" y2="582.0" stroke-width="3.5"/>
<line x1="1540.2" y1="573.2" x2="1548.8" y2="573.2" stroke-width="3.5"/>
<line x1="1945.3" y1="573.2" x2="1954.5" y2="573.2" stroke-width="3.5"/>
<line x1="1545.8" y1="553.5" x2="1548.6" y2="553.5" stroke-width="1.7"/>
<line x1="1945.5" y1="553.5" x2="1948.3" y2="553.5" stroke-width="1.7"/>
<line x1="1545.8" y1="533.6" x2="1548.6" y2="533.6" stroke-width="1.7"/>
<line x1="1945.5" y1="533.6" x2="1948.3" y2="533.6" stroke-width="1.7"/>
<line x1="1540.2" y1="513.6" x2="1548.8" y2="513.6" stroke-width="3.5"/>
<line x1="1945.3" y1="513.6" x2="1954.5" y2="513.6" stroke-width="3.5"/>
<line x1="1545.8" y1="493.4" x2="1548.6" y2="493.4" stroke-width="1.7"/>
<line x1="1945.5" y1="493.4" x2="1948.3" y2="493.4" stroke-width="1.7"/>
<line x1="1545.8" y1="473.1" x2="1548.6" y2="473.1" stroke-width="1.7"/>
<line x1="1945.5" y1="473.1" x2="1948.3" y2="473.1" stroke-width="1.7"/>
<line x1="1540.2" y1="452.7" x2="1548.8" y2="452.7" stroke-width="3.5"/>
<line x1="1945.3" y1="452.7" x2="1954.5" y2="452.7" stroke-width="3.5"/>
<line x1="1545.8" y1="432.1" x2="1548.6" y2="432.1" stroke-width="1.7"/>
<line x1="1945.5" y1="432.1" x2="1948.3" y2="432.1" stroke-width="1.7"/>
<line x1="1545.8" y1="411.3" x2="1548.6" y2="411.3" stroke-width="1.7"/>
<line x1="1945.5" y1="411.3" x2="1948.3" y2="411.3" stroke-width="1.7"/>
<line x1="1540.2" y1="390.4" x2="1548.8" y2="390.4" stroke-width="3.5"/>
<line x1="1945.3" y1="390.4" x2="1954.5" y2="390.4" stroke-width="3.5"/>
<line x1="1545.8" y1="369.2" x2="1548.6" y2="369.2" stroke-width="1.7"/>
<line x1="1945.5" y1="369.2" x2="1948.3" y2="369.2" stroke-width="1.7"/>
<line x1="1545.8" y1="347.9" x2="1548.6" y2="347.9" stroke-width="1.7"/>
<line x1="1945.5" y1="347.9" x2="1948.3" y2="347.9" stroke-width="1.7"/>
<line x1="1540.2" y1="326.4" x2="1548.8" y2="326.4" stroke-width="3.5"/>
<line x1="1945.3" y1="326.4" x2="1954.5" y2="326.4" stroke-width="3.5"/>
<line x1="1545.8" y1="304.6" x2="1548.6" y2="304.6" stroke-width="1.7"/>
<line x1="1945.5" y1="304.6" x2="1948.3" y2="304.6" stroke-width="1.7"/>
<line x1="1545.8" y1="282.6" x2="1548.6" y2="282.6" stroke-width="1.7"/>
<line x1="1945.5" y1="282.6" x2="1948.3" y2="282.6" stroke-width="1.7"/>
<line x1="1540.2" y1="260.4" x2="1548.8" y2="260.4" stroke-width="3.5"/>
<line x1="1945.3" y1="260.4" x2="1954.5" y2="260.4" stroke-width="3.5"/>
</g>
<text x="1533.40" y="582.43" font-size="23.80" text-anchor="end" textLength="55.17" lengthAdjust="spacingAndGlyphs">18°N</text>
<text x="1533.40" y="522.76" font-size="23.80" text-anchor="end" textLength="55.17" lengthAdjust="spacingAndGlyphs">21°N</text>
<text x="1533.40" y="461.88" font-size="23.80" text-anchor="end" textLength="55.17" lengthAdjust="spacingAndGlyphs">24°N</text>
<text x="1533.40" y="399.57" font-size="23.80" text-anchor="end" textLength="55.17" lengthAdjust="spacingAndGlyphs">27°N</text>
<text x="1533.40" y="335.57" font-size="23.80" text-anchor="end" textLength="55.17" lengthAdjust="spacingAndGlyphs">30°N</text>
<text x="1533.40" y="269.60" font-size="23.80" text-anchor="end" textLength="55.17" lengthAdjust="spacingAndGlyphs">33°N</text>
<text transform="translate(1547.40 619.00) rotate(-45)" font-size="23.80" text-anchor="middle" textLength="61.99" lengthAdjust="spacingAndGlyphs" y="8.2">99°W</text>
<text transform="translate(1603.97 619.00) rotate(-45)" font-size="23.80" text-anchor="middle" textLength="61.99" lengthAdjust="spacingAndGlyphs" y="8.2">96°W</text>
<text transform="translate(1660.54 619.00) rotate(-45)" font-size="23.80" text-anchor="middle" textLength="61.99" lengthAdjust="spacingAndGlyphs" y="8.2">93°W</text>
<text transform="translate(1717.11 619.00) rotate(-45)" font-size="23.80" text-anchor="middle" textLength="61.99" lengthAdjust="spacingAndGlyphs" y="8.2">90°W</text>
<text transform="translate(1773.68 619.00) rotate(-45)" font-size="23.80" text-anchor="middle" textLength="61.99" lengthAdjust="spacingAndGlyphs" y="8.2">87°W</text>
<text transform="translate(1830.26 619.00) rotate(-45)" font-size="23.80" text-anchor="middle" textLength="61.99" lengthAdjust="spacingAndGlyphs" y="8.2">84°W</text>
<text transform="translate(1886.83 619.00) rotate(-45)" font-size="23.80" text-anchor="middle" textLength="61.99" lengthAdjust="spacingAndGlyphs" y="8.2">81°W</text>
<text transform="translate(1943.40 619.00) rotate(-45)" font-size="23.80" text-anchor="middle" textLength="61.99" lengthAdjust="spacingAndGlyphs" y="8.2">78°W</text>
</svg>
</body></html>
